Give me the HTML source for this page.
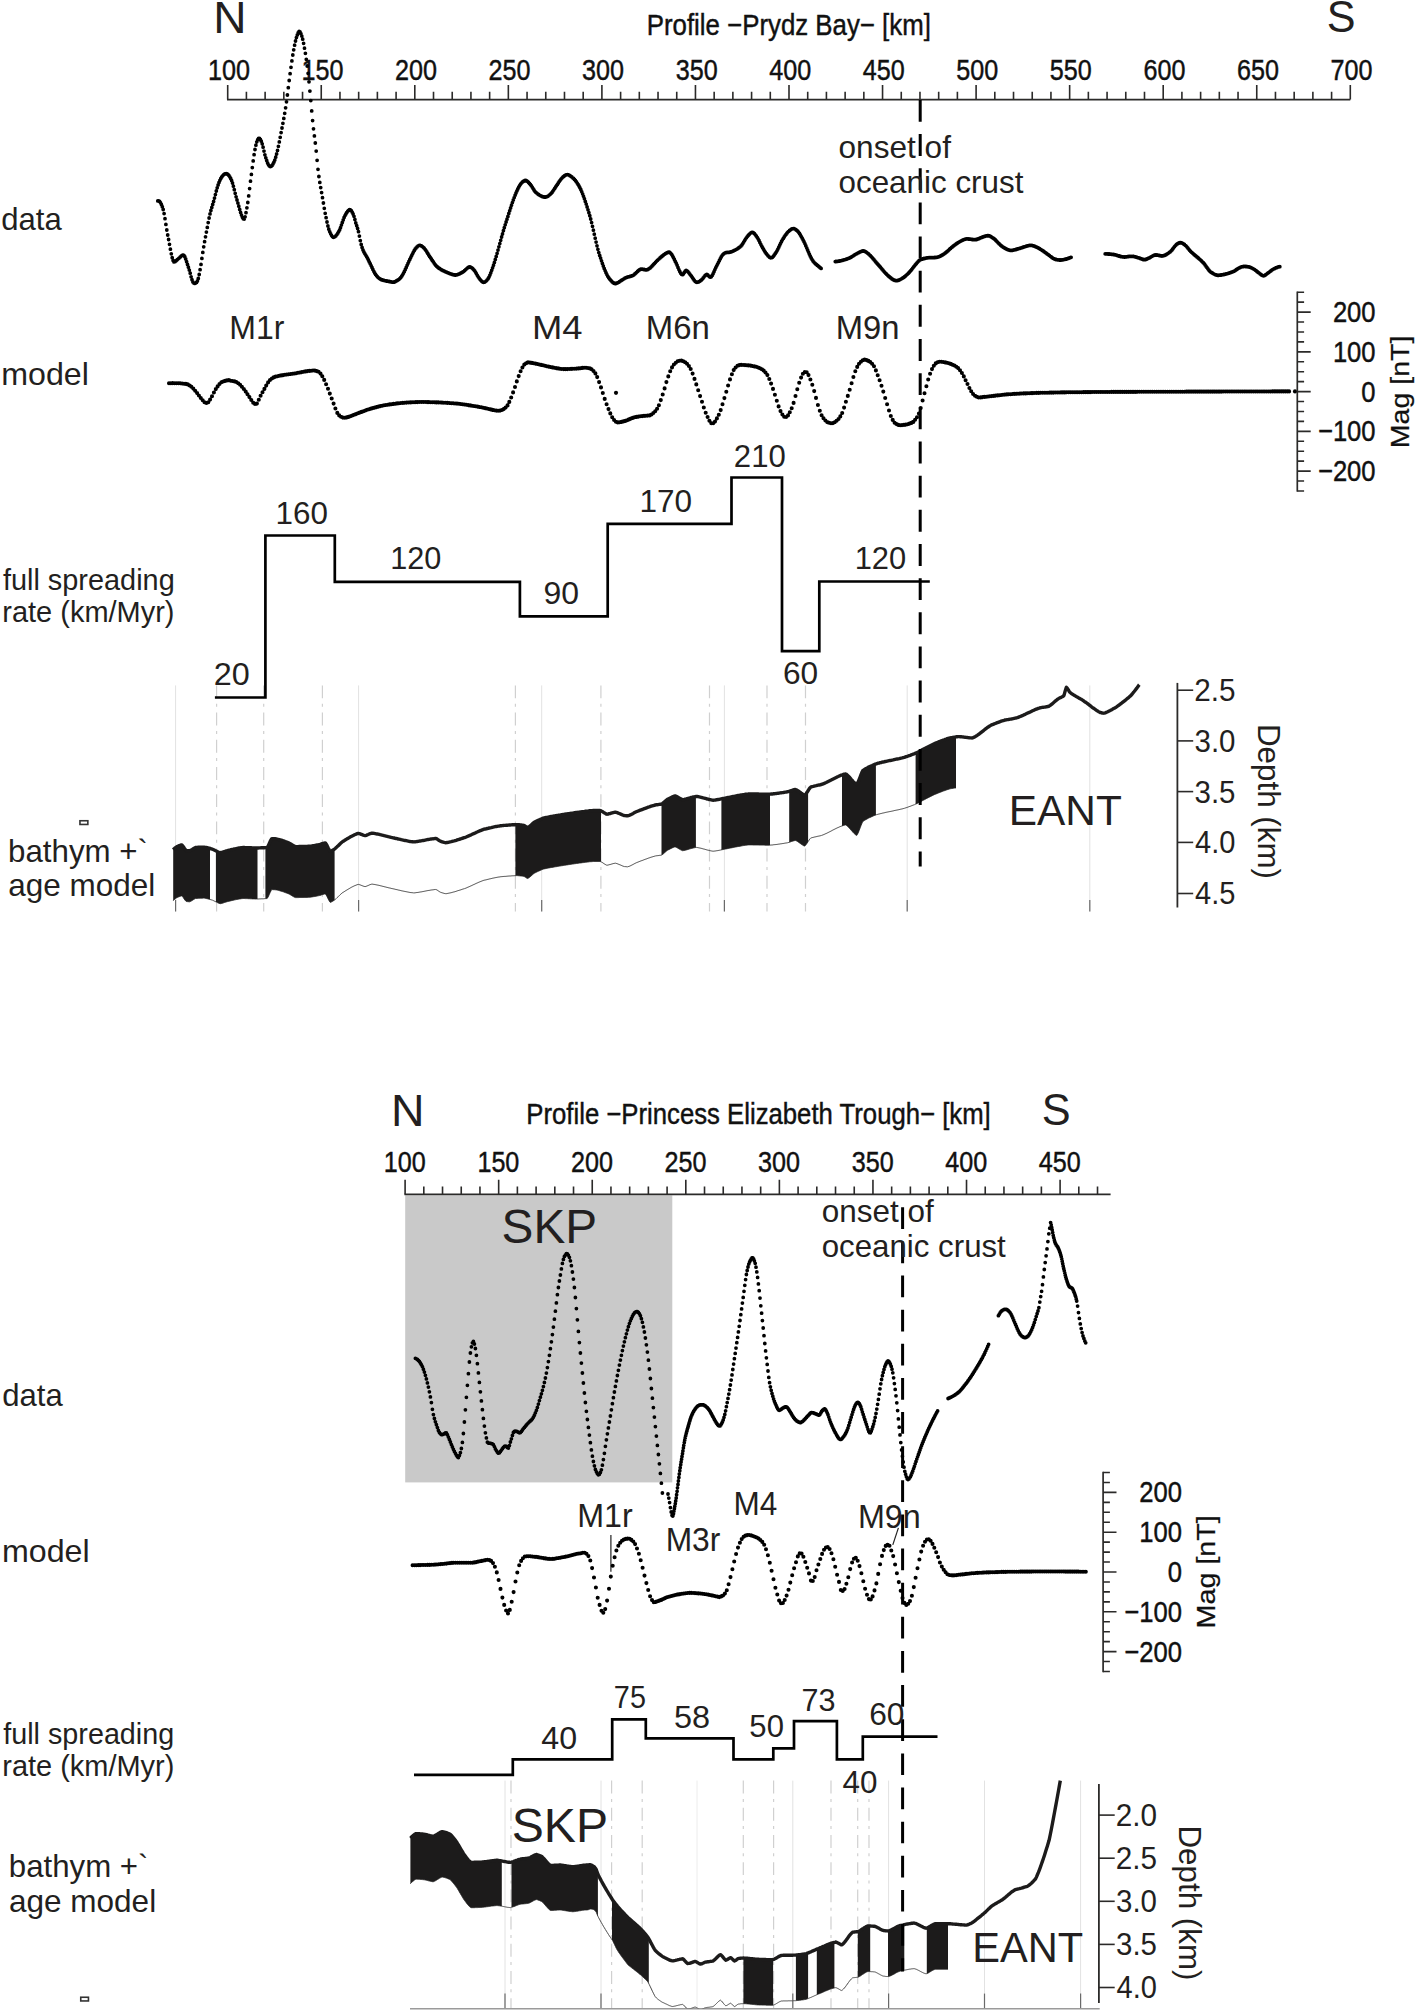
<!DOCTYPE html>
<html lang="en"><head><meta charset="utf-8"><title>Magnetic profiles: Prydz Bay and Princess Elizabeth Trough</title>
<style>html,body{margin:0;padding:0;background:#fff}svg{display:block}</style></head>
<body>
<svg width="1416" height="2012" viewBox="0 0 1416 2012" font-family="'Liberation Sans', Arial, Helvetica, sans-serif">
<rect width="1416" height="2012" fill="#fff"/>
<line x1="175.6" y1="685.4" x2="175.6" y2="911.5" stroke="#e2e2e2" stroke-width="1"/>
<line x1="175.6" y1="900" x2="175.6" y2="911.5" stroke="#6a6a6a" stroke-width="1.2"/>
<line x1="358.6" y1="685.4" x2="358.6" y2="911.5" stroke="#e2e2e2" stroke-width="1"/>
<line x1="358.6" y1="900" x2="358.6" y2="911.5" stroke="#6a6a6a" stroke-width="1.2"/>
<line x1="541.7" y1="685.4" x2="541.7" y2="911.5" stroke="#e2e2e2" stroke-width="1"/>
<line x1="541.7" y1="900" x2="541.7" y2="911.5" stroke="#6a6a6a" stroke-width="1.2"/>
<line x1="724.4" y1="685.4" x2="724.4" y2="911.5" stroke="#e2e2e2" stroke-width="1"/>
<line x1="724.4" y1="900" x2="724.4" y2="911.5" stroke="#6a6a6a" stroke-width="1.2"/>
<line x1="907.2" y1="685.4" x2="907.2" y2="911.5" stroke="#e2e2e2" stroke-width="1"/>
<line x1="907.2" y1="900" x2="907.2" y2="911.5" stroke="#6a6a6a" stroke-width="1.2"/>
<line x1="1089.8" y1="685.4" x2="1089.8" y2="911.5" stroke="#e2e2e2" stroke-width="1"/>
<line x1="1089.8" y1="900" x2="1089.8" y2="911.5" stroke="#6a6a6a" stroke-width="1.2"/>
<line x1="216.6" y1="685.4" x2="216.6" y2="911.5" stroke="#d0d0d0" stroke-width="1.2" stroke-dasharray="12.9 5.4 3 5.9"/>
<line x1="263.7" y1="685.4" x2="263.7" y2="911.5" stroke="#d0d0d0" stroke-width="1.2" stroke-dasharray="12.9 5.4 3 5.9"/>
<line x1="322.4" y1="685.4" x2="322.4" y2="911.5" stroke="#d0d0d0" stroke-width="1.2" stroke-dasharray="12.9 5.4 3 5.9"/>
<line x1="515.4" y1="685.4" x2="515.4" y2="911.5" stroke="#d0d0d0" stroke-width="1.2" stroke-dasharray="12.9 5.4 3 5.9"/>
<line x1="600.9" y1="685.4" x2="600.9" y2="911.5" stroke="#d0d0d0" stroke-width="1.2" stroke-dasharray="12.9 5.4 3 5.9"/>
<line x1="709.5" y1="685.4" x2="709.5" y2="911.5" stroke="#d0d0d0" stroke-width="1.2" stroke-dasharray="12.9 5.4 3 5.9"/>
<line x1="767" y1="685.4" x2="767" y2="911.5" stroke="#d0d0d0" stroke-width="1.2" stroke-dasharray="12.9 5.4 3 5.9"/>
<line x1="805.5" y1="685.4" x2="805.5" y2="911.5" stroke="#d0d0d0" stroke-width="1.2" stroke-dasharray="12.9 5.4 3 5.9"/>
<line x1="227.0" y1="99.6" x2="1350.3" y2="99.6" stroke="#2b2a29" stroke-width="1.7"/>
<path d="M227.70 99.6V85.0M246.41 99.6V91.8M265.12 99.6V91.8M283.83 99.6V91.8M302.54 99.6V91.8M321.25 99.6V85.0M339.96 99.6V91.8M358.67 99.6V91.8M377.38 99.6V91.8M396.09 99.6V91.8M414.80 99.6V85.0M433.51 99.6V91.8M452.22 99.6V91.8M470.93 99.6V91.8M489.64 99.6V91.8M508.35 99.6V85.0M527.06 99.6V91.8M545.77 99.6V91.8M564.48 99.6V91.8M583.19 99.6V91.8M601.90 99.6V85.0M620.61 99.6V91.8M639.32 99.6V91.8M658.03 99.6V91.8M676.74 99.6V91.8M695.45 99.6V85.0M714.16 99.6V91.8M732.87 99.6V91.8M751.58 99.6V91.8M770.29 99.6V91.8M789.00 99.6V85.0M807.71 99.6V91.8M826.42 99.6V91.8M845.13 99.6V91.8M863.84 99.6V91.8M882.55 99.6V85.0M901.26 99.6V91.8M919.97 99.6V91.8M938.68 99.6V91.8M957.39 99.6V91.8M976.10 99.6V85.0M994.81 99.6V91.8M1013.52 99.6V91.8M1032.23 99.6V91.8M1050.94 99.6V91.8M1069.65 99.6V85.0M1088.36 99.6V91.8M1107.07 99.6V91.8M1125.78 99.6V91.8M1144.49 99.6V91.8M1163.20 99.6V85.0M1181.91 99.6V91.8M1200.62 99.6V91.8M1219.33 99.6V91.8M1238.04 99.6V91.8M1256.75 99.6V85.0M1275.46 99.6V91.8M1294.17 99.6V91.8M1312.88 99.6V91.8M1331.59 99.6V91.8M1350.30 99.6V85.0" stroke="#2b2a29" stroke-width="1.6" fill="none"/>
<text transform="translate(228.90,79.9) scale(0.853,1)" font-size="29.5" text-anchor="middle" fill="#111" stroke="#111" stroke-width="0.45">100</text>
<text transform="translate(322.45,79.9) scale(0.853,1)" font-size="29.5" text-anchor="middle" fill="#111" stroke="#111" stroke-width="0.45">150</text>
<text transform="translate(416.00,79.9) scale(0.853,1)" font-size="29.5" text-anchor="middle" fill="#111" stroke="#111" stroke-width="0.45">200</text>
<text transform="translate(509.55,79.9) scale(0.853,1)" font-size="29.5" text-anchor="middle" fill="#111" stroke="#111" stroke-width="0.45">250</text>
<text transform="translate(603.10,79.9) scale(0.853,1)" font-size="29.5" text-anchor="middle" fill="#111" stroke="#111" stroke-width="0.45">300</text>
<text transform="translate(696.65,79.9) scale(0.853,1)" font-size="29.5" text-anchor="middle" fill="#111" stroke="#111" stroke-width="0.45">350</text>
<text transform="translate(790.20,79.9) scale(0.853,1)" font-size="29.5" text-anchor="middle" fill="#111" stroke="#111" stroke-width="0.45">400</text>
<text transform="translate(883.75,79.9) scale(0.853,1)" font-size="29.5" text-anchor="middle" fill="#111" stroke="#111" stroke-width="0.45">450</text>
<text transform="translate(977.30,79.9) scale(0.853,1)" font-size="29.5" text-anchor="middle" fill="#111" stroke="#111" stroke-width="0.45">500</text>
<text transform="translate(1070.85,79.9) scale(0.853,1)" font-size="29.5" text-anchor="middle" fill="#111" stroke="#111" stroke-width="0.45">550</text>
<text transform="translate(1164.40,79.9) scale(0.853,1)" font-size="29.5" text-anchor="middle" fill="#111" stroke="#111" stroke-width="0.45">600</text>
<text transform="translate(1257.95,79.9) scale(0.853,1)" font-size="29.5" text-anchor="middle" fill="#111" stroke="#111" stroke-width="0.45">650</text>
<text transform="translate(1351.50,79.9) scale(0.853,1)" font-size="29.5" text-anchor="middle" fill="#111" stroke="#111" stroke-width="0.45">700</text>
<path d="M157.8 200.9h0M158.7 200.9h0M159.6 201.5h0M160.5 202.7h0M161.4 204.4h0M162.3 206.7h0M163.2 209.5h0M164.1 213.6h0M165.0 218.7h0M165.9 224.4h0M166.8 230.0h0M167.7 235.0h0M168.6 239.5h0M169.5 244.3h0M170.4 249.2h0M171.3 253.8h0M172.2 257.7h0M173.1 260.5h0M174.0 261.9h0M174.9 261.7h0M175.8 261.0h0M176.7 260.2h0M177.6 259.3h0M178.5 258.6h0M179.4 257.8h0M180.3 256.9h0M181.2 256.1h0M182.1 255.5h0M183.0 255.1h0M183.9 255.3h0M184.8 256.7h0M185.7 259.0h0M186.6 261.7h0M187.5 264.5h0M188.4 267.2h0M189.3 270.1h0M190.2 273.2h0M191.1 276.8h0M192.0 279.7h0M192.9 281.9h0M193.8 282.9h0M194.7 283.4h0M195.6 283.1h0M196.5 282.4h0M197.4 281.0h0M198.3 278.5h0M199.2 274.5h0M200.1 269.7h0M201.0 264.4h0M201.9 258.4h0M202.8 252.4h0M203.7 246.8h0M204.6 241.7h0M205.5 236.8h0M206.4 232.1h0M207.3 227.4h0M208.2 222.6h0M209.1 218.0h0M210.0 213.9h0M210.9 210.5h0M211.8 207.4h0M212.7 204.5h0M213.6 201.5h0M214.5 198.1h0M215.4 194.6h0M216.3 191.0h0M217.2 187.8h0M218.1 185.0h0M219.0 182.5h0M219.9 180.3h0M220.8 178.5h0M221.7 177.0h0M222.6 175.8h0M223.5 174.8h0M224.4 174.2h0M225.3 173.8h0M226.2 173.7h0M227.1 173.9h0M228.0 174.5h0M228.9 175.5h0M229.8 176.8h0M230.7 178.4h0M231.6 180.4h0M232.5 183.0h0M233.4 186.2h0M234.3 189.7h0M235.2 193.3h0M236.1 196.8h0M237.0 200.0h0M237.9 203.1h0M238.8 206.2h0M239.7 209.4h0M240.6 212.4h0M241.5 215.1h0M242.4 217.3h0M243.3 218.8h0M244.2 219.1h0M245.1 216.8h0M246.0 212.7h0M246.9 207.8h0M247.8 202.5h0M248.7 195.9h0M249.6 188.6h0M250.5 181.2h0M251.4 174.4h0M252.3 167.6h0M253.2 160.9h0M254.1 154.7h0M255.0 149.5h0M255.9 145.2h0M256.8 141.8h0M257.7 139.7h0M258.6 138.3h0M259.5 138.3h0M260.4 139.4h0M261.3 141.2h0M262.2 143.8h0M263.1 147.2h0M264.0 151.1h0M264.9 154.8h0M265.8 157.8h0M266.7 160.5h0M267.6 163.0h0M268.5 164.8h0M269.4 165.9h0M270.3 166.5h0M271.2 166.3h0M272.1 165.4h0M273.0 163.9h0M273.9 162.2h0M274.8 160.1h0M275.7 157.2h0M276.6 153.9h0M277.5 150.4h0M278.4 146.3h0M279.3 141.9h0M280.2 137.3h0M281.1 132.6h0M282.0 128.0h0M282.9 123.3h0M283.8 118.4h0M284.7 113.3h0M285.6 107.8h0M286.5 101.8h0M287.4 95.0h0M288.3 87.7h0M289.2 80.5h0M290.1 73.7h0M291.0 67.3h0M291.9 60.9h0M292.8 55.0h0M293.7 49.8h0M294.6 45.2h0M295.5 41.0h0M296.4 37.6h0M297.3 35.0h0M298.2 32.7h0M299.1 31.4h0M300.0 31.8h0M300.9 33.6h0M301.8 36.1h0M302.7 39.2h0M303.6 43.3h0M304.5 48.2h0M305.4 53.3h0M306.3 59.3h0M307.2 66.0h0M308.1 73.3h0M309.0 81.8h0M309.9 91.1h0M310.8 100.6h0M311.7 110.9h0M312.6 120.6h0M313.5 128.8h0M314.4 135.9h0M315.3 143.0h0M316.2 151.1h0M317.1 160.3h0M318.0 169.3h0M318.9 176.5h0M319.8 182.4h0M320.7 187.6h0M321.6 192.6h0M322.5 197.7h0M323.4 203.0h0M324.3 208.3h0M325.2 213.3h0M326.1 217.7h0M327.0 222.0h0M327.9 225.9h0M328.8 229.2h0M329.7 231.6h0M330.6 233.6h0M331.5 235.3h0M332.4 236.6h0M333.3 237.3h0M334.2 237.1h0M335.1 236.6h0M336.0 235.7h0M336.9 234.6h0M337.8 233.2h0M338.7 231.6h0M339.6 229.9h0M340.5 227.7h0M341.4 225.1h0M342.3 222.5h0M343.2 219.9h0M344.1 217.5h0M345.0 215.6h0M345.9 214.0h0M346.8 212.5h0M347.7 211.2h0M348.6 210.3h0M349.5 209.7h0M350.4 209.9h0M351.3 210.7h0M352.2 212.2h0M353.1 214.0h0M354.0 216.3h0M354.9 219.5h0M355.8 222.9h0M356.7 225.7h0M357.6 228.5h0M358.5 231.7h0M359.4 236.1h0M360.3 240.6h0M361.2 244.5h0M362.1 247.5h0M363.0 249.9h0M363.9 251.9h0M364.8 253.6h0M365.7 255.1h0M366.6 256.6h0M367.5 258.2h0M368.4 260.0h0M369.3 261.9h0M370.2 263.7h0M371.1 265.6h0M372.0 267.5h0M372.9 269.4h0M373.8 271.3h0M374.7 273.0h0M375.6 274.4h0M376.5 275.6h0M377.4 276.7h0M378.3 277.6h0M379.2 278.3h0M380.1 278.9h0M381.0 279.5h0M381.9 279.9h0M382.8 280.2h0M383.7 280.4h0M384.6 280.6h0M385.5 280.8h0M386.4 281.0h0M387.3 281.2h0M388.2 281.3h0M389.1 281.5h0M390.0 281.7h0M390.9 281.9h0M391.8 282.1h0M392.7 282.2h0M393.6 282.2h0M394.5 282.0h0M395.4 281.6h0M396.3 281.0h0M397.2 280.5h0M398.1 279.9h0M399.0 279.3h0M399.9 278.4h0M400.8 277.4h0M401.7 276.2h0M402.6 274.8h0M403.5 273.2h0M404.4 271.4h0M405.3 269.4h0M406.2 267.4h0M407.1 265.3h0M408.0 263.3h0M408.9 261.3h0M409.8 259.4h0M410.7 257.6h0M411.6 255.7h0M412.5 253.9h0M413.4 252.1h0M414.3 250.5h0M415.2 249.0h0M416.1 247.9h0M417.0 246.9h0M417.9 246.1h0M418.8 245.6h0M419.7 245.4h0M420.6 245.6h0M421.5 246.0h0M422.4 246.6h0M423.3 247.3h0M424.2 248.2h0M425.1 249.3h0M426.0 250.6h0M426.9 252.0h0M427.8 253.5h0M428.7 255.0h0M429.6 256.4h0M430.5 257.7h0M431.4 259.0h0M432.3 260.4h0M433.2 261.7h0M434.1 263.1h0M435.0 264.3h0M435.9 265.4h0M436.8 266.4h0M437.7 267.2h0M438.6 267.9h0M439.5 268.5h0M440.4 269.1h0M441.3 269.7h0M442.2 270.2h0M443.1 270.7h0M444.0 271.1h0M444.9 271.5h0M445.8 271.9h0M446.7 272.3h0M447.6 272.7h0M448.5 273.1h0M449.4 273.4h0M450.3 273.8h0M451.2 274.1h0M452.1 274.4h0M453.0 274.7h0M453.9 274.9h0M454.8 275.0h0M455.7 275.0h0M456.6 274.9h0M457.5 274.6h0M458.4 274.3h0M459.3 273.9h0M460.2 273.4h0M461.1 273.0h0M462.0 272.5h0M462.9 272.0h0M463.8 271.3h0M464.7 270.5h0M465.6 269.6h0M466.5 268.8h0M467.4 268.1h0M468.3 267.5h0M469.2 267.0h0M470.1 266.9h0M471.0 267.3h0M471.9 267.9h0M472.8 268.7h0M473.7 269.7h0M474.6 270.7h0M475.5 272.1h0M476.4 273.7h0M477.3 275.3h0M478.2 276.8h0M479.1 278.1h0M480.0 279.3h0M480.9 280.3h0M481.8 281.3h0M482.7 282.0h0M483.6 282.3h0M484.5 282.2h0M485.4 281.6h0M486.3 280.8h0M487.2 279.8h0M488.1 278.7h0M489.0 277.1h0M489.9 275.1h0M490.8 272.8h0M491.7 270.3h0M492.6 267.8h0M493.5 265.2h0M494.4 262.4h0M495.3 259.5h0M496.2 256.4h0M497.1 253.3h0M498.0 250.1h0M498.9 246.8h0M499.8 243.6h0M500.7 240.3h0M501.6 237.0h0M502.5 233.9h0M503.4 230.7h0M504.3 227.7h0M505.2 224.8h0M506.1 222.0h0M507.0 219.2h0M507.9 216.4h0M508.8 213.5h0M509.7 210.7h0M510.6 208.0h0M511.5 205.2h0M512.4 202.6h0M513.3 200.0h0M514.2 197.6h0M515.1 195.2h0M516.0 193.0h0M516.9 190.9h0M517.8 189.0h0M518.7 187.2h0M519.6 185.6h0M520.5 184.2h0M521.4 183.1h0M522.3 182.2h0M523.2 181.5h0M524.1 180.9h0M525.0 180.5h0M525.9 180.5h0M526.8 180.9h0M527.7 181.6h0M528.6 182.5h0M529.5 183.5h0M530.4 184.5h0M531.3 185.7h0M532.2 187.1h0M533.1 188.6h0M534.0 190.0h0M534.9 191.3h0M535.8 192.3h0M536.7 193.1h0M537.6 193.8h0M538.5 194.5h0M539.4 195.1h0M540.3 195.6h0M541.2 196.1h0M542.1 196.5h0M543.0 196.8h0M543.9 197.0h0M544.8 197.0h0M545.7 197.0h0M546.6 196.8h0M547.5 196.4h0M548.4 195.8h0M549.3 195.1h0M550.2 194.3h0M551.1 193.4h0M552.0 192.4h0M552.9 191.1h0M553.8 189.8h0M554.7 188.4h0M555.6 187.0h0M556.5 185.7h0M557.4 184.4h0M558.3 183.0h0M559.2 181.6h0M560.1 180.3h0M561.0 179.1h0M561.9 178.1h0M562.8 177.2h0M563.7 176.4h0M564.6 175.7h0M565.5 175.2h0M566.4 174.8h0M567.3 174.7h0M568.2 174.8h0M569.1 175.2h0M570.0 175.7h0M570.9 176.3h0M571.8 177.0h0M572.7 177.8h0M573.6 178.5h0M574.5 179.4h0M575.4 180.5h0M576.3 181.7h0M577.2 183.1h0M578.1 184.5h0M579.0 186.0h0M579.9 187.7h0M580.8 189.5h0M581.7 191.6h0M582.6 193.8h0M583.5 196.2h0M584.4 198.7h0M585.3 201.4h0M586.2 204.1h0M587.1 206.9h0M588.0 209.8h0M588.9 212.7h0M589.8 215.7h0M590.7 219.0h0M591.6 222.6h0M592.5 226.3h0M593.4 230.2h0M594.3 234.2h0M595.2 238.2h0M596.1 242.1h0M597.0 245.8h0M597.9 249.3h0M598.8 252.6h0M599.7 255.4h0M600.6 258.1h0M601.5 260.8h0M602.4 263.4h0M603.3 266.0h0M604.2 268.4h0M605.1 270.6h0M606.0 272.7h0M606.9 274.6h0M607.8 276.3h0M608.7 277.7h0M609.6 278.9h0M610.5 279.9h0M611.4 280.9h0M612.3 281.9h0M613.2 282.7h0M614.1 283.3h0M615.0 283.6h0M615.9 283.5h0M616.8 283.2h0M617.7 282.8h0M618.6 282.3h0M619.5 281.7h0M620.4 281.1h0M621.3 280.5h0M622.2 279.9h0M623.1 279.3h0M624.0 278.8h0M624.9 278.2h0M625.8 277.8h0M626.7 277.4h0M627.6 277.1h0M628.5 276.9h0M629.4 276.7h0M630.3 276.4h0M631.2 276.2h0M632.1 275.8h0M633.0 275.4h0M633.9 274.8h0M634.8 274.0h0M635.7 273.2h0M636.6 272.3h0M637.5 271.5h0M638.4 270.7h0M639.3 270.0h0M640.2 269.5h0M641.1 269.2h0M642.0 269.2h0M642.9 269.3h0M643.8 269.5h0M644.7 269.7h0M645.6 269.9h0M646.5 269.9h0M647.4 269.7h0M648.3 269.2h0M649.2 268.6h0M650.1 267.9h0M651.0 267.1h0M651.9 266.2h0M652.8 265.2h0M653.7 264.2h0M654.6 263.3h0M655.5 262.3h0M656.4 261.3h0M657.3 260.4h0M658.2 259.6h0M659.1 258.8h0M660.0 258.0h0M660.9 257.2h0M661.8 256.5h0M662.7 255.7h0M663.6 255.0h0M664.5 254.3h0M665.4 253.7h0M666.3 253.2h0M667.2 252.7h0M668.1 252.4h0M669.0 252.2h0M669.9 252.4h0M670.8 253.3h0M671.7 254.5h0M672.6 256.0h0M673.5 257.7h0M674.4 259.5h0M675.3 261.4h0M676.2 263.2h0M677.1 265.2h0M678.0 267.4h0M678.9 269.6h0M679.8 271.5h0M680.7 273.2h0M681.6 274.3h0M682.5 274.7h0M683.4 273.9h0M684.3 272.5h0M685.2 271.1h0M686.1 270.4h0M687.0 270.8h0M687.9 271.7h0M688.8 272.7h0M689.7 273.9h0M690.6 275.1h0M691.5 276.2h0M692.4 277.6h0M693.3 278.9h0M694.2 280.2h0M695.1 281.3h0M696.0 282.0h0M696.9 282.3h0M697.8 282.2h0M698.7 281.9h0M699.6 281.3h0M700.5 280.7h0M701.4 280.0h0M702.3 279.1h0M703.2 278.0h0M704.1 276.8h0M705.0 275.7h0M705.9 274.9h0M706.8 274.5h0M707.7 274.9h0M708.6 275.8h0M709.5 276.7h0M710.4 277.2h0M711.3 276.7h0M712.2 275.4h0M713.1 273.7h0M714.0 271.7h0M714.9 269.6h0M715.8 267.6h0M716.7 265.8h0M717.6 264.1h0M718.5 262.3h0M719.4 260.5h0M720.3 258.7h0M721.2 257.0h0M722.1 255.6h0M723.0 254.4h0M723.9 253.6h0M724.8 253.1h0M725.7 252.7h0M726.6 252.6h0M727.5 252.4h0M728.4 252.4h0M729.3 252.3h0M730.2 252.2h0M731.1 251.9h0M732.0 251.6h0M732.9 251.2h0M733.8 250.7h0M734.7 250.3h0M735.6 249.8h0M736.5 249.3h0M737.4 248.8h0M738.3 248.2h0M739.2 247.5h0M740.1 246.8h0M741.0 246.0h0M741.9 244.9h0M742.8 243.6h0M743.7 242.1h0M744.6 240.6h0M745.5 239.1h0M746.4 237.8h0M747.3 236.6h0M748.2 235.5h0M749.1 234.5h0M750.0 233.6h0M750.9 232.8h0M751.8 232.4h0M752.7 232.5h0M753.6 232.9h0M754.5 233.7h0M755.4 234.8h0M756.3 236.0h0M757.2 237.3h0M758.1 238.8h0M759.0 240.5h0M759.9 242.4h0M760.8 244.3h0M761.7 246.1h0M762.6 247.7h0M763.5 249.2h0M764.4 250.8h0M765.3 252.2h0M766.2 253.5h0M767.1 254.6h0M768.0 255.7h0M768.9 256.6h0M769.8 257.4h0M770.7 257.8h0M771.6 257.7h0M772.5 257.2h0M773.4 256.2h0M774.3 255.0h0M775.2 253.7h0M776.1 252.3h0M777.0 250.8h0M777.9 249.1h0M778.8 247.2h0M779.7 245.2h0M780.6 243.3h0M781.5 241.5h0M782.4 239.8h0M783.3 238.4h0M784.2 237.0h0M785.1 235.6h0M786.0 234.4h0M786.9 233.2h0M787.8 232.1h0M788.7 231.3h0M789.6 230.5h0M790.5 229.8h0M791.4 229.2h0M792.3 228.8h0M793.2 228.6h0M794.1 228.7h0M795.0 229.1h0M795.9 229.7h0M796.8 230.4h0M797.7 231.2h0M798.6 232.2h0M799.5 233.5h0M800.4 235.0h0M801.3 236.6h0M802.2 238.2h0M803.1 239.9h0M804.0 241.7h0M804.9 243.6h0M805.8 245.7h0M806.7 247.8h0M807.6 250.0h0M808.5 252.1h0M809.4 254.2h0M810.3 256.2h0M811.2 258.0h0M812.1 259.6h0M813.0 261.0h0M813.9 262.1h0M814.8 263.1h0M815.7 263.9h0M816.6 264.7h0M817.5 265.4h0M818.4 266.2h0M819.3 267.0h0M820.2 267.7h0M821.1 268.4h0M835.3 261.6h0M836.2 261.5h0M837.1 261.4h0M838.0 261.3h0M838.9 261.2h0M839.8 261.0h0M840.7 260.8h0M841.6 260.6h0M842.5 260.4h0M843.4 260.1h0M844.3 259.8h0M845.2 259.6h0M846.1 259.3h0M847.0 259.0h0M847.9 258.6h0M848.8 258.3h0M849.7 257.9h0M850.6 257.4h0M851.5 256.9h0M852.4 256.3h0M853.3 255.8h0M854.2 255.2h0M855.1 254.6h0M856.0 254.1h0M856.9 253.6h0M857.8 253.1h0M858.7 252.7h0M859.6 252.2h0M860.5 251.8h0M861.4 251.4h0M862.3 251.2h0M863.2 251.0h0M864.1 251.1h0M865.0 251.4h0M865.9 251.9h0M866.8 252.6h0M867.7 253.3h0M868.6 254.0h0M869.5 254.8h0M870.4 255.7h0M871.3 256.6h0M872.2 257.6h0M873.1 258.7h0M874.0 259.7h0M874.9 260.8h0M875.8 261.9h0M876.7 263.0h0M877.6 264.0h0M878.5 265.0h0M879.4 266.0h0M880.3 267.0h0M881.2 268.1h0M882.1 269.2h0M883.0 270.2h0M883.9 271.3h0M884.8 272.3h0M885.7 273.3h0M886.6 274.2h0M887.5 275.1h0M888.4 276.0h0M889.3 276.7h0M890.2 277.5h0M891.1 278.2h0M892.0 278.9h0M892.9 279.5h0M893.8 280.0h0M894.7 280.4h0M895.6 280.6h0M896.5 280.7h0M897.4 280.6h0M898.3 280.4h0M899.2 280.0h0M900.1 279.6h0M901.0 279.1h0M901.9 278.6h0M902.8 278.0h0M903.7 277.4h0M904.6 276.7h0M905.5 275.9h0M906.4 275.1h0M907.3 274.3h0M908.2 273.4h0M909.1 272.5h0M910.0 271.5h0M910.9 270.4h0M911.8 269.3h0M912.7 268.1h0M913.6 266.9h0M914.5 265.8h0M915.4 264.7h0M916.3 263.7h0M917.2 262.6h0M918.1 261.6h0M919.0 260.7h0M919.9 260.1h0M920.8 259.6h0M921.7 259.3h0M922.6 259.0h0M923.5 258.7h0M924.4 258.5h0M925.3 258.3h0M926.2 258.1h0M927.1 257.9h0M928.0 257.8h0M928.9 257.7h0M929.8 257.6h0M930.7 257.6h0M931.6 257.6h0M932.5 257.6h0M933.4 257.6h0M934.3 257.6h0M935.2 257.5h0M936.1 257.4h0M937.0 257.3h0M937.9 257.1h0M938.8 256.8h0M939.7 256.4h0M940.6 256.0h0M941.5 255.5h0M942.4 255.0h0M943.3 254.4h0M944.2 253.9h0M945.1 253.2h0M946.0 252.5h0M946.9 251.7h0M947.8 250.9h0M948.7 250.1h0M949.6 249.2h0M950.5 248.4h0M951.4 247.6h0M952.3 246.9h0M953.2 246.2h0M954.1 245.5h0M955.0 244.8h0M955.9 244.2h0M956.8 243.5h0M957.7 242.9h0M958.6 242.3h0M959.5 241.8h0M960.4 241.3h0M961.3 240.8h0M962.2 240.4h0M963.1 239.9h0M964.0 239.6h0M964.9 239.3h0M965.8 239.1h0M966.7 238.9h0M967.6 238.9h0M968.5 239.0h0M969.4 239.1h0M970.3 239.2h0M971.2 239.3h0M972.1 239.5h0M973.0 239.6h0M973.9 239.7h0M974.8 239.7h0M975.7 239.6h0M976.6 239.5h0M977.5 239.2h0M978.4 238.9h0M979.3 238.5h0M980.2 238.1h0M981.1 237.7h0M982.0 237.4h0M982.9 237.0h0M983.8 236.7h0M984.7 236.4h0M985.6 236.1h0M986.5 235.9h0M987.4 235.7h0M988.3 235.7h0M989.2 235.9h0M990.1 236.2h0M991.0 236.7h0M991.9 237.3h0M992.8 237.9h0M993.7 238.5h0M994.6 239.2h0M995.5 240.0h0M996.4 240.9h0M997.3 241.8h0M998.2 242.8h0M999.1 243.7h0M1000.0 244.6h0M1000.9 245.4h0M1001.8 246.2h0M1002.7 246.8h0M1003.6 247.4h0M1004.5 247.9h0M1005.4 248.4h0M1006.3 248.9h0M1007.2 249.4h0M1008.1 249.8h0M1009.0 250.1h0M1009.9 250.3h0M1010.8 250.4h0M1011.7 250.4h0M1012.6 250.3h0M1013.5 250.1h0M1014.4 249.9h0M1015.3 249.7h0M1016.2 249.5h0M1017.1 249.2h0M1018.0 248.9h0M1018.9 248.6h0M1019.8 248.4h0M1020.7 248.1h0M1021.6 247.8h0M1022.5 247.5h0M1023.4 247.2h0M1024.3 246.9h0M1025.2 246.6h0M1026.1 246.3h0M1027.0 246.0h0M1027.9 245.8h0M1028.8 245.6h0M1029.7 245.4h0M1030.6 245.4h0M1031.5 245.4h0M1032.4 245.6h0M1033.3 245.9h0M1034.2 246.2h0M1035.1 246.5h0M1036.0 246.9h0M1036.9 247.3h0M1037.8 247.7h0M1038.7 248.2h0M1039.6 248.7h0M1040.5 249.3h0M1041.4 249.8h0M1042.3 250.4h0M1043.2 251.0h0M1044.1 251.7h0M1045.0 252.3h0M1045.9 253.0h0M1046.8 253.7h0M1047.7 254.3h0M1048.6 254.9h0M1049.5 255.6h0M1050.4 256.3h0M1051.3 257.0h0M1052.2 257.7h0M1053.1 258.3h0M1054.0 258.8h0M1054.9 259.2h0M1055.8 259.5h0M1056.7 259.7h0M1057.6 259.8h0M1058.5 259.9h0M1059.4 260.0h0M1060.3 260.0h0M1061.2 260.0h0M1062.1 259.9h0M1063.0 259.8h0M1063.9 259.6h0M1064.8 259.4h0M1065.7 259.2h0M1066.6 259.0h0M1067.5 258.7h0M1068.4 258.4h0M1069.3 258.0h0M1070.2 257.7h0M1071.1 257.3h0M1105.2 253.9h0M1106.1 253.9h0M1107.0 253.9h0M1107.9 254.0h0M1108.8 254.0h0M1109.7 254.1h0M1110.6 254.2h0M1111.5 254.3h0M1112.4 254.4h0M1113.3 254.5h0M1114.2 254.7h0M1115.1 254.9h0M1116.0 255.1h0M1116.9 255.4h0M1117.8 255.7h0M1118.7 256.0h0M1119.6 256.2h0M1120.5 256.5h0M1121.4 256.7h0M1122.3 256.8h0M1123.2 256.9h0M1124.1 257.0h0M1125.0 257.0h0M1125.9 256.9h0M1126.8 256.8h0M1127.7 256.7h0M1128.6 256.6h0M1129.5 256.4h0M1130.4 256.4h0M1131.3 256.3h0M1132.2 256.3h0M1133.1 256.4h0M1134.0 256.6h0M1134.9 256.8h0M1135.8 257.0h0M1136.7 257.3h0M1137.6 257.6h0M1138.5 257.9h0M1139.4 258.1h0M1140.3 258.5h0M1141.2 258.8h0M1142.1 259.2h0M1143.0 259.5h0M1143.9 259.7h0M1144.8 259.7h0M1145.7 259.5h0M1146.6 259.2h0M1147.5 258.7h0M1148.4 258.3h0M1149.3 257.9h0M1150.2 257.4h0M1151.1 256.8h0M1152.0 256.3h0M1152.9 255.8h0M1153.8 255.4h0M1154.7 255.1h0M1155.6 255.0h0M1156.5 255.0h0M1157.4 255.2h0M1158.3 255.3h0M1159.2 255.5h0M1160.1 255.7h0M1161.0 255.9h0M1161.9 256.0h0M1162.8 255.9h0M1163.7 255.7h0M1164.6 255.4h0M1165.5 255.0h0M1166.4 254.5h0M1167.3 253.9h0M1168.2 253.3h0M1169.1 252.6h0M1170.0 251.9h0M1170.9 251.1h0M1171.8 250.2h0M1172.7 249.0h0M1173.6 247.8h0M1174.5 246.6h0M1175.4 245.6h0M1176.3 244.7h0M1177.2 244.0h0M1178.1 243.4h0M1179.0 242.9h0M1179.9 242.6h0M1180.8 242.6h0M1181.7 242.9h0M1182.6 243.3h0M1183.5 243.9h0M1184.4 244.5h0M1185.3 245.3h0M1186.2 246.1h0M1187.1 247.1h0M1188.0 248.2h0M1188.9 249.3h0M1189.8 250.4h0M1190.7 251.4h0M1191.6 252.3h0M1192.5 253.1h0M1193.4 253.9h0M1194.3 254.7h0M1195.2 255.5h0M1196.1 256.2h0M1197.0 257.0h0M1197.9 257.7h0M1198.8 258.5h0M1199.7 259.3h0M1200.6 260.1h0M1201.5 260.9h0M1202.4 261.8h0M1203.3 262.7h0M1204.2 263.7h0M1205.1 264.9h0M1206.0 266.2h0M1206.9 267.4h0M1207.8 268.7h0M1208.7 269.9h0M1209.6 270.9h0M1210.5 271.8h0M1211.4 272.4h0M1212.3 273.0h0M1213.2 273.6h0M1214.1 274.1h0M1215.0 274.6h0M1215.9 274.9h0M1216.8 275.2h0M1217.7 275.3h0M1218.6 275.3h0M1219.5 275.2h0M1220.4 275.1h0M1221.3 275.0h0M1222.2 274.8h0M1223.1 274.7h0M1224.0 274.5h0M1224.9 274.3h0M1225.8 274.0h0M1226.7 273.8h0M1227.6 273.6h0M1228.5 273.3h0M1229.4 273.0h0M1230.3 272.7h0M1231.2 272.4h0M1232.1 272.1h0M1233.0 271.7h0M1233.9 271.3h0M1234.8 270.8h0M1235.7 270.2h0M1236.6 269.5h0M1237.5 268.9h0M1238.4 268.3h0M1239.3 267.9h0M1240.2 267.5h0M1241.1 267.1h0M1242.0 266.8h0M1242.9 266.6h0M1243.8 266.5h0M1244.7 266.4h0M1245.6 266.5h0M1246.5 266.6h0M1247.4 266.7h0M1248.3 266.9h0M1249.2 267.0h0M1250.1 267.3h0M1251.0 267.7h0M1251.9 268.1h0M1252.8 268.6h0M1253.7 269.1h0M1254.6 269.6h0M1255.5 270.3h0M1256.4 271.0h0M1257.3 271.7h0M1258.2 272.4h0M1259.1 273.1h0M1260.0 273.8h0M1260.9 274.5h0M1261.8 275.2h0M1262.7 275.6h0M1263.6 275.8h0M1264.5 275.6h0M1265.4 275.0h0M1266.3 274.3h0M1267.2 273.6h0M1268.1 272.9h0M1269.0 272.3h0M1269.9 271.6h0M1270.8 270.9h0M1271.7 270.2h0M1272.6 269.6h0M1273.5 269.1h0M1274.4 268.7h0M1275.3 268.2h0M1276.2 267.8h0M1277.1 267.5h0M1278.0 267.1h0M1278.9 266.9h0M1279.8 266.7h0M1280.7 nanh0" stroke="#000" stroke-width="3.8" stroke-linecap="round" fill="none"/>
<path d="M169.0 383.2h0M170.9 383.2h0M172.7 383.1h0M174.6 383.2h0M176.5 383.2h0M178.4 383.2h0M180.2 383.3h0M182.1 383.5h0M184.0 383.7h0M185.8 383.9h0M187.7 384.4h0M189.6 385.5h0M191.4 386.8h0M193.3 388.6h0M195.2 390.8h0M197.1 393.1h0M198.9 395.5h0M200.8 398.0h0M202.7 400.3h0M204.5 402.3h0M206.4 403.0h0M208.3 402.3h0M210.1 399.6h0M212.0 396.3h0M213.9 392.5h0M215.8 389.1h0M217.6 386.4h0M219.5 384.0h0M221.4 382.3h0M223.2 381.5h0M225.1 380.9h0M227.0 380.4h0M228.8 380.1h0M230.7 380.7h0M232.6 381.0h0M234.5 381.4h0M236.3 382.0h0M238.2 383.3h0M240.1 384.8h0M241.9 386.7h0M243.8 389.0h0M245.7 391.6h0M247.5 394.3h0M249.4 397.1h0M251.3 400.0h0M253.2 402.7h0M255.0 403.9h0M256.9 403.6h0M258.8 399.8h0M260.6 395.8h0M262.5 392.2h0M264.4 388.9h0M266.2 385.6h0M268.1 382.4h0M270.0 380.0h0M271.9 378.5h0M273.7 377.4h0M275.6 376.6h0M277.5 376.2h0M279.3 375.8h0M281.2 375.4h0M283.1 375.1h0M284.9 374.8h0M286.8 374.5h0M288.7 374.3h0M290.6 374.0h0M292.4 373.8h0M294.3 373.5h0M296.2 373.2h0M298.0 372.8h0M299.9 372.5h0M301.8 372.1h0M303.6 371.7h0M305.5 371.4h0M307.4 371.1h0M309.3 370.9h0M311.1 370.7h0M313.0 370.5h0M314.9 370.6h0M316.7 371.1h0M318.6 371.8h0M320.5 373.6h0M322.3 376.2h0M324.2 379.9h0M326.1 384.2h0M328.0 388.8h0M329.8 393.6h0M331.7 398.5h0M333.6 403.6h0M335.4 408.5h0M337.3 412.9h0M339.2 415.4h0M341.0 416.8h0M342.9 417.6h0M344.8 417.8h0M346.7 417.4h0M348.5 416.9h0M350.4 416.2h0M352.3 415.5h0M354.1 414.8h0M356.0 414.1h0M357.9 413.3h0M359.7 412.6h0M361.6 411.9h0M363.5 411.2h0M365.4 410.5h0M367.2 409.8h0M369.1 409.2h0M371.0 408.6h0M372.8 408.1h0M374.7 407.6h0M376.6 407.1h0M378.4 406.6h0M380.3 406.1h0M382.2 405.7h0M384.1 405.3h0M385.9 405.0h0M387.8 404.7h0M389.7 404.4h0M391.5 404.2h0M393.4 403.9h0M395.3 403.7h0M397.1 403.4h0M399.0 403.2h0M400.9 403.0h0M402.8 402.9h0M404.6 402.8h0M406.5 402.6h0M408.4 402.5h0M410.2 402.4h0M412.1 402.3h0M414.0 402.2h0M415.8 402.1h0M417.7 402.1h0M419.6 402.0h0M421.5 402.0h0M423.3 402.0h0M425.2 402.0h0M427.1 402.1h0M428.9 402.1h0M430.8 402.2h0M432.7 402.2h0M434.5 402.3h0M436.4 402.4h0M438.3 402.4h0M440.2 402.5h0M442.0 402.6h0M443.9 402.7h0M445.8 402.8h0M447.6 402.9h0M449.5 403.0h0M451.4 403.2h0M453.2 403.3h0M455.1 403.5h0M457.0 403.6h0M458.9 403.8h0M460.7 404.0h0M462.6 404.2h0M464.5 404.5h0M466.3 404.8h0M468.2 405.1h0M470.1 405.4h0M471.9 405.7h0M473.8 406.0h0M475.7 406.3h0M477.6 406.6h0M479.4 407.0h0M481.3 407.3h0M483.2 407.7h0M485.0 408.1h0M486.9 408.5h0M488.8 409.0h0M490.6 409.4h0M492.5 409.9h0M494.4 410.3h0M496.3 410.6h0M498.1 410.8h0M500.0 410.6h0M501.9 410.0h0M503.7 409.1h0M505.6 407.6h0M507.5 405.4h0M509.3 401.9h0M511.2 397.5h0M513.1 392.4h0M515.0 387.0h0M516.8 381.4h0M518.7 376.1h0M520.6 371.2h0M522.4 367.5h0M524.3 364.6h0M526.2 363.2h0M528.0 362.4h0M529.9 362.6h0M531.8 362.9h0M533.7 363.2h0M535.5 363.6h0M537.4 364.0h0M539.3 364.5h0M541.1 364.9h0M543.0 365.3h0M544.9 365.7h0M546.7 366.2h0M548.6 366.6h0M550.5 367.0h0M552.4 367.4h0M554.2 367.7h0M556.1 368.1h0M558.0 368.4h0M559.8 368.7h0M561.7 369.0h0M563.6 369.1h0M565.4 369.1h0M567.3 369.1h0M569.2 369.0h0M571.1 368.9h0M572.9 368.8h0M574.8 368.7h0M576.7 368.6h0M578.5 368.4h0M580.4 368.2h0M582.3 367.9h0M584.1 367.8h0M586.0 367.7h0M587.9 368.0h0M589.8 368.4h0M591.6 369.3h0M593.5 371.0h0M595.4 373.4h0M597.2 377.1h0M599.1 382.1h0M601.0 387.4h0M602.8 393.0h0M604.7 398.9h0M606.6 404.3h0M608.5 409.1h0M610.3 413.4h0M612.2 417.3h0M614.1 420.0h0M615.9 421.8h0M617.8 422.4h0M619.7 422.2h0M621.5 421.9h0M623.4 421.4h0M625.3 420.9h0M627.2 420.2h0M629.0 419.4h0M630.9 418.6h0M632.8 417.9h0M634.6 417.3h0M636.5 416.9h0M638.4 416.6h0M640.2 416.3h0M642.1 416.1h0M644.0 415.9h0M645.9 415.7h0M647.7 415.6h0M649.6 415.4h0M651.5 414.5h0M653.3 413.0h0M655.2 411.3h0M657.1 408.7h0M658.9 405.2h0M660.8 400.1h0M662.7 394.5h0M664.6 388.4h0M666.4 382.1h0M668.3 376.4h0M670.2 371.3h0M672.0 367.4h0M673.9 364.5h0M675.8 362.7h0M677.6 361.3h0M679.5 360.8h0M681.4 360.6h0M683.3 361.2h0M685.1 362.3h0M687.0 363.7h0M688.9 366.0h0M690.7 369.0h0M692.6 373.6h0M694.5 378.9h0M696.3 384.4h0M698.2 390.3h0M700.1 396.1h0M702.0 401.8h0M703.8 407.5h0M705.7 412.8h0M707.6 417.0h0M709.4 420.7h0M711.3 423.3h0M713.2 423.3h0M715.0 421.6h0M716.9 418.4h0M718.8 414.7h0M720.7 410.1h0M722.5 404.2h0M724.4 398.1h0M726.3 391.7h0M728.1 385.5h0M730.0 379.4h0M731.9 374.3h0M733.7 370.1h0M735.6 367.5h0M737.5 365.7h0M739.4 365.1h0M741.2 364.9h0M743.1 365.0h0M745.0 365.1h0M746.8 365.2h0M748.7 365.4h0M750.6 365.6h0M752.4 366.0h0M754.3 366.4h0M756.2 366.8h0M758.1 367.5h0M759.9 368.3h0M761.8 369.2h0M763.7 370.6h0M765.5 372.5h0M767.4 375.1h0M769.3 379.0h0M771.1 383.6h0M773.0 388.9h0M774.9 394.8h0M776.8 400.8h0M778.6 406.4h0M780.5 411.1h0M782.4 414.5h0M784.2 416.8h0M786.1 417.0h0M788.0 415.4h0M789.8 412.2h0M791.7 408.2h0M793.6 402.9h0M795.5 396.0h0M797.3 389.2h0M799.2 382.7h0M801.1 377.6h0M802.9 373.7h0M804.8 372.0h0M806.7 372.2h0M808.5 375.1h0M810.4 379.5h0M812.3 384.8h0M814.2 391.1h0M816.0 397.9h0M817.9 405.0h0M819.8 410.7h0M821.6 415.2h0M823.5 418.2h0M825.4 420.5h0M827.2 422.1h0M829.1 422.8h0M831.0 423.2h0M832.9 423.1h0M834.7 422.3h0M836.6 420.8h0M838.5 419.0h0M840.3 416.4h0M842.2 413.0h0M844.1 407.6h0M845.9 401.7h0M847.8 395.9h0M849.7 389.8h0M851.6 383.2h0M853.4 377.0h0M855.3 371.2h0M857.2 366.9h0M859.0 363.7h0M860.9 361.7h0M862.8 360.3h0M864.6 359.6h0M866.5 360.1h0M868.4 360.9h0M870.3 362.0h0M872.1 363.8h0M874.0 366.3h0M875.9 370.4h0M877.7 375.3h0M879.6 380.3h0M881.5 385.8h0M883.3 391.6h0M885.2 398.0h0M887.1 404.3h0M889.0 410.5h0M890.8 416.0h0M892.7 419.9h0M894.6 422.7h0M896.4 424.0h0M898.3 424.9h0M900.2 425.2h0M902.0 425.1h0M903.9 424.9h0M905.8 424.6h0M907.7 424.2h0M909.5 423.6h0M911.4 422.9h0M913.3 421.9h0M915.1 419.8h0M917.0 417.3h0M918.9 413.6h0M920.7 408.1h0M922.6 400.5h0M924.5 393.3h0M926.4 386.2h0M928.2 379.5h0M930.1 373.8h0M932.0 369.1h0M933.8 365.7h0M935.7 363.4h0M937.6 362.3h0M939.4 361.8h0M941.3 361.8h0M943.2 362.0h0M945.1 362.4h0M946.9 362.8h0M948.8 363.3h0M950.7 363.9h0M952.5 364.7h0M954.4 365.5h0M956.3 366.7h0M958.1 368.1h0M960.0 370.2h0M961.9 373.0h0M963.8 376.4h0M965.6 380.2h0M967.5 384.0h0M969.4 388.0h0M971.2 391.3h0M973.1 394.0h0M975.0 395.8h0M976.8 396.8h0M978.7 397.5h0M980.6 397.4h0M982.5 397.1h0M984.3 396.9h0M986.2 396.7h0M988.1 396.5h0M989.9 396.3h0M991.8 396.1h0M993.7 395.9h0M995.5 395.6h0M997.4 395.4h0M999.3 395.2h0M1001.2 395.0h0M1003.0 394.8h0M1004.9 394.6h0M1006.8 394.4h0M1008.6 394.3h0M1010.5 394.2h0M1012.4 394.0h0M1014.2 393.9h0M1016.1 393.8h0M1018.0 393.7h0M1019.9 393.6h0M1021.7 393.5h0M1023.6 393.4h0M1025.5 393.4h0M1027.3 393.3h0M1029.2 393.2h0M1031.1 393.1h0M1032.9 393.1h0M1034.8 393.0h0M1036.7 392.9h0M1038.6 392.9h0M1040.4 392.8h0M1042.3 392.8h0M1044.2 392.7h0M1046.0 392.7h0M1047.9 392.7h0M1049.8 392.6h0M1051.6 392.6h0M1053.5 392.6h0M1055.4 392.5h0M1057.3 392.5h0M1059.1 392.5h0M1061.0 392.4h0M1062.9 392.4h0M1064.7 392.4h0M1066.6 392.3h0M1068.5 392.3h0M1070.3 392.3h0M1072.2 392.3h0M1074.1 392.3h0M1076.0 392.2h0M1077.8 392.2h0M1079.7 392.2h0M1081.6 392.2h0M1083.4 392.1h0M1085.3 392.1h0M1087.2 392.1h0M1089.0 392.1h0M1090.9 392.1h0M1092.8 392.0h0M1094.7 392.0h0M1096.5 392.0h0M1098.4 392.0h0M1100.3 392.0h0M1102.1 392.0h0M1104.0 392.0h0M1105.9 392.0h0M1107.7 392.0h0M1109.6 392.0h0M1111.5 391.9h0M1113.4 391.9h0M1115.2 391.9h0M1117.1 391.9h0M1119.0 391.9h0M1120.8 391.9h0M1122.7 391.9h0M1124.6 391.9h0M1126.4 391.9h0M1128.3 391.9h0M1130.2 391.9h0M1132.1 391.9h0M1133.9 391.9h0M1135.8 391.9h0M1137.7 391.8h0M1139.5 391.8h0M1141.4 391.8h0M1143.3 391.8h0M1145.1 391.8h0M1147.0 391.8h0M1148.9 391.8h0M1150.8 391.8h0M1152.6 391.8h0M1154.5 391.8h0M1156.4 391.8h0M1158.2 391.8h0M1160.1 391.8h0M1162.0 391.7h0M1163.8 391.7h0M1165.7 391.7h0M1167.6 391.7h0M1169.5 391.7h0M1171.3 391.7h0M1173.2 391.7h0M1175.1 391.7h0M1176.9 391.7h0M1178.8 391.7h0M1180.7 391.7h0M1182.5 391.7h0M1184.4 391.7h0M1186.3 391.6h0M1188.2 391.6h0M1190.0 391.6h0M1191.9 391.6h0M1193.8 391.6h0M1195.6 391.6h0M1197.5 391.6h0M1199.4 391.6h0M1201.2 391.6h0M1203.1 391.6h0M1205.0 391.6h0M1206.9 391.6h0M1208.7 391.6h0M1210.6 391.6h0M1212.5 391.6h0M1214.3 391.6h0M1216.2 391.6h0M1218.1 391.6h0M1219.9 391.6h0M1221.8 391.6h0M1223.7 391.5h0M1225.6 391.5h0M1227.4 391.5h0M1229.3 391.5h0M1231.2 391.5h0M1233.0 391.5h0M1234.9 391.5h0M1236.8 391.5h0M1238.6 391.5h0M1240.5 391.5h0M1242.4 391.5h0M1244.3 391.5h0M1246.1 391.5h0M1248.0 391.5h0M1249.9 391.5h0M1251.7 391.5h0M1253.6 391.5h0M1255.5 391.5h0M1257.3 391.5h0M1259.2 391.5h0M1261.1 391.5h0M1263.0 391.5h0M1264.8 391.5h0M1266.7 391.5h0M1268.6 391.5h0M1270.4 391.5h0M1272.3 391.4h0M1274.2 391.4h0M1276.0 391.4h0M1277.9 391.4h0M1279.8 391.4h0M1281.7 391.4h0M1283.5 391.4h0M1285.4 391.4h0M1287.3 391.4h0M1289.1 391.4h0" stroke="#000" stroke-width="4.1" stroke-linecap="round" fill="none"/>
<circle cx="616" cy="392.8" r="2.1" fill="#000"/>
<circle cx="1295" cy="391.4" r="2.1" fill="#000"/>
<line x1="1297.3" y1="291.53" x2="1297.3" y2="491.68" stroke="#2b2a29" stroke-width="1.7"/>
<path d="M1297.3 292.23h6.8M1297.3 302.16h6.8M1297.3 312.10h13.4M1297.3 322.04h6.8M1297.3 331.98h6.8M1297.3 341.91h6.8M1297.3 351.85h13.4M1297.3 361.79h6.8M1297.3 371.73h6.8M1297.3 381.66h6.8M1297.3 391.60h13.4M1297.3 401.54h6.8M1297.3 411.48h6.8M1297.3 421.41h6.8M1297.3 431.35h13.4M1297.3 441.29h6.8M1297.3 451.23h6.8M1297.3 461.16h6.8M1297.3 471.10h13.4M1297.3 481.04h6.8M1297.3 490.98h6.8" stroke="#2b2a29" stroke-width="1.6" fill="none"/>
<text transform="translate(1375.60,322.00) scale(0.868,1)" font-size="29.5" text-anchor="end" fill="#111" stroke="#111" stroke-width="0.45">200</text>
<text transform="translate(1375.60,361.75) scale(0.868,1)" font-size="29.5" text-anchor="end" fill="#111" stroke="#111" stroke-width="0.45">100</text>
<text transform="translate(1375.60,401.50) scale(0.868,1)" font-size="29.5" text-anchor="end" fill="#111" stroke="#111" stroke-width="0.45">0</text>
<text transform="translate(1375.60,441.25) scale(0.868,1)" font-size="29.5" text-anchor="end" fill="#111" stroke="#111" stroke-width="0.45">−100</text>
<text transform="translate(1375.60,481.00) scale(0.868,1)" font-size="29.5" text-anchor="end" fill="#111" stroke="#111" stroke-width="0.45">−200</text>
<path d="M214.9 697.5L265.4 697.5L265.4 535.5L334.8 535.5L334.8 581.8L519.9 581.8L519.9 616.4L607.7 616.4L607.7 523.8L731.5 523.8L731.5 477.5L782 477.5L782 651.1L819.3 651.1L819.3 581.5L929.8 581.5" stroke="#000" stroke-width="2.7" fill="none" stroke-linejoin="miter"/>
<rect x="79.95" y="820.75" width="7.9" height="3.7" fill="none" stroke="#333" stroke-width="1.6"/>
<g>
<polyline points="173.2,900.7 174.2,899.7 175.2,898.8 176.2,898.1 177.2,897.5 178.2,897.1 179.2,896.7 180.2,896.3 181.2,896.0 181.7,895.9 182.2,896.3 183.2,897.5 184.2,899.0 185.2,900.4 186.2,901.4 186.3,901.5 187.2,901.6 188.2,901.7 189.2,901.8 189.7,901.8 190.2,901.6 191.2,901.1 192.2,900.5 193.2,899.8 194.2,899.2 195.2,898.6 195.6,898.5 196.2,898.5 197.2,898.4 198.2,898.3 199.2,898.3 200.2,898.2 201.2,898.2 202.2,898.2 203.2,898.1 204.1,898.1 204.2,898.1 205.2,898.3 206.2,898.5 207.2,898.7 208.2,899.0 209.2,899.2 210.2,899.5 211.2,899.8 212.2,900.1 212.5,900.2 213.2,900.5 214.2,901.0 215.2,901.5 216.2,902.0 217.2,902.5 218.2,903.0 219.2,903.4 220.2,903.7 221.2,903.5 222.2,903.3 223.2,903.0 224.2,902.6 225.2,902.3 226.2,902.0 227.2,901.7 227.8,901.5 228.2,901.4 229.2,901.2 230.2,901.0 231.2,900.7 232.2,900.5 233.2,900.3 234.2,900.0 235.2,899.8 236.2,899.6 237.2,899.4 238.2,899.2 239.2,899.0 240.2,898.9 241.2,898.7 242.2,898.6 243.1,898.5 243.2,898.5 244.2,898.5 245.2,898.6 246.2,898.6 247.2,898.6 248.2,898.7 249.2,898.7 250.2,898.8 251.2,898.8 252.2,898.9 253.2,898.9 254.2,898.9 255.2,899.0 256.2,899.0 256.6,899.0 257.2,899.0 258.2,899.0 259.2,898.9 260.2,898.9 261.2,898.8 262.2,898.8 263.2,898.8 264.2,898.7 265.2,898.6 266.2,898.6 267.1,898.5 267.2,898.4 268.2,896.9 269.2,894.7 270.2,892.4 271.2,890.5 271.9,889.6 272.2,889.6 273.2,889.7 274.2,889.7 275.2,889.8 276.2,889.9 276.9,890.0 277.2,890.1 278.2,890.3 279.2,890.6 280.2,890.9 281.2,891.2 282.2,891.5 283.2,891.8 284.2,892.2 285.2,892.6 286.2,892.9 287.2,893.3 288.2,893.7 288.8,893.9 289.2,894.1 290.2,894.7 291.2,895.3 292.2,895.9 293.2,896.5 294.2,897.1 295.2,897.5 295.6,897.6 296.2,897.6 297.2,897.6 298.2,897.6 299.2,897.5 300.2,897.5 301.2,897.5 302.2,897.5 303.2,897.5 304.2,897.4 305.2,897.4 306.2,897.4 307.2,897.4 308.2,897.3 309.2,897.3 310.2,897.2 311.2,897.1 312.2,896.9 313.2,896.7 314.2,896.6 315.2,896.4 316.2,896.2 317.2,896.0 318.2,895.8 319.2,895.6 319.3,895.6 320.2,895.4 321.2,895.0 322.2,894.7 323.2,894.4 324.2,894.1 325.2,893.9 325.3,893.9 326.2,895.0 327.2,896.9 328.2,899.0 329.2,900.9 330.2,902.3 330.3,902.4 331.2,902.1 332.2,901.5 333.2,900.9 334.2,900.3 334.6,900.0 335.2,899.5 336.2,898.6 337.2,897.6 338.2,896.7 339.2,895.7 340.2,894.7 341.2,893.8 342.2,892.9 343.2,892.3 344.2,891.7 345.2,891.0 346.2,890.4 347.2,889.8 348.2,889.2 349.2,888.6 350.2,888.0 351.2,887.4 352.2,886.9 353.2,886.4 354.2,885.9 355.2,885.5 356.2,885.1 357.2,884.7 358.2,884.4 358.3,884.4 359.2,884.6 360.2,884.9 361.2,885.3 362.2,885.7 363.2,886.1 364.2,886.4 365.1,886.6 365.2,886.6 366.2,886.3 367.2,885.9 368.2,885.5 369.2,885.0 370.2,884.6 371.2,884.3 371.9,884.1 372.2,884.1 373.2,884.3 374.2,884.4 375.2,884.6 376.2,884.8 377.2,885.0 378.2,885.2 379.2,885.4 380.2,885.7 381.2,885.9 382.2,886.2 383.2,886.4 384.2,886.7 385.2,886.9 386.2,887.2 387.2,887.4 388.2,887.7 389.2,887.9 390.0,888.1 390.2,888.1 391.2,888.4 392.2,888.6 393.2,888.8 394.2,889.0 395.2,889.3 396.2,889.5 397.2,889.7 398.2,890.0 399.2,890.2 400.2,890.4 401.2,890.7 402.2,890.9 403.2,891.1 404.2,891.3 405.2,891.5 406.2,891.7 407.2,891.9 408.2,892.1 409.2,892.3 410.2,892.5 411.2,892.6 412.2,892.7 413.2,892.8 413.7,892.9 414.2,892.9 415.2,892.8 416.2,892.6 417.2,892.5 418.2,892.4 419.2,892.2 420.2,892.0 421.2,891.9 422.2,891.7 423.2,891.5 424.2,891.3 425.2,891.1 426.2,890.9 427.2,890.7 428.2,890.5 429.2,890.4 430.2,890.2 431.2,890.0 432.2,889.9 433.2,889.8 434.2,889.6 435.2,889.5 435.8,889.5 436.2,889.6 437.2,890.1 438.2,890.8 439.2,891.5 440.2,892.1 440.8,892.4 441.2,892.5 442.2,892.8 443.2,893.1 444.2,893.4 445.2,893.6 445.9,893.7 446.2,893.7 447.2,893.5 448.2,893.3 449.2,893.1 450.2,892.9 451.2,892.7 452.2,892.4 453.2,892.1 454.2,891.9 455.2,891.6 456.2,891.3 457.2,890.9 458.2,890.6 459.2,890.3 460.2,890.0 461.2,889.7 462.2,889.3 463.2,889.0 464.2,888.7 464.6,888.6 465.2,888.4 466.2,888.0 467.2,887.5 468.2,887.1 469.2,886.7 470.2,886.2 471.2,885.8 472.2,885.3 473.2,884.8 474.2,884.4 475.2,883.9 476.2,883.4 477.2,883.0 478.2,882.5 479.2,882.1 480.2,881.7 481.2,881.3 482.2,880.9 483.2,880.5 484.2,880.2 485.2,880.0 486.2,879.8 487.2,879.5 488.2,879.3 489.2,879.0 490.2,878.8 491.2,878.6 492.2,878.3 493.2,878.1 494.2,877.9 495.2,877.7 496.2,877.5 497.2,877.3 498.2,877.1 499.2,877.0 500.2,876.8 501.2,876.7 502.2,876.6 503.2,876.5 504.2,876.4 505.2,876.4 506.2,876.3 507.2,876.2 508.2,876.1 509.2,876.0 510.2,876.0 511.2,875.9 512.2,875.8 513.2,875.8 514.2,875.7 515.2,875.7 516.2,875.6 517.1,875.6 517.2,875.6 518.2,875.7 519.2,875.8 520.2,875.9 521.2,876.0 522.2,876.1 523.2,876.3 523.9,876.4 524.2,876.5 525.2,877.1 526.2,877.8 527.2,878.4 527.6,878.5 528.2,878.2 529.2,877.6 530.2,876.8 531.2,875.9 532.2,875.0 533.2,874.1 534.1,873.4 534.2,873.3 535.2,872.8 536.2,872.3 537.2,871.8 538.2,871.3 539.2,870.9 540.2,870.4 541.2,870.0 542.2,869.6 543.2,869.2 543.4,869.1 544.2,868.9 545.2,868.7 546.2,868.5 547.2,868.3 548.2,868.1 549.2,867.9 550.2,867.7 551.2,867.5 552.2,867.4 553.2,867.2 554.2,867.0 555.2,866.8 556.2,866.7 557.2,866.5 558.2,866.3 559.2,866.2 559.5,866.1 560.2,866.0 561.2,865.8 562.2,865.7 563.2,865.5 564.2,865.3 565.2,865.2 566.2,865.0 567.2,864.9 568.2,864.7 569.2,864.6 570.2,864.4 571.2,864.3 572.2,864.1 573.2,864.0 574.2,863.8 575.2,863.7 576.2,863.5 576.4,863.5 577.2,863.4 578.2,863.3 579.2,863.1 580.2,863.0 581.2,862.9 582.2,862.7 583.2,862.6 584.2,862.5 585.2,862.3 586.2,862.2 587.2,862.1 588.2,862.0 589.2,861.8 590.2,861.7 591.2,861.7 592.2,861.6 593.2,861.5 593.4,861.5 594.2,861.5 595.2,861.5 596.2,861.5 597.2,861.5 598.2,861.5 599.2,861.5 600.2,861.5 601.2,861.9 602.2,862.4 603.2,863.1 604.2,863.8 605.2,864.4 606.2,865.0 606.9,865.2 607.2,865.2 608.2,865.0 609.2,864.7 610.2,864.5 611.2,864.2 612.2,863.9 613.2,863.6 614.2,863.4 615.2,863.2 615.4,863.2 616.2,863.4 617.2,863.7 618.2,864.1 619.2,864.5 620.2,864.9 621.2,865.3 622.2,865.8 623.2,866.2 624.2,866.5 624.7,866.6 625.2,866.6 626.2,866.7 627.2,866.8 627.6,866.8 628.2,866.6 629.2,866.3 630.2,865.9 631.2,865.4 632.2,864.9 633.2,864.4 634.2,863.8 635.2,863.3 636.2,862.8 636.9,862.5 637.2,862.4 638.2,862.0 639.2,861.6 640.2,861.2 641.2,860.8 642.2,860.5 643.2,860.1 644.2,859.7 645.2,859.3 646.2,859.0 647.2,858.6 648.2,858.2 649.2,857.9 650.2,857.5 651.2,857.2 652.2,856.9 653.2,856.6 654.2,856.3 655.2,856.0 655.6,855.9 656.2,855.8 657.2,855.7 658.2,855.6 659.2,855.4 660.2,855.3 661.2,855.2 661.5,855.1 662.2,854.7 663.2,854.0 664.2,853.1 665.2,852.2 666.2,851.3 667.2,850.5 667.5,850.3 668.2,849.9 669.2,849.4 670.2,848.9 671.2,848.4 672.2,847.9 673.2,847.5 674.2,847.1 675.1,846.9 675.2,846.9 676.2,847.3 677.2,847.8 678.2,848.4 679.2,849.0 680.2,849.6 681.2,850.1 682.2,850.6 682.7,850.7 683.2,850.6 684.2,850.5 685.2,850.2 686.2,850.0 687.2,849.7 688.2,849.4 689.2,849.1 690.2,848.8 691.2,848.5 692.2,848.3 693.2,848.0 694.2,847.8 695.2,847.6 696.2,847.4 696.3,847.4 697.2,847.5 698.2,847.7 699.2,847.9 700.2,848.1 701.2,848.3 702.2,848.6 703.2,848.9 704.2,849.1 705.2,849.4 706.2,849.7 707.2,850.0 708.2,850.2 709.2,850.5 710.2,850.7 711.2,850.9 712.2,851.1 713.2,851.2 714.2,851.1 715.2,851.0 716.2,850.8 717.2,850.7 718.2,850.5 719.2,850.3 720.2,850.1 721.2,849.9 722.2,849.7 723.2,849.5 724.2,849.3 725.2,849.1 726.2,848.9 727.2,848.7 728.2,848.5 729.2,848.3 730.2,848.1 731.2,847.9 732.2,847.7 733.2,847.5 734.2,847.3 735.2,847.1 736.2,846.9 737.2,846.7 738.2,846.5 739.2,846.4 740.2,846.2 741.2,846.0 742.2,845.8 743.2,845.6 744.2,845.5 745.2,845.3 746.2,845.2 747.2,845.1 748.2,845.0 748.8,844.9 749.2,844.9 750.2,844.9 751.2,844.9 752.2,844.9 753.2,845.0 754.2,845.0 755.2,845.0 756.2,845.0 757.2,845.0 758.2,845.0 759.2,845.1 760.2,845.1 761.2,845.1 762.2,845.1 763.2,845.1 764.2,845.1 765.2,845.2 766.2,845.2 767.2,845.2 768.2,845.2 769.2,845.2 770.2,845.1 771.2,845.0 772.2,845.0 773.2,844.8 774.2,844.7 775.2,844.6 776.2,844.5 777.2,844.4 778.2,844.2 779.2,844.1 780.2,843.9 781.2,843.8 782.2,843.6 783.2,843.5 784.2,843.3 785.2,843.1 786.2,843.0 787.2,842.8 787.8,842.7 788.2,842.6 789.2,842.3 790.2,842.0 791.2,841.6 792.2,841.3 793.2,841.0 794.2,840.7 795.2,840.5 795.4,840.5 796.2,840.8 797.2,841.3 798.2,842.0 799.2,842.7 800.2,843.4 801.2,844.2 802.2,844.8 803.2,845.5 804.2,845.9 804.7,846.1 805.2,845.7 806.2,844.5 807.2,843.1 808.2,841.5 809.2,839.9 810.2,838.6 810.7,838.1 811.2,837.9 812.2,837.6 813.2,837.4 814.2,837.1 815.2,836.9 816.2,836.7 817.2,836.4 818.2,836.2 819.2,836.0 820.2,835.8 821.2,835.5 821.7,835.4 822.2,835.2 823.2,834.8 824.2,834.4 825.2,833.9 826.2,833.5 827.2,833.0 828.2,832.5 829.2,832.0 830.2,831.5 831.2,831.0 832.2,830.4 833.2,829.9 834.2,829.4 835.2,828.9 836.2,828.4 837.2,827.9 838.2,827.5 839.2,827.0 840.2,826.6 841.2,826.2 842.2,825.9 843.2,825.5 844.2,825.2 845.2,825.0 845.6,824.9 846.2,825.2 847.2,826.0 848.2,826.9 849.2,827.9 850.2,829.1 851.2,830.3 852.2,831.4 853.2,832.6 854.2,833.6 855.2,834.5 856.2,835.2 856.7,835.5 857.2,834.8 858.2,832.9 859.2,830.4 860.2,827.8 861.2,825.1 862.2,822.8 862.9,821.5 863.2,821.3 864.2,820.6 865.2,820.0 866.2,819.4 867.2,818.9 868.2,818.3 869.2,817.8 870.2,817.4 871.2,816.9 872.2,816.5 873.2,816.0 874.2,815.6 875.2,815.2 876.2,814.8 876.4,814.7 877.2,814.5 878.2,814.2 879.2,814.0 880.2,813.7 881.2,813.5 882.2,813.2 883.2,813.0 884.2,812.8 885.2,812.5 886.2,812.3 887.2,812.1 888.2,811.9 889.2,811.7 890.2,811.5 891.2,811.3 892.2,811.1 893.2,810.9 894.2,810.6 895.2,810.4 896.2,810.2 897.2,810.0 898.2,809.8 899.2,809.6 900.2,809.3 901.2,809.1 902.2,808.9 903.2,808.6 904.2,808.4 904.4,808.3 905.2,808.0 906.2,807.7 907.2,807.4 908.2,807.0 909.2,806.6 910.2,806.3 911.2,805.9 912.2,805.5 913.2,805.1 914.2,804.8 914.6,804.6 915.2,804.3 916.2,803.9 917.2,803.4 918.2,802.9 919.2,802.4 920.2,801.9 921.2,801.4 922.2,800.8 923.2,800.3 924.2,799.8 925.2,799.3 926.2,798.7 927.2,798.2 928.2,797.7 929.2,797.2 930.2,796.7 931.2,796.2 932.2,795.7 933.2,795.2 934.2,794.7 934.9,794.4 935.2,794.3 936.2,793.9 937.2,793.5 938.2,793.1 939.2,792.7 940.2,792.3 941.2,791.9 942.2,791.5 943.2,791.1 944.2,790.8 945.2,790.4 946.2,790.1 947.2,789.7 948.2,789.4 949.2,789.1 950.2,788.8 951.2,788.6 952.2,788.5 953.2,788.3 954.2,788.1 955.2,788.0 956.0,787.9" stroke="#4a4a4a" stroke-width="1" fill="none"/>
<polygon points="173.2,849.7 174.2,848.7 175.2,847.8 176.2,847.1 177.2,846.5 178.2,846.1 179.2,845.7 180.2,845.3 181.2,845.0 181.7,844.9 182.2,845.3 183.2,846.5 184.2,848.0 185.2,849.4 186.2,850.4 186.3,850.5 187.2,850.6 188.2,850.7 189.2,850.8 189.7,850.8 190.2,850.6 191.2,850.1 192.2,849.5 193.2,848.8 194.2,848.2 195.2,847.6 195.6,847.5 196.2,847.5 197.2,847.4 198.2,847.3 199.2,847.3 200.2,847.2 201.2,847.2 202.2,847.2 203.2,847.1 204.1,847.1 204.2,847.1 205.2,847.3 206.2,847.5 207.2,847.7 208.2,848.0 209.2,848.2 210.0,848.5 210.0,899.5 209.2,899.2 208.2,899.0 207.2,898.7 206.2,898.5 205.2,898.3 204.2,898.1 204.1,898.1 203.2,898.1 202.2,898.2 201.2,898.2 200.2,898.2 199.2,898.3 198.2,898.3 197.2,898.4 196.2,898.5 195.6,898.5 195.2,898.6 194.2,899.2 193.2,899.8 192.2,900.5 191.2,901.1 190.2,901.6 189.7,901.8 189.2,901.8 188.2,901.7 187.2,901.6 186.3,901.5 186.2,901.4 185.2,900.4 184.2,899.0 183.2,897.5 182.2,896.3 181.7,895.9 181.2,896.0 180.2,896.3 179.2,896.7 178.2,897.1 177.2,897.5 176.2,898.1 175.2,898.8 174.2,899.7 173.2,900.7" fill="#1c1b1b"/>
<polygon points="215.9,850.9 216.2,851.0 217.2,851.5 218.2,852.0 219.2,852.4 220.2,852.7 221.2,852.5 222.2,852.3 223.2,852.0 224.2,851.6 225.2,851.3 226.2,851.0 227.2,850.7 227.8,850.5 228.2,850.4 229.2,850.2 230.2,850.0 231.2,849.7 232.2,849.5 233.2,849.3 234.2,849.0 235.2,848.8 236.2,848.6 237.2,848.4 238.2,848.2 239.2,848.0 240.2,847.9 241.2,847.7 242.2,847.6 243.1,847.5 243.2,847.5 244.2,847.5 245.2,847.6 246.2,847.6 247.2,847.6 248.2,847.7 249.2,847.7 250.2,847.8 251.2,847.8 252.2,847.9 253.2,847.9 254.2,847.9 255.2,848.0 256.2,848.0 256.6,848.0 257.2,848.0 257.5,848.0 257.5,899.0 257.2,899.0 256.6,899.0 256.2,899.0 255.2,899.0 254.2,898.9 253.2,898.9 252.2,898.9 251.2,898.8 250.2,898.8 249.2,898.7 248.2,898.7 247.2,898.6 246.2,898.6 245.2,898.6 244.2,898.5 243.2,898.5 243.1,898.5 242.2,898.6 241.2,898.7 240.2,898.9 239.2,899.0 238.2,899.2 237.2,899.4 236.2,899.6 235.2,899.8 234.2,900.0 233.2,900.3 232.2,900.5 231.2,900.7 230.2,901.0 229.2,901.2 228.2,901.4 227.8,901.5 227.2,901.7 226.2,902.0 225.2,902.3 224.2,902.6 223.2,903.0 222.2,903.3 221.2,903.5 220.2,903.7 219.2,903.4 218.2,903.0 217.2,902.5 216.2,902.0 215.9,901.9" fill="#1c1b1b"/>
<polygon points="265.4,847.6 266.2,847.6 267.1,847.5 267.2,847.4 268.2,845.9 269.2,843.7 270.2,841.4 271.2,839.5 271.9,838.6 272.2,838.6 273.2,838.7 274.2,838.7 275.2,838.8 276.2,838.9 276.9,839.0 277.2,839.1 278.2,839.3 279.2,839.6 280.2,839.9 281.2,840.2 282.2,840.5 283.2,840.8 284.2,841.2 285.2,841.6 286.2,841.9 287.2,842.3 288.2,842.7 288.8,842.9 289.2,843.1 290.2,843.7 291.2,844.3 292.2,844.9 293.2,845.5 294.2,846.1 295.2,846.5 295.6,846.6 296.2,846.6 297.2,846.6 298.2,846.6 299.2,846.5 300.2,846.5 301.2,846.5 302.2,846.5 303.2,846.5 304.2,846.4 305.2,846.4 306.2,846.4 307.2,846.4 308.2,846.3 309.2,846.3 310.2,846.2 311.2,846.1 312.2,845.9 313.2,845.7 314.2,845.6 315.2,845.4 316.2,845.2 317.2,845.0 318.2,844.8 319.2,844.6 319.3,844.6 320.2,844.4 321.2,844.0 322.2,843.7 323.2,843.4 324.2,843.1 325.2,842.9 325.3,842.9 326.2,844.0 327.2,845.9 328.2,848.0 329.2,849.9 330.2,851.3 330.3,851.4 331.2,851.1 332.2,850.5 333.2,849.9 334.2,849.3 334.6,849.0 334.6,900.0 334.2,900.3 333.2,900.9 332.2,901.5 331.2,902.1 330.3,902.4 330.2,902.3 329.2,900.9 328.2,899.0 327.2,896.9 326.2,895.0 325.3,893.9 325.2,893.9 324.2,894.1 323.2,894.4 322.2,894.7 321.2,895.0 320.2,895.4 319.3,895.6 319.2,895.6 318.2,895.8 317.2,896.0 316.2,896.2 315.2,896.4 314.2,896.6 313.2,896.7 312.2,896.9 311.2,897.1 310.2,897.2 309.2,897.3 308.2,897.3 307.2,897.4 306.2,897.4 305.2,897.4 304.2,897.4 303.2,897.5 302.2,897.5 301.2,897.5 300.2,897.5 299.2,897.5 298.2,897.6 297.2,897.6 296.2,897.6 295.6,897.6 295.2,897.5 294.2,897.1 293.2,896.5 292.2,895.9 291.2,895.3 290.2,894.7 289.2,894.1 288.8,893.9 288.2,893.7 287.2,893.3 286.2,892.9 285.2,892.6 284.2,892.2 283.2,891.8 282.2,891.5 281.2,891.2 280.2,890.9 279.2,890.6 278.2,890.3 277.2,890.1 276.9,890.0 276.2,889.9 275.2,889.8 274.2,889.7 273.2,889.7 272.2,889.6 271.9,889.6 271.2,890.5 270.2,892.4 269.2,894.7 268.2,896.9 267.2,898.4 267.1,898.5 266.2,898.6 265.4,898.6" fill="#1c1b1b"/>
<polygon points="515.4,824.7 516.2,824.6 517.1,824.6 517.2,824.6 518.2,824.7 519.2,824.8 520.2,824.9 521.2,825.0 522.2,825.1 523.2,825.3 523.9,825.4 524.2,825.5 525.2,826.1 526.2,826.8 527.2,827.4 527.6,827.5 528.2,827.2 529.2,826.6 530.2,825.8 531.2,824.9 532.2,824.0 533.2,823.1 534.1,822.4 534.2,822.3 535.2,821.8 536.2,821.3 537.2,820.8 538.2,820.3 539.2,819.9 540.2,819.4 541.2,819.0 542.2,818.6 543.2,818.2 543.4,818.1 544.2,817.9 545.2,817.7 546.2,817.5 547.2,817.3 548.2,817.1 549.2,816.9 550.2,816.7 551.2,816.5 552.2,816.4 553.2,816.2 554.2,816.0 555.2,815.8 556.2,815.7 557.2,815.5 558.2,815.3 559.2,815.2 559.5,815.1 560.2,815.0 561.2,814.8 562.2,814.7 563.2,814.5 564.2,814.3 565.2,814.2 566.2,814.0 567.2,813.9 568.2,813.7 569.2,813.6 570.2,813.4 571.2,813.3 572.2,813.1 573.2,813.0 574.2,812.8 575.2,812.7 576.2,812.5 576.4,812.5 577.2,812.4 578.2,812.3 579.2,812.1 580.2,812.0 581.2,811.9 582.2,811.7 583.2,811.6 584.2,811.5 585.2,811.3 586.2,811.2 587.2,811.1 588.2,811.0 589.2,810.8 590.2,810.7 591.2,810.7 592.2,810.6 593.2,810.5 593.4,810.5 594.2,810.5 595.2,810.5 596.2,810.5 597.2,810.5 598.2,810.5 599.2,810.5 600.2,810.5 601.0,810.8 601.0,861.8 600.2,861.5 599.2,861.5 598.2,861.5 597.2,861.5 596.2,861.5 595.2,861.5 594.2,861.5 593.4,861.5 593.2,861.5 592.2,861.6 591.2,861.7 590.2,861.7 589.2,861.8 588.2,862.0 587.2,862.1 586.2,862.2 585.2,862.3 584.2,862.5 583.2,862.6 582.2,862.7 581.2,862.9 580.2,863.0 579.2,863.1 578.2,863.3 577.2,863.4 576.4,863.5 576.2,863.5 575.2,863.7 574.2,863.8 573.2,864.0 572.2,864.1 571.2,864.3 570.2,864.4 569.2,864.6 568.2,864.7 567.2,864.9 566.2,865.0 565.2,865.2 564.2,865.3 563.2,865.5 562.2,865.7 561.2,865.8 560.2,866.0 559.5,866.1 559.2,866.2 558.2,866.3 557.2,866.5 556.2,866.7 555.2,866.8 554.2,867.0 553.2,867.2 552.2,867.4 551.2,867.5 550.2,867.7 549.2,867.9 548.2,868.1 547.2,868.3 546.2,868.5 545.2,868.7 544.2,868.9 543.4,869.1 543.2,869.2 542.2,869.6 541.2,870.0 540.2,870.4 539.2,870.9 538.2,871.3 537.2,871.8 536.2,872.3 535.2,872.8 534.2,873.3 534.1,873.4 533.2,874.1 532.2,875.0 531.2,875.9 530.2,876.8 529.2,877.6 528.2,878.2 527.6,878.5 527.2,878.4 526.2,877.8 525.2,877.1 524.2,876.5 523.9,876.4 523.2,876.3 522.2,876.1 521.2,876.0 520.2,875.9 519.2,875.8 518.2,875.7 517.2,875.6 517.1,875.6 516.2,875.6 515.4,875.7" fill="#1c1b1b"/>
<polygon points="661.5,804.1 662.2,803.7 663.2,803.0 664.2,802.1 665.2,801.2 666.2,800.3 667.2,799.5 667.5,799.3 668.2,798.9 669.2,798.4 670.2,797.9 671.2,797.4 672.2,796.9 673.2,796.5 674.2,796.1 675.1,795.9 675.2,795.9 676.2,796.3 677.2,796.8 678.2,797.4 679.2,798.0 680.2,798.6 681.2,799.1 682.2,799.6 682.7,799.7 683.2,799.6 684.2,799.5 685.2,799.2 686.2,799.0 687.2,798.7 688.2,798.4 689.2,798.1 690.2,797.8 691.2,797.5 692.2,797.3 693.2,797.0 694.2,796.8 695.2,796.6 695.9,796.5 695.9,847.5 695.2,847.6 694.2,847.8 693.2,848.0 692.2,848.3 691.2,848.5 690.2,848.8 689.2,849.1 688.2,849.4 687.2,849.7 686.2,850.0 685.2,850.2 684.2,850.5 683.2,850.6 682.7,850.7 682.2,850.6 681.2,850.1 680.2,849.6 679.2,849.0 678.2,848.4 677.2,847.8 676.2,847.3 675.2,846.9 675.1,846.9 674.2,847.1 673.2,847.5 672.2,847.9 671.2,848.4 670.2,848.9 669.2,849.4 668.2,849.9 667.5,850.3 667.2,850.5 666.2,851.3 665.2,852.2 664.2,853.1 663.2,854.0 662.2,854.7 661.5,855.1" fill="#1c1b1b"/>
<polygon points="721.4,798.9 722.2,798.7 723.2,798.5 724.2,798.3 725.2,798.1 726.2,797.9 727.2,797.7 728.2,797.5 729.2,797.3 730.2,797.1 731.2,796.9 732.2,796.7 733.2,796.5 734.2,796.3 735.2,796.1 736.2,795.9 737.2,795.7 738.2,795.5 739.2,795.4 740.2,795.2 741.2,795.0 742.2,794.8 743.2,794.6 744.2,794.5 745.2,794.3 746.2,794.2 747.2,794.1 748.2,794.0 748.8,793.9 749.2,793.9 750.2,793.9 751.2,793.9 752.2,793.9 753.2,794.0 754.2,794.0 755.2,794.0 756.2,794.0 757.2,794.0 758.2,794.0 759.2,794.1 760.2,794.1 761.2,794.1 762.2,794.1 763.2,794.1 764.2,794.1 765.2,794.2 766.2,794.2 767.2,794.2 768.2,794.2 769.2,794.2 770.0,794.1 770.0,845.1 769.2,845.2 768.2,845.2 767.2,845.2 766.2,845.2 765.2,845.2 764.2,845.1 763.2,845.1 762.2,845.1 761.2,845.1 760.2,845.1 759.2,845.1 758.2,845.0 757.2,845.0 756.2,845.0 755.2,845.0 754.2,845.0 753.2,845.0 752.2,844.9 751.2,844.9 750.2,844.9 749.2,844.9 748.8,844.9 748.2,845.0 747.2,845.1 746.2,845.2 745.2,845.3 744.2,845.5 743.2,845.6 742.2,845.8 741.2,846.0 740.2,846.2 739.2,846.4 738.2,846.5 737.2,846.7 736.2,846.9 735.2,847.1 734.2,847.3 733.2,847.5 732.2,847.7 731.2,847.9 730.2,848.1 729.2,848.3 728.2,848.5 727.2,848.7 726.2,848.9 725.2,849.1 724.2,849.3 723.2,849.5 722.2,849.7 721.4,849.9" fill="#1c1b1b"/>
<polygon points="789.2,791.3 790.2,791.0 791.2,790.6 792.2,790.3 793.2,790.0 794.2,789.7 795.2,789.5 795.4,789.5 796.2,789.8 797.2,790.3 798.2,791.0 799.2,791.7 800.2,792.4 801.2,793.2 802.2,793.8 803.2,794.5 804.2,794.9 804.7,795.1 805.2,794.7 806.2,793.5 807.2,792.1 808.1,790.6 808.1,841.6 807.2,843.1 806.2,844.5 805.2,845.7 804.7,846.1 804.2,845.9 803.2,845.5 802.2,844.8 801.2,844.2 800.2,843.4 799.2,842.7 798.2,842.0 797.2,841.3 796.2,840.8 795.4,840.5 795.2,840.5 794.2,840.7 793.2,841.0 792.2,841.3 791.2,841.6 790.2,842.0 789.2,842.3" fill="#1c1b1b"/>
<polygon points="842.0,774.9 842.2,774.9 843.2,774.5 844.2,774.2 845.2,774.0 845.6,773.9 846.2,774.2 847.2,775.0 848.2,775.9 849.2,776.9 850.2,778.1 851.2,779.3 852.2,780.4 853.2,781.6 854.2,782.6 855.2,783.5 856.2,784.2 856.7,784.5 857.2,783.8 858.2,781.9 859.2,779.4 860.2,776.8 861.2,774.1 862.2,771.8 862.9,770.5 863.2,770.3 864.2,769.6 865.2,769.0 866.2,768.4 867.2,767.9 868.2,767.3 869.2,766.8 870.2,766.4 871.2,765.9 872.2,765.5 873.2,765.0 874.2,764.6 875.2,764.2 875.9,763.9 875.9,814.9 875.2,815.2 874.2,815.6 873.2,816.0 872.2,816.5 871.2,816.9 870.2,817.4 869.2,817.8 868.2,818.3 867.2,818.9 866.2,819.4 865.2,820.0 864.2,820.6 863.2,821.3 862.9,821.5 862.2,822.8 861.2,825.1 860.2,827.8 859.2,830.4 858.2,832.9 857.2,834.8 856.7,835.5 856.2,835.2 855.2,834.5 854.2,833.6 853.2,832.6 852.2,831.4 851.2,830.3 850.2,829.1 849.2,827.9 848.2,826.9 847.2,826.0 846.2,825.2 845.6,824.9 845.2,825.0 844.2,825.2 843.2,825.5 842.2,825.9 842.0,825.9" fill="#1c1b1b"/>
<polygon points="915.6,753.1 916.2,752.9 917.2,752.4 918.2,751.9 919.2,751.4 920.2,750.9 921.2,750.4 922.2,749.8 923.2,749.3 924.2,748.8 925.2,748.3 926.2,747.7 927.2,747.2 928.2,746.7 929.2,746.2 930.2,745.7 931.2,745.2 932.2,744.7 933.2,744.2 934.2,743.7 934.9,743.4 935.2,743.3 936.2,742.9 937.2,742.5 938.2,742.1 939.2,741.7 940.2,741.3 941.2,740.9 942.2,740.5 943.2,740.1 944.2,739.8 945.2,739.4 946.2,739.1 947.2,738.7 948.2,738.4 949.2,738.1 950.2,737.8 951.2,737.6 952.2,737.5 953.2,737.3 954.2,737.1 955.2,737.0 956.0,736.9 956.0,787.9 955.2,788.0 954.2,788.1 953.2,788.3 952.2,788.5 951.2,788.6 950.2,788.8 949.2,789.1 948.2,789.4 947.2,789.7 946.2,790.1 945.2,790.4 944.2,790.8 943.2,791.1 942.2,791.5 941.2,791.9 940.2,792.3 939.2,792.7 938.2,793.1 937.2,793.5 936.2,793.9 935.2,794.3 934.9,794.4 934.2,794.7 933.2,795.2 932.2,795.7 931.2,796.2 930.2,796.7 929.2,797.2 928.2,797.7 927.2,798.2 926.2,798.7 925.2,799.3 924.2,799.8 923.2,800.3 922.2,800.8 921.2,801.4 920.2,801.9 919.2,802.4 918.2,802.9 917.2,803.4 916.2,803.9 915.6,804.1" fill="#1c1b1b"/>
</g>
<polyline points="173.2,849.7 174.2,848.7 175.2,847.8 176.2,847.1 177.2,846.5 178.2,846.1 179.2,845.7 180.2,845.3 181.2,845.0 181.7,844.9 182.2,845.3 183.2,846.5 184.2,848.0 185.2,849.4 186.2,850.4 186.3,850.5 187.2,850.6 188.2,850.7 189.2,850.8 189.7,850.8 190.2,850.6 191.2,850.1 192.2,849.5 193.2,848.8 194.2,848.2 195.2,847.6 195.6,847.5 196.2,847.5 197.2,847.4 198.2,847.3 199.2,847.3 200.2,847.2 201.2,847.2 202.2,847.2 203.2,847.1 204.1,847.1 204.2,847.1 205.2,847.3 206.2,847.5 207.2,847.7 208.2,848.0 209.2,848.2 210.2,848.5 211.2,848.8 212.2,849.1 212.5,849.2 213.2,849.5 214.2,850.0 215.2,850.5 216.2,851.0 217.2,851.5 218.2,852.0 219.2,852.4 220.2,852.7 221.2,852.5 222.2,852.3 223.2,852.0 224.2,851.6 225.2,851.3 226.2,851.0 227.2,850.7 227.8,850.5 228.2,850.4 229.2,850.2 230.2,850.0 231.2,849.7 232.2,849.5 233.2,849.3 234.2,849.0 235.2,848.8 236.2,848.6 237.2,848.4 238.2,848.2 239.2,848.0 240.2,847.9 241.2,847.7 242.2,847.6 243.1,847.5 243.2,847.5 244.2,847.5 245.2,847.6 246.2,847.6 247.2,847.6 248.2,847.7 249.2,847.7 250.2,847.8 251.2,847.8 252.2,847.9 253.2,847.9 254.2,847.9 255.2,848.0 256.2,848.0 256.6,848.0 257.2,848.0 258.2,848.0 259.2,847.9 260.2,847.9 261.2,847.8 262.2,847.8 263.2,847.8 264.2,847.7 265.2,847.6 266.2,847.6 267.1,847.5 267.2,847.4 268.2,845.9 269.2,843.7 270.2,841.4 271.2,839.5 271.9,838.6 272.2,838.6 273.2,838.7 274.2,838.7 275.2,838.8 276.2,838.9 276.9,839.0 277.2,839.1 278.2,839.3 279.2,839.6 280.2,839.9 281.2,840.2 282.2,840.5 283.2,840.8 284.2,841.2 285.2,841.6 286.2,841.9 287.2,842.3 288.2,842.7 288.8,842.9 289.2,843.1 290.2,843.7 291.2,844.3 292.2,844.9 293.2,845.5 294.2,846.1 295.2,846.5 295.6,846.6 296.2,846.6 297.2,846.6 298.2,846.6 299.2,846.5 300.2,846.5 301.2,846.5 302.2,846.5 303.2,846.5 304.2,846.4 305.2,846.4 306.2,846.4 307.2,846.4 308.2,846.3 309.2,846.3 310.2,846.2 311.2,846.1 312.2,845.9 313.2,845.7 314.2,845.6 315.2,845.4 316.2,845.2 317.2,845.0 318.2,844.8 319.2,844.6 319.3,844.6 320.2,844.4 321.2,844.0 322.2,843.7 323.2,843.4 324.2,843.1 325.2,842.9 325.3,842.9 326.2,844.0 327.2,845.9 328.2,848.0 329.2,849.9 330.2,851.3 330.3,851.4 331.2,851.1 332.2,850.5 333.2,849.9 334.2,849.3 334.6,849.0 335.2,848.5 336.2,847.6 337.2,846.6 338.2,845.7 339.2,844.7 340.2,843.7 341.2,842.8 342.2,841.9 343.2,841.3 344.2,840.7 345.2,840.0 346.2,839.4 347.2,838.8 348.2,838.2 349.2,837.6 350.2,837.0 351.2,836.4 352.2,835.9 353.2,835.4 354.2,834.9 355.2,834.5 356.2,834.1 357.2,833.7 358.2,833.4 358.3,833.4 359.2,833.6 360.2,833.9 361.2,834.3 362.2,834.7 363.2,835.1 364.2,835.4 365.1,835.6 365.2,835.6 366.2,835.3 367.2,834.9 368.2,834.5 369.2,834.0 370.2,833.6 371.2,833.3 371.9,833.1 372.2,833.1 373.2,833.3 374.2,833.4 375.2,833.6 376.2,833.8 377.2,834.0 378.2,834.2 379.2,834.4 380.2,834.7 381.2,834.9 382.2,835.2 383.2,835.4 384.2,835.7 385.2,835.9 386.2,836.2 387.2,836.4 388.2,836.7 389.2,836.9 390.0,837.1 390.2,837.1 391.2,837.4 392.2,837.6 393.2,837.8 394.2,838.0 395.2,838.3 396.2,838.5 397.2,838.7 398.2,839.0 399.2,839.2 400.2,839.4 401.2,839.7 402.2,839.9 403.2,840.1 404.2,840.3 405.2,840.5 406.2,840.7 407.2,840.9 408.2,841.1 409.2,841.3 410.2,841.5 411.2,841.6 412.2,841.7 413.2,841.8 413.7,841.9 414.2,841.9 415.2,841.8 416.2,841.6 417.2,841.5 418.2,841.4 419.2,841.2 420.2,841.0 421.2,840.9 422.2,840.7 423.2,840.5 424.2,840.3 425.2,840.1 426.2,839.9 427.2,839.7 428.2,839.5 429.2,839.4 430.2,839.2 431.2,839.0 432.2,838.9 433.2,838.8 434.2,838.6 435.2,838.5 435.8,838.5 436.2,838.6 437.2,839.1 438.2,839.8 439.2,840.5 440.2,841.1 440.8,841.4 441.2,841.5 442.2,841.8 443.2,842.1 444.2,842.4 445.2,842.6 445.9,842.7 446.2,842.7 447.2,842.5 448.2,842.3 449.2,842.1 450.2,841.9 451.2,841.7 452.2,841.4 453.2,841.1 454.2,840.9 455.2,840.6 456.2,840.3 457.2,839.9 458.2,839.6 459.2,839.3 460.2,839.0 461.2,838.7 462.2,838.3 463.2,838.0 464.2,837.7 464.6,837.6 465.2,837.4 466.2,837.0 467.2,836.5 468.2,836.1 469.2,835.7 470.2,835.2 471.2,834.8 472.2,834.3 473.2,833.8 474.2,833.4 475.2,832.9 476.2,832.4 477.2,832.0 478.2,831.5 479.2,831.1 480.2,830.7 481.2,830.3 482.2,829.9 483.2,829.5 484.2,829.2 485.2,829.0 486.2,828.8 487.2,828.5 488.2,828.3 489.2,828.0 490.2,827.8 491.2,827.6 492.2,827.3 493.2,827.1 494.2,826.9 495.2,826.7 496.2,826.5 497.2,826.3 498.2,826.1 499.2,826.0 500.2,825.8 501.2,825.7 502.2,825.6 503.2,825.5 504.2,825.4 505.2,825.4 506.2,825.3 507.2,825.2 508.2,825.1 509.2,825.0 510.2,825.0 511.2,824.9 512.2,824.8 513.2,824.8 514.2,824.7 515.2,824.7 516.2,824.6 517.1,824.6 517.2,824.6 518.2,824.7 519.2,824.8 520.2,824.9 521.2,825.0 522.2,825.1 523.2,825.3 523.9,825.4 524.2,825.5 525.2,826.1 526.2,826.8 527.2,827.4 527.6,827.5 528.2,827.2 529.2,826.6 530.2,825.8 531.2,824.9 532.2,824.0 533.2,823.1 534.1,822.4 534.2,822.3 535.2,821.8 536.2,821.3 537.2,820.8 538.2,820.3 539.2,819.9 540.2,819.4 541.2,819.0 542.2,818.6 543.2,818.2 543.4,818.1 544.2,817.9 545.2,817.7 546.2,817.5 547.2,817.3 548.2,817.1 549.2,816.9 550.2,816.7 551.2,816.5 552.2,816.4 553.2,816.2 554.2,816.0 555.2,815.8 556.2,815.7 557.2,815.5 558.2,815.3 559.2,815.2 559.5,815.1 560.2,815.0 561.2,814.8 562.2,814.7 563.2,814.5 564.2,814.3 565.2,814.2 566.2,814.0 567.2,813.9 568.2,813.7 569.2,813.6 570.2,813.4 571.2,813.3 572.2,813.1 573.2,813.0 574.2,812.8 575.2,812.7 576.2,812.5 576.4,812.5 577.2,812.4 578.2,812.3 579.2,812.1 580.2,812.0 581.2,811.9 582.2,811.7 583.2,811.6 584.2,811.5 585.2,811.3 586.2,811.2 587.2,811.1 588.2,811.0 589.2,810.8 590.2,810.7 591.2,810.7 592.2,810.6 593.2,810.5 593.4,810.5 594.2,810.5 595.2,810.5 596.2,810.5 597.2,810.5 598.2,810.5 599.2,810.5 600.2,810.5 601.2,810.9 602.2,811.4 603.2,812.1 604.2,812.8 605.2,813.4 606.2,814.0 606.9,814.2 607.2,814.2 608.2,814.0 609.2,813.7 610.2,813.5 611.2,813.2 612.2,812.9 613.2,812.6 614.2,812.4 615.2,812.2 615.4,812.2 616.2,812.4 617.2,812.7 618.2,813.1 619.2,813.5 620.2,813.9 621.2,814.3 622.2,814.8 623.2,815.2 624.2,815.5 624.7,815.6 625.2,815.6 626.2,815.7 627.2,815.8 627.6,815.8 628.2,815.6 629.2,815.3 630.2,814.9 631.2,814.4 632.2,813.9 633.2,813.4 634.2,812.8 635.2,812.3 636.2,811.8 636.9,811.5 637.2,811.4 638.2,811.0 639.2,810.6 640.2,810.2 641.2,809.8 642.2,809.5 643.2,809.1 644.2,808.7 645.2,808.3 646.2,808.0 647.2,807.6 648.2,807.2 649.2,806.9 650.2,806.5 651.2,806.2 652.2,805.9 653.2,805.6 654.2,805.3 655.2,805.0 655.6,804.9 656.2,804.8 657.2,804.7 658.2,804.6 659.2,804.4 660.2,804.3 661.2,804.2 661.5,804.1 662.2,803.7 663.2,803.0 664.2,802.1 665.2,801.2 666.2,800.3 667.2,799.5 667.5,799.3 668.2,798.9 669.2,798.4 670.2,797.9 671.2,797.4 672.2,796.9 673.2,796.5 674.2,796.1 675.1,795.9 675.2,795.9 676.2,796.3 677.2,796.8 678.2,797.4 679.2,798.0 680.2,798.6 681.2,799.1 682.2,799.6 682.7,799.7 683.2,799.6 684.2,799.5 685.2,799.2 686.2,799.0 687.2,798.7 688.2,798.4 689.2,798.1 690.2,797.8 691.2,797.5 692.2,797.3 693.2,797.0 694.2,796.8 695.2,796.6 696.2,796.4 696.3,796.4 697.2,796.5 698.2,796.7 699.2,796.9 700.2,797.1 701.2,797.3 702.2,797.6 703.2,797.9 704.2,798.1 705.2,798.4 706.2,798.7 707.2,799.0 708.2,799.2 709.2,799.5 710.2,799.7 711.2,799.9 712.2,800.1 713.2,800.2 714.2,800.1 715.2,800.0 716.2,799.8 717.2,799.7 718.2,799.5 719.2,799.3 720.2,799.1 721.2,798.9 722.2,798.7 723.2,798.5 724.2,798.3 725.2,798.1 726.2,797.9 727.2,797.7 728.2,797.5 729.2,797.3 730.2,797.1 731.2,796.9 732.2,796.7 733.2,796.5 734.2,796.3 735.2,796.1 736.2,795.9 737.2,795.7 738.2,795.5 739.2,795.4 740.2,795.2 741.2,795.0 742.2,794.8 743.2,794.6 744.2,794.5 745.2,794.3 746.2,794.2 747.2,794.1 748.2,794.0 748.8,793.9 749.2,793.9 750.2,793.9 751.2,793.9 752.2,793.9 753.2,794.0 754.2,794.0 755.2,794.0 756.2,794.0 757.2,794.0 758.2,794.0 759.2,794.1 760.2,794.1 761.2,794.1 762.2,794.1 763.2,794.1 764.2,794.1 765.2,794.2 766.2,794.2 767.2,794.2 768.2,794.2 769.2,794.2 770.2,794.1 771.2,794.0 772.2,794.0 773.2,793.8 774.2,793.7 775.2,793.6 776.2,793.5 777.2,793.4 778.2,793.2 779.2,793.1 780.2,792.9 781.2,792.8 782.2,792.6 783.2,792.5 784.2,792.3 785.2,792.1 786.2,792.0 787.2,791.8 787.8,791.7 788.2,791.6 789.2,791.3 790.2,791.0 791.2,790.6 792.2,790.3 793.2,790.0 794.2,789.7 795.2,789.5 795.4,789.5 796.2,789.8 797.2,790.3 798.2,791.0 799.2,791.7 800.2,792.4 801.2,793.2 802.2,793.8 803.2,794.5 804.2,794.9 804.7,795.1 805.2,794.7 806.2,793.5 807.2,792.1 808.2,790.5 809.2,788.9 810.2,787.6 810.7,787.1 811.2,786.9 812.2,786.6 813.2,786.4 814.2,786.1 815.2,785.9 816.2,785.7 817.2,785.4 818.2,785.2 819.2,785.0 820.2,784.8 821.2,784.5 821.7,784.4 822.2,784.2 823.2,783.8 824.2,783.4 825.2,782.9 826.2,782.5 827.2,782.0 828.2,781.5 829.2,781.0 830.2,780.5 831.2,780.0 832.2,779.4 833.2,778.9 834.2,778.4 835.2,777.9 836.2,777.4 837.2,776.9 838.2,776.5 839.2,776.0 840.2,775.6 841.2,775.2 842.2,774.9 843.2,774.5 844.2,774.2 845.2,774.0 845.6,773.9 846.2,774.2 847.2,775.0 848.2,775.9 849.2,776.9 850.2,778.1 851.2,779.3 852.2,780.4 853.2,781.6 854.2,782.6 855.2,783.5 856.2,784.2 856.7,784.5 857.2,783.8 858.2,781.9 859.2,779.4 860.2,776.8 861.2,774.1 862.2,771.8 862.9,770.5 863.2,770.3 864.2,769.6 865.2,769.0 866.2,768.4 867.2,767.9 868.2,767.3 869.2,766.8 870.2,766.4 871.2,765.9 872.2,765.5 873.2,765.0 874.2,764.6 875.2,764.2 876.2,763.8 876.4,763.7 877.2,763.5 878.2,763.2 879.2,763.0 880.2,762.7 881.2,762.5 882.2,762.2 883.2,762.0 884.2,761.8 885.2,761.5 886.2,761.3 887.2,761.1 888.2,760.9 889.2,760.7 890.2,760.5 891.2,760.3 892.2,760.1 893.2,759.9 894.2,759.6 895.2,759.4 896.2,759.2 897.2,759.0 898.2,758.8 899.2,758.6 900.2,758.3 901.2,758.1 902.2,757.9 903.2,757.6 904.2,757.4 904.4,757.3 905.2,757.0 906.2,756.7 907.2,756.4 908.2,756.0 909.2,755.6 910.2,755.3 911.2,754.9 912.2,754.5 913.2,754.1 914.2,753.8 914.6,753.6 915.2,753.3 916.2,752.9 917.2,752.4 918.2,751.9 919.2,751.4 920.2,750.9 921.2,750.4 922.2,749.8 923.2,749.3 924.2,748.8 925.2,748.3 926.2,747.7 927.2,747.2 928.2,746.7 929.2,746.2 930.2,745.7 931.2,745.2 932.2,744.7 933.2,744.2 934.2,743.7 934.9,743.4 935.2,743.3 936.2,742.9 937.2,742.5 938.2,742.1 939.2,741.7 940.2,741.3 941.2,740.9 942.2,740.5 943.2,740.1 944.2,739.8 945.2,739.4 946.2,739.1 947.2,738.7 948.2,738.4 949.2,738.1 950.2,737.8 951.2,737.6 952.2,737.5 953.2,737.3 954.2,737.1 955.2,737.0 956.2,736.8 957.2,736.7 958.2,736.6 958.6,736.6 959.2,736.6 960.2,736.7 961.2,736.8 962.2,736.9 963.2,737.0 964.2,737.1 965.2,737.3 966.2,737.4 967.2,737.5 968.2,737.6 969.2,737.8 970.2,737.9 971.2,737.9 972.2,738.0 973.2,737.6 974.2,737.2 975.2,736.6 976.2,736.0 977.2,735.4 978.2,734.7 979.2,734.0 980.2,733.2 981.2,732.4 982.2,731.6 983.2,730.8 984.2,730.0 985.2,729.2 986.2,728.5 987.2,727.7 988.2,727.0 989.2,726.3 990.2,725.7 990.8,725.3 991.2,725.1 992.2,724.7 993.2,724.3 994.2,723.9 995.2,723.5 996.2,723.1 997.2,722.7 998.2,722.3 999.2,722.0 1000.2,721.6 1001.2,721.2 1002.2,720.9 1003.2,720.6 1004.2,720.3 1004.4,720.2 1005.2,720.0 1006.2,719.8 1007.2,719.6 1008.2,719.5 1009.2,719.3 1010.2,719.1 1011.2,719.0 1012.2,718.8 1013.2,718.6 1014.2,718.4 1015.2,718.2 1016.2,718.0 1016.3,718.0 1017.2,717.7 1018.2,717.3 1019.2,716.9 1020.2,716.5 1021.2,716.1 1022.2,715.7 1023.2,715.2 1024.2,714.7 1025.2,714.3 1026.2,713.8 1027.2,713.3 1028.2,712.8 1029.2,712.4 1030.2,711.9 1031.2,711.4 1032.2,710.9 1033.2,710.5 1034.2,710.1 1035.2,709.6 1036.2,709.2 1037.2,708.8 1038.2,708.4 1039.2,708.1 1040.0,707.8 1040.2,707.8 1041.2,707.6 1042.2,707.4 1043.2,707.3 1044.2,707.1 1045.2,707.0 1046.2,706.8 1047.2,706.7 1048.2,706.5 1048.5,706.4 1049.2,706.0 1050.2,705.4 1051.2,704.6 1052.2,703.8 1053.2,703.0 1054.2,702.1 1055.2,701.2 1056.2,700.4 1057.2,699.5 1058.2,698.8 1058.6,698.5 1059.2,698.2 1060.2,697.7 1061.2,697.3 1062.2,696.8 1063.2,696.2 1063.7,695.9 1064.2,694.6 1065.2,690.9 1066.2,687.7 1066.4,687.3 1067.2,688.2 1068.2,689.7 1069.2,691.4 1069.8,692.2 1070.2,692.5 1071.2,693.3 1072.2,694.0 1073.2,694.6 1074.2,695.3 1075.2,695.9 1076.2,696.5 1077.2,697.0 1078.2,697.6 1079.2,698.2 1080.2,698.8 1081.2,699.3 1082.2,699.9 1083.2,700.6 1083.4,700.7 1084.2,701.3 1085.2,702.0 1086.2,702.7 1087.2,703.4 1088.2,704.2 1089.2,705.0 1090.2,705.7 1091.2,706.5 1092.2,707.3 1093.2,708.0 1094.2,708.7 1095.2,709.4 1096.2,710.1 1097.2,710.8 1098.2,711.4 1099.2,711.9 1100.2,712.5 1100.3,712.5 1101.2,712.7 1102.2,713.0 1103.2,713.1 1103.7,713.2 1104.2,713.1 1105.2,712.8 1106.2,712.4 1107.2,712.0 1108.2,711.5 1109.2,711.0 1110.2,710.5 1111.2,709.9 1112.2,709.4 1113.2,708.8 1114.2,708.3 1115.2,707.7 1115.6,707.5 1116.2,707.1 1117.2,706.4 1118.2,705.7 1119.2,705.0 1120.2,704.2 1121.2,703.5 1122.2,702.7 1123.2,701.9 1124.2,701.1 1125.2,700.3 1126.2,699.5 1127.2,698.7 1128.2,697.9 1129.2,697.0 1130.2,696.1 1130.8,695.6 1131.2,695.1 1132.2,694.0 1133.2,692.7 1134.2,691.5 1135.2,690.2 1136.2,688.9 1137.2,687.6 1138.2,686.2 1139.2,684.8 1139.3,684.7" stroke="#1c1b1b" stroke-width="3.4" fill="none" stroke-linejoin="round" stroke-linecap="butt"/>
<line x1="920.2" y1="99.9" x2="920.2" y2="866.4" stroke="#000" stroke-width="3" stroke-dasharray="21.9 12.26"/>
<line x1="1177.4" y1="682.9" x2="1177.4" y2="907.5" stroke="#2b2a29" stroke-width="1.8"/>
<line x1="1177.4" y1="690.2" x2="1193.2" y2="690.2" stroke="#2b2a29" stroke-width="1.6"/>
<line x1="1177.4" y1="740.9" x2="1193.2" y2="740.9" stroke="#2b2a29" stroke-width="1.6"/>
<line x1="1177.4" y1="791.6" x2="1193.2" y2="791.6" stroke="#2b2a29" stroke-width="1.6"/>
<line x1="1177.4" y1="842.4" x2="1193.2" y2="842.4" stroke="#2b2a29" stroke-width="1.6"/>
<line x1="1177.4" y1="893.5" x2="1193.2" y2="893.5" stroke="#2b2a29" stroke-width="1.6"/>
<rect x="405.2" y="1195.4" width="267.1" height="287" fill="#c9c9c9"/>
<line x1="505" y1="1780.6" x2="505" y2="2008.4" stroke="#e2e2e2" stroke-width="1"/>
<line x1="505" y1="1993.6" x2="505" y2="2008.4" stroke="#6a6a6a" stroke-width="1.2"/>
<line x1="601" y1="1780.6" x2="601" y2="2008.4" stroke="#e2e2e2" stroke-width="1"/>
<line x1="601" y1="1993.6" x2="601" y2="2008.4" stroke="#6a6a6a" stroke-width="1.2"/>
<line x1="697" y1="1780.6" x2="697" y2="2008.4" stroke="#ececec" stroke-width="1"/>
<line x1="792.8" y1="1780.6" x2="792.8" y2="2008.4" stroke="#e2e2e2" stroke-width="1"/>
<line x1="792.8" y1="1993.6" x2="792.8" y2="2008.4" stroke="#6a6a6a" stroke-width="1.2"/>
<line x1="888.6" y1="1780.6" x2="888.6" y2="2008.4" stroke="#e2e2e2" stroke-width="1"/>
<line x1="888.6" y1="1993.6" x2="888.6" y2="2008.4" stroke="#6a6a6a" stroke-width="1.2"/>
<line x1="984.5" y1="1780.6" x2="984.5" y2="2008.4" stroke="#e2e2e2" stroke-width="1"/>
<line x1="984.5" y1="1993.6" x2="984.5" y2="2008.4" stroke="#6a6a6a" stroke-width="1.2"/>
<line x1="1080.6" y1="1780.6" x2="1080.6" y2="2008.4" stroke="#e2e2e2" stroke-width="1"/>
<line x1="1080.6" y1="1993.6" x2="1080.6" y2="2008.4" stroke="#6a6a6a" stroke-width="1.2"/>
<line x1="511" y1="1780.6" x2="511" y2="2008.4" stroke="#d0d0d0" stroke-width="1.2" stroke-dasharray="12.9 5.4 3 5.9"/>
<line x1="611.6" y1="1780.6" x2="611.6" y2="2008.4" stroke="#d0d0d0" stroke-width="1.2" stroke-dasharray="12.9 5.4 3 5.9"/>
<line x1="642.2" y1="1780.6" x2="642.2" y2="2008.4" stroke="#d0d0d0" stroke-width="1.2" stroke-dasharray="12.9 5.4 3 5.9"/>
<line x1="743.3" y1="1780.6" x2="743.3" y2="2008.4" stroke="#d0d0d0" stroke-width="1.2" stroke-dasharray="12.9 5.4 3 5.9"/>
<line x1="773.6" y1="1780.6" x2="773.6" y2="2008.4" stroke="#d0d0d0" stroke-width="1.2" stroke-dasharray="12.9 5.4 3 5.9"/>
<line x1="831" y1="1780.6" x2="831" y2="2008.4" stroke="#d0d0d0" stroke-width="1.2" stroke-dasharray="12.9 5.4 3 5.9"/>
<line x1="857.7" y1="1780.6" x2="857.7" y2="2008.4" stroke="#d0d0d0" stroke-width="1.2" stroke-dasharray="12.9 5.4 3 5.9"/>
<line x1="869" y1="1780.6" x2="869" y2="2008.4" stroke="#d0d0d0" stroke-width="1.2" stroke-dasharray="12.9 5.4 3 5.9"/>
<line x1="410" y1="2008.8" x2="1099.7" y2="2008.8" stroke="#9a9a9a" stroke-width="1.5"/>
<line x1="404.40000000000003" y1="1194.3" x2="1110.6" y2="1194.3" stroke="#2b2a29" stroke-width="1.7"/>
<path d="M405.10 1194.3V1179.7M423.81 1194.3V1186.5M442.53 1194.3V1186.5M461.24 1194.3V1186.5M479.96 1194.3V1186.5M498.67 1194.3V1179.7M517.38 1194.3V1186.5M536.10 1194.3V1186.5M554.81 1194.3V1186.5M573.53 1194.3V1186.5M592.24 1194.3V1179.7M610.95 1194.3V1186.5M629.67 1194.3V1186.5M648.38 1194.3V1186.5M667.10 1194.3V1186.5M685.81 1194.3V1179.7M704.52 1194.3V1186.5M723.24 1194.3V1186.5M741.95 1194.3V1186.5M760.67 1194.3V1186.5M779.38 1194.3V1179.7M798.09 1194.3V1186.5M816.81 1194.3V1186.5M835.52 1194.3V1186.5M854.24 1194.3V1186.5M872.95 1194.3V1179.7M891.66 1194.3V1186.5M910.38 1194.3V1186.5M929.09 1194.3V1186.5M947.81 1194.3V1186.5M966.52 1194.3V1179.7M985.23 1194.3V1186.5M1003.95 1194.3V1186.5M1022.66 1194.3V1186.5M1041.38 1194.3V1186.5M1060.09 1194.3V1179.7M1078.80 1194.3V1186.5M1097.52 1194.3V1186.5" stroke="#2b2a29" stroke-width="1.6" fill="none"/>
<text transform="translate(404.80,1172.0) scale(0.853,1)" font-size="29.5" text-anchor="middle" fill="#111" stroke="#111" stroke-width="0.45">100</text>
<text transform="translate(498.37,1172.0) scale(0.853,1)" font-size="29.5" text-anchor="middle" fill="#111" stroke="#111" stroke-width="0.45">150</text>
<text transform="translate(591.94,1172.0) scale(0.853,1)" font-size="29.5" text-anchor="middle" fill="#111" stroke="#111" stroke-width="0.45">200</text>
<text transform="translate(685.51,1172.0) scale(0.853,1)" font-size="29.5" text-anchor="middle" fill="#111" stroke="#111" stroke-width="0.45">250</text>
<text transform="translate(779.08,1172.0) scale(0.853,1)" font-size="29.5" text-anchor="middle" fill="#111" stroke="#111" stroke-width="0.45">300</text>
<text transform="translate(872.65,1172.0) scale(0.853,1)" font-size="29.5" text-anchor="middle" fill="#111" stroke="#111" stroke-width="0.45">350</text>
<text transform="translate(966.22,1172.0) scale(0.853,1)" font-size="29.5" text-anchor="middle" fill="#111" stroke="#111" stroke-width="0.45">400</text>
<text transform="translate(1059.79,1172.0) scale(0.853,1)" font-size="29.5" text-anchor="middle" fill="#111" stroke="#111" stroke-width="0.45">450</text>
<line x1="610.9" y1="1535" x2="610.9" y2="1571.7" stroke="#222" stroke-width="1.2"/>
<line x1="898.4" y1="1527.9" x2="892.8" y2="1544.9" stroke="#222" stroke-width="1.2"/>
<path d="M415.4 1358.3h0M416.4 1358.8h0M417.4 1359.5h0M418.4 1360.4h0M419.4 1361.5h0M420.4 1363.0h0M421.4 1364.7h0M422.4 1366.6h0M423.4 1369.2h0M424.4 1372.1h0M425.4 1375.3h0M426.4 1378.9h0M427.4 1382.9h0M428.4 1387.1h0M429.4 1391.8h0M430.4 1396.9h0M431.4 1402.6h0M432.4 1409.3h0M433.4 1414.6h0M434.4 1418.5h0M435.4 1421.8h0M436.4 1424.7h0M437.4 1427.6h0M438.4 1430.5h0M439.4 1432.5h0M440.4 1433.7h0M441.4 1434.5h0M442.4 1434.6h0M443.4 1434.2h0M444.4 1433.8h0M445.4 1433.0h0M446.4 1433.0h0M447.4 1434.7h0M448.4 1437.1h0M449.4 1439.4h0M450.4 1442.0h0M451.4 1444.6h0M452.4 1447.0h0M453.4 1449.3h0M454.4 1451.4h0M455.4 1453.3h0M456.4 1455.2h0M457.4 1456.8h0M458.4 1457.5h0M459.4 1455.6h0M460.4 1452.7h0M461.4 1448.5h0M462.4 1442.4h0M463.4 1433.5h0M464.4 1422.0h0M465.4 1409.8h0M466.4 1397.3h0M467.4 1385.3h0M468.4 1373.7h0M469.4 1362.0h0M470.4 1353.0h0M471.4 1346.8h0M472.4 1342.8h0M473.4 1341.4h0M474.4 1344.0h0M475.4 1348.5h0M476.4 1355.3h0M477.4 1363.7h0M478.4 1372.9h0M479.4 1382.4h0M480.4 1391.8h0M481.4 1400.9h0M482.4 1409.7h0M483.4 1418.4h0M484.4 1426.1h0M485.4 1432.8h0M486.4 1437.9h0M487.4 1442.2h0M488.4 1443.1h0M489.4 1443.2h0M490.4 1443.3h0M491.4 1443.6h0M492.4 1443.9h0M493.4 1444.7h0M494.4 1446.6h0M495.4 1448.9h0M496.4 1450.6h0M497.4 1452.2h0M498.4 1453.2h0M499.4 1452.8h0M500.4 1451.5h0M501.4 1450.1h0M502.4 1448.7h0M503.4 1447.3h0M504.4 1446.3h0M505.4 1446.2h0M506.4 1446.5h0M507.4 1447.6h0M508.4 1448.0h0M509.4 1445.6h0M510.4 1442.0h0M511.4 1438.8h0M512.4 1435.4h0M513.4 1432.5h0M514.4 1431.4h0M515.4 1431.2h0M516.4 1431.3h0M517.4 1431.7h0M518.4 1432.3h0M519.4 1432.8h0M520.4 1432.5h0M521.4 1431.4h0M522.4 1430.0h0M523.4 1428.6h0M524.4 1427.4h0M525.4 1426.2h0M526.4 1425.0h0M527.4 1423.8h0M528.4 1422.8h0M529.4 1421.8h0M530.4 1420.9h0M531.4 1420.0h0M532.4 1418.8h0M533.4 1417.2h0M534.4 1415.2h0M535.4 1412.8h0M536.4 1410.3h0M537.4 1407.4h0M538.4 1404.1h0M539.4 1400.6h0M540.4 1397.2h0M541.4 1393.8h0M542.4 1390.3h0M543.4 1386.6h0M544.4 1382.5h0M545.4 1378.0h0M546.4 1373.1h0M547.4 1367.6h0M548.4 1361.6h0M549.4 1355.3h0M550.4 1348.7h0M551.4 1341.8h0M552.4 1334.6h0M553.4 1327.1h0M554.4 1319.2h0M555.4 1311.2h0M556.4 1302.9h0M557.4 1294.7h0M558.4 1287.5h0M559.4 1281.0h0M560.4 1275.0h0M561.4 1268.9h0M562.4 1263.4h0M563.4 1259.4h0M564.4 1256.4h0M565.4 1254.8h0M566.4 1253.7h0M567.4 1253.9h0M568.4 1255.2h0M569.4 1257.3h0M570.4 1260.8h0M571.4 1265.7h0M572.4 1272.0h0M573.4 1279.1h0M574.4 1287.5h0M575.4 1297.5h0M576.4 1308.6h0M577.4 1319.8h0M578.4 1331.4h0M579.4 1342.6h0M580.4 1353.0h0M581.4 1363.1h0M582.4 1373.0h0M583.4 1383.0h0M584.4 1393.0h0M585.4 1402.5h0M586.4 1411.3h0M587.4 1419.5h0M588.4 1427.4h0M589.4 1435.1h0M590.4 1442.7h0M591.4 1449.9h0M592.4 1456.2h0M593.4 1461.5h0M594.4 1465.8h0M595.4 1469.4h0M596.4 1471.8h0M597.4 1473.7h0M598.4 1474.8h0M599.4 1474.3h0M600.4 1472.4h0M601.4 1469.8h0M602.4 1465.2h0M603.4 1459.6h0M604.4 1453.3h0M605.4 1446.3h0M606.4 1439.8h0M607.4 1433.8h0M608.4 1427.9h0M609.4 1422.0h0M610.4 1416.0h0M611.4 1409.8h0M612.4 1403.7h0M613.4 1397.7h0M614.4 1392.0h0M615.4 1386.4h0M616.4 1380.9h0M617.4 1375.5h0M618.4 1370.3h0M619.4 1365.1h0M620.4 1360.1h0M621.4 1355.3h0M622.4 1350.6h0M623.4 1346.1h0M624.4 1341.8h0M625.4 1337.7h0M626.4 1333.8h0M627.4 1330.1h0M628.4 1326.7h0M629.4 1323.6h0M630.4 1320.8h0M631.4 1318.4h0M632.4 1316.2h0M633.4 1314.3h0M634.4 1313.0h0M635.4 1312.1h0M636.4 1311.6h0M637.4 1311.6h0M638.4 1312.4h0M639.4 1313.7h0M640.4 1315.7h0M641.4 1318.7h0M642.4 1322.3h0M643.4 1326.9h0M644.4 1332.0h0M645.4 1338.0h0M646.4 1344.8h0M647.4 1352.1h0M648.4 1360.2h0M649.4 1369.0h0M650.4 1378.5h0M651.4 1388.5h0M652.4 1398.2h0M653.4 1407.6h0M654.4 1417.1h0M655.4 1426.6h0M656.4 1436.1h0M657.4 1445.4h0M658.4 1454.5h0M659.4 1463.8h0M660.4 1473.4h0M661.4 1483.2h0M662.4 1493.0h0" stroke="#000" stroke-width="3.8" stroke-linecap="round" fill="none"/>
<path d="M668.0 1494.0h0M668.8 1498.1h0M669.6 1502.6h0M670.4 1507.6h0M671.2 1512.0h0M672.0 1515.3h0M672.8 1516.1h0M673.0 1515.6h0M673.5 1513.7h0M673.9 1511.2h0M674.4 1508.7h0M674.8 1506.3h0M675.3 1503.7h0M675.7 1500.9h0M676.2 1497.9h0M676.6 1494.7h0M677.1 1491.3h0M677.5 1487.8h0M678.0 1484.4h0M678.4 1481.0h0M678.9 1477.5h0M679.3 1474.0h0M679.8 1470.7h0M680.2 1467.7h0M680.7 1464.7h0M681.1 1461.9h0M681.6 1459.2h0M682.0 1456.4h0M682.5 1453.7h0M682.9 1450.9h0M683.4 1448.0h0M683.8 1445.3h0M684.3 1442.6h0M684.7 1440.2h0M685.2 1438.0h0M685.6 1436.1h0M686.1 1434.2h0M686.5 1432.4h0M687.0 1430.7h0M687.4 1429.1h0M687.9 1427.5h0M688.3 1425.9h0M688.8 1424.3h0M689.2 1422.8h0M689.7 1421.2h0M690.1 1419.7h0M690.6 1418.3h0M691.0 1417.1h0M691.5 1415.9h0M691.9 1414.9h0M692.4 1413.9h0M692.8 1413.0h0M693.6 1411.4h0M694.4 1410.1h0M695.2 1409.0h0M696.0 1407.8h0M696.8 1406.9h0M697.6 1406.2h0M698.4 1405.7h0M699.2 1405.3h0M700.0 1405.0h0M700.8 1404.9h0M701.6 1404.8h0M702.4 1404.8h0M703.2 1404.9h0M704.0 1405.2h0M704.8 1405.7h0M705.6 1406.2h0M706.4 1406.8h0M707.2 1407.5h0M708.0 1408.5h0M708.8 1409.5h0M709.6 1410.6h0M710.4 1412.0h0M711.2 1413.5h0M712.0 1415.0h0M712.8 1416.4h0M713.6 1417.9h0M714.4 1419.4h0M715.2 1420.9h0M716.0 1422.2h0M716.8 1423.5h0M717.6 1424.6h0M718.4 1425.4h0M719.2 1425.9h0M720.0 1425.9h0M720.8 1425.0h0M721.6 1423.6h0M722.4 1422.0h0M723.2 1419.9h0M724.0 1417.3h0M724.8 1414.4h0M725.6 1410.8h0M726.4 1406.7h0M727.2 1402.6h0M728.0 1398.4h0M728.8 1394.1h0M729.6 1389.7h0M730.4 1385.0h0M731.2 1380.1h0M732.0 1374.9h0M732.8 1369.5h0M733.6 1364.1h0M734.4 1358.7h0M735.2 1353.4h0M736.0 1348.1h0M736.8 1342.7h0M737.6 1337.4h0M738.4 1331.9h0M739.2 1326.3h0M740.0 1320.5h0M740.8 1314.7h0M741.6 1308.9h0M742.4 1303.1h0M743.2 1297.4h0M744.0 1291.3h0M744.8 1285.3h0M745.6 1279.6h0M746.4 1274.5h0M747.2 1270.5h0M748.0 1267.0h0M748.8 1264.1h0M749.6 1261.9h0M750.4 1260.3h0M751.2 1258.9h0M752.0 1258.0h0M752.8 1257.9h0M753.6 1259.0h0M754.4 1260.9h0M755.2 1263.3h0M756.0 1267.2h0M756.8 1271.9h0M757.6 1277.4h0M758.4 1283.9h0M759.2 1290.7h0M760.0 1298.1h0M760.8 1305.8h0M761.6 1313.2h0M762.4 1320.6h0M763.2 1328.0h0M764.0 1335.7h0M764.8 1343.5h0M765.6 1350.9h0M766.4 1357.8h0M767.2 1364.4h0M768.0 1371.0h0M768.8 1377.4h0M769.6 1382.7h0M770.4 1386.8h0M771.2 1390.3h0M772.0 1393.4h0M772.8 1396.2h0M773.6 1398.9h0M774.4 1401.3h0M775.2 1403.3h0M776.0 1405.1h0M776.8 1407.0h0M777.6 1408.6h0M778.4 1409.8h0M779.2 1410.3h0M780.0 1410.1h0M780.8 1409.6h0M781.6 1408.9h0M782.4 1408.3h0M783.2 1407.9h0M784.0 1407.5h0M784.8 1407.2h0M785.6 1407.0h0M786.4 1407.0h0M787.2 1407.4h0M788.0 1408.3h0M788.8 1409.6h0M789.6 1410.9h0M790.4 1412.1h0M791.2 1413.5h0M792.0 1414.9h0M792.8 1416.2h0M793.6 1417.4h0M794.4 1418.4h0M795.2 1419.4h0M796.0 1420.2h0M796.8 1420.9h0M797.6 1421.4h0M798.4 1421.9h0M799.2 1422.3h0M800.0 1422.5h0M800.8 1422.5h0M801.6 1422.1h0M802.4 1421.5h0M803.2 1420.8h0M804.0 1420.0h0M804.8 1419.2h0M805.6 1418.3h0M806.4 1417.4h0M807.2 1416.5h0M808.0 1415.7h0M808.8 1414.8h0M809.6 1414.0h0M810.4 1413.2h0M811.2 1412.7h0M812.0 1412.6h0M812.8 1412.8h0M813.6 1413.0h0M814.4 1413.4h0M815.2 1413.7h0M816.0 1414.0h0M816.8 1414.4h0M817.6 1414.7h0M818.4 1415.0h0M819.2 1415.1h0M820.0 1414.3h0M820.8 1412.9h0M821.6 1411.5h0M822.4 1410.5h0M823.2 1409.7h0M824.0 1409.1h0M824.8 1408.9h0M825.6 1409.6h0M826.4 1411.1h0M827.2 1412.8h0M828.0 1414.7h0M828.8 1417.1h0M829.6 1419.6h0M830.4 1421.8h0M831.2 1423.8h0M832.0 1425.7h0M832.8 1427.6h0M833.6 1429.3h0M834.4 1430.9h0M835.2 1432.4h0M836.0 1433.8h0M836.8 1435.3h0M837.6 1436.7h0M838.4 1437.9h0M839.2 1438.8h0M840.0 1439.3h0M840.8 1439.4h0M841.6 1438.9h0M842.4 1438.1h0M843.2 1437.1h0M844.0 1436.1h0M844.8 1434.9h0M845.6 1433.5h0M846.4 1431.9h0M847.2 1430.1h0M848.0 1427.9h0M848.8 1425.3h0M849.6 1422.6h0M850.4 1419.8h0M851.2 1417.2h0M852.0 1414.6h0M852.8 1411.9h0M853.6 1409.4h0M854.4 1407.2h0M855.2 1405.3h0M856.0 1403.8h0M856.8 1402.9h0M857.6 1402.4h0M858.4 1402.6h0M859.2 1403.5h0M860.0 1404.9h0M860.8 1406.7h0M861.6 1409.2h0M862.4 1411.9h0M863.2 1414.4h0M864.0 1417.0h0M864.8 1419.5h0M865.6 1421.9h0M866.4 1424.3h0M867.2 1426.8h0M868.0 1429.3h0M868.8 1431.4h0M869.6 1432.7h0M870.4 1432.8h0M871.2 1431.3h0M872.0 1429.1h0M872.8 1426.7h0M873.6 1424.1h0M874.4 1420.9h0M875.2 1417.4h0M876.0 1413.5h0M876.8 1409.1h0M877.6 1404.3h0M878.4 1399.4h0M879.2 1394.2h0M880.0 1388.8h0M880.8 1383.8h0M881.6 1379.5h0M882.4 1375.7h0M883.2 1372.4h0M884.0 1369.4h0M884.8 1366.7h0M885.6 1364.7h0M886.4 1363.0h0M887.2 1361.6h0M888.0 1360.9h0M888.8 1361.3h0M889.6 1362.6h0M890.4 1364.2h0M891.2 1366.3h0M892.0 1369.2h0M892.8 1372.8h0M893.6 1377.8h0M894.4 1383.6h0M895.2 1389.4h0M896.0 1395.8h0M896.8 1402.8h0M897.6 1410.6h0M898.4 1418.9h0M899.2 1427.2h0M900.0 1434.9h0M900.8 1442.6h0M901.6 1449.9h0M902.4 1456.2h0M903.2 1462.0h0M904.0 1467.2h0M904.8 1471.3h0M905.6 1474.2h0M906.4 1476.8h0M907.2 1478.8h0M908.0 1479.5h0M908.8 1479.1h0M909.6 1478.1h0M910.4 1476.8h0M911.2 1475.0h0M912.0 1473.0h0M912.8 1470.9h0M913.6 1468.6h0M914.4 1466.3h0M915.2 1463.8h0M916.0 1461.4h0M916.8 1459.1h0M917.6 1456.8h0M918.4 1454.5h0M919.2 1452.2h0M920.0 1449.9h0M920.8 1447.7h0M921.6 1445.5h0M922.4 1443.4h0M923.2 1441.4h0M924.0 1439.4h0M924.8 1437.5h0M925.6 1435.6h0M926.4 1433.8h0M927.2 1431.9h0M928.0 1430.1h0M928.8 1428.3h0M929.6 1426.6h0M930.4 1424.9h0M931.2 1423.3h0M932.0 1421.6h0M932.8 1420.0h0M933.6 1418.4h0M934.4 1416.9h0M935.2 1415.3h0M936.0 1413.8h0M936.8 1412.3h0M937.6 1410.9h0" stroke="#000" stroke-width="3.8" stroke-linecap="round" fill="none"/>
<path d="M948.1 1398.5h0M949.0 1398.2h0M949.9 1397.7h0M950.8 1397.3h0M951.7 1396.8h0M952.6 1396.3h0M953.5 1395.8h0M954.4 1395.3h0M955.3 1394.7h0M956.2 1394.1h0M957.1 1393.4h0M958.0 1392.7h0M958.9 1391.9h0M959.8 1391.1h0M960.7 1390.1h0M961.6 1389.1h0M962.5 1388.0h0M963.4 1386.9h0M964.3 1385.7h0M965.2 1384.6h0M966.1 1383.5h0M967.0 1382.3h0M967.9 1381.0h0M968.8 1379.8h0M969.7 1378.5h0M970.6 1377.2h0M971.5 1375.8h0M972.4 1374.4h0M973.3 1373.0h0M974.2 1371.6h0M975.1 1370.1h0M976.0 1368.7h0M976.9 1367.2h0M977.8 1365.7h0M978.7 1364.2h0M979.6 1362.7h0M980.5 1361.1h0M981.4 1359.5h0M982.3 1357.9h0M983.2 1356.1h0M984.1 1354.4h0M985.0 1352.5h0M985.9 1350.6h0M986.8 1348.6h0M987.7 1346.5h0M988.6 1344.3h0M998.4 1315.7h0M999.3 1314.2h0M1000.2 1312.7h0M1001.1 1311.5h0M1002.0 1310.7h0M1002.9 1310.1h0M1003.8 1309.7h0M1004.7 1309.4h0M1005.6 1309.3h0M1006.5 1309.5h0M1007.4 1310.0h0M1008.3 1310.7h0M1009.2 1311.6h0M1010.1 1312.7h0M1011.0 1314.1h0M1011.9 1315.9h0M1012.8 1318.0h0M1013.7 1320.2h0M1014.6 1322.3h0M1015.5 1324.4h0M1016.4 1326.5h0M1017.3 1328.7h0M1018.2 1330.7h0M1019.1 1332.5h0M1020.0 1334.0h0M1020.9 1335.1h0M1021.8 1336.1h0M1022.7 1336.7h0M1023.6 1337.3h0M1024.5 1337.6h0M1025.4 1337.7h0M1026.3 1337.3h0M1027.2 1336.7h0M1028.1 1335.9h0M1029.0 1334.8h0M1029.9 1333.3h0M1030.8 1331.6h0M1031.7 1329.7h0M1032.6 1327.4h0M1033.5 1325.0h0M1034.4 1322.4h0M1035.3 1319.6h0M1036.2 1316.6h0M1037.1 1313.7h0M1038.0 1311.0h0M1038.9 1307.7h0M1039.8 1302.1h0M1040.7 1296.6h0M1041.6 1291.3h0M1042.5 1284.7h0M1043.4 1276.9h0M1044.3 1269.5h0M1045.2 1262.6h0M1046.1 1255.8h0M1047.0 1248.9h0M1047.9 1241.6h0M1048.8 1233.8h0M1049.7 1228.2h0M1050.6 1222.6h0M1051.2 1224.8h0M1051.7 1227.4h0M1052.2 1229.9h0M1052.7 1232.6h0M1053.2 1235.3h0M1053.7 1237.6h0M1054.2 1239.6h0M1054.7 1241.5h0M1055.2 1243.0h0M1055.7 1244.0h0M1056.2 1244.9h0M1056.7 1245.6h0M1057.2 1246.3h0M1057.7 1247.0h0M1058.2 1248.0h0M1058.7 1249.1h0M1059.2 1250.3h0M1059.7 1251.7h0M1060.2 1253.1h0M1060.7 1254.8h0M1061.2 1256.6h0M1061.7 1258.8h0M1062.2 1261.2h0M1062.7 1263.7h0M1063.2 1266.2h0M1063.7 1268.4h0M1064.2 1270.6h0M1064.7 1272.8h0M1065.2 1274.9h0M1065.7 1276.9h0M1066.2 1278.7h0M1066.7 1280.3h0M1067.2 1281.8h0M1067.7 1283.3h0M1068.2 1284.6h0M1068.7 1285.6h0M1069.2 1286.4h0M1069.7 1287.0h0M1070.2 1287.3h0M1070.7 1287.5h0M1071.2 1287.7h0M1071.7 1288.0h0M1072.2 1288.5h0M1072.7 1289.2h0M1073.2 1290.2h0M1073.7 1291.4h0M1074.2 1292.7h0M1074.7 1294.0h0M1075.2 1295.4h0M1075.7 1297.0h0M1076.2 1298.9h0M1076.7 1301.0h0M1077.6 1306.1h0M1078.5 1312.6h0M1079.4 1318.4h0M1080.3 1323.9h0M1081.2 1328.6h0M1082.1 1332.6h0M1083.0 1335.9h0M1083.9 1338.5h0M1084.8 1340.9h0M1085.7 1342.8h0" stroke="#000" stroke-width="3.8" stroke-linecap="round" fill="none"/>
<path d="M412.6 1565.2h0M414.5 1565.2h0M416.3 1565.2h0M418.2 1565.1h0M420.1 1565.1h0M422.0 1565.0h0M423.8 1565.0h0M425.7 1565.0h0M427.6 1564.9h0M429.4 1564.9h0M431.3 1564.8h0M433.2 1564.7h0M435.0 1564.6h0M436.9 1564.5h0M438.8 1564.3h0M440.7 1564.1h0M442.5 1564.0h0M444.4 1563.8h0M446.3 1563.6h0M448.1 1563.3h0M450.0 1563.1h0M451.9 1562.9h0M453.7 1562.7h0M455.6 1562.7h0M457.5 1562.7h0M459.4 1562.7h0M461.2 1562.8h0M463.1 1562.8h0M465.0 1562.8h0M466.8 1562.8h0M468.7 1562.8h0M470.6 1562.7h0M472.4 1562.7h0M474.3 1562.4h0M476.2 1562.1h0M478.1 1561.6h0M479.9 1561.2h0M481.8 1560.9h0M483.7 1560.5h0M485.5 1560.1h0M487.4 1559.8h0M489.3 1560.1h0M491.1 1560.9h0M493.0 1563.1h0M494.9 1566.7h0M496.8 1572.4h0M498.6 1580.0h0M500.5 1588.9h0M502.4 1597.6h0M504.2 1604.9h0M506.1 1610.5h0M508.0 1613.5h0M509.8 1609.9h0M511.7 1601.8h0M513.6 1592.1h0M515.5 1581.5h0M517.3 1572.5h0M519.2 1565.2h0M521.1 1560.9h0M522.9 1558.3h0M524.8 1556.5h0M526.7 1556.2h0M528.5 1556.2h0M530.4 1556.3h0M532.3 1556.5h0M534.2 1556.7h0M536.0 1556.9h0M537.9 1557.1h0M539.8 1557.5h0M541.6 1557.8h0M543.5 1558.1h0M545.4 1558.4h0M547.2 1558.7h0M549.1 1558.9h0M551.0 1559.0h0M552.9 1558.9h0M554.7 1558.7h0M556.6 1558.3h0M558.5 1558.0h0M560.3 1557.7h0M562.2 1557.3h0M564.1 1557.0h0M565.9 1556.6h0M567.8 1556.2h0M569.7 1555.8h0M571.6 1555.2h0M573.4 1554.7h0M575.3 1554.2h0M577.2 1553.8h0M579.0 1553.5h0M580.9 1553.2h0M582.8 1552.7h0M584.6 1552.8h0M586.5 1553.7h0M588.4 1556.1h0M590.3 1560.5h0M592.1 1568.1h0M594.0 1577.5h0M595.9 1587.5h0M597.7 1597.7h0M599.6 1604.9h0M601.5 1610.7h0M603.3 1612.7h0M605.2 1609.1h0M607.1 1600.6h0M609.0 1588.7h0M610.8 1576.6h0M612.7 1565.8h0M614.6 1557.3h0M616.4 1550.5h0M618.3 1545.8h0M620.2 1542.7h0M622.0 1540.8h0M623.9 1539.6h0M625.8 1538.9h0M627.7 1538.6h0M629.5 1538.8h0M631.4 1539.9h0M633.3 1541.5h0M635.1 1544.1h0M637.0 1548.5h0M638.9 1553.8h0M640.7 1560.3h0M642.6 1567.7h0M644.5 1575.6h0M646.4 1583.1h0M648.2 1590.0h0M650.1 1596.2h0M652.0 1600.1h0M653.8 1602.2h0M655.7 1601.9h0M657.6 1601.3h0M659.4 1600.6h0M661.3 1599.9h0M663.2 1599.0h0M665.1 1598.1h0M666.9 1597.3h0M668.8 1596.7h0M670.7 1596.2h0M672.5 1595.7h0M674.4 1595.2h0M676.3 1594.8h0M678.1 1594.4h0M680.0 1594.1h0M681.9 1593.8h0M683.8 1593.5h0M685.6 1593.2h0M687.5 1593.0h0M689.4 1592.9h0M691.2 1592.9h0M693.1 1593.0h0M695.0 1593.1h0M696.8 1593.2h0M698.7 1593.4h0M700.6 1593.5h0M702.5 1593.7h0M704.3 1594.0h0M706.2 1594.3h0M708.1 1594.6h0M709.9 1595.0h0M711.8 1595.4h0M713.7 1595.8h0M715.5 1596.2h0M717.4 1596.6h0M719.3 1597.1h0M721.2 1596.4h0M723.0 1595.5h0M724.9 1593.6h0M726.8 1590.3h0M728.6 1584.3h0M730.5 1577.1h0M732.4 1569.3h0M734.2 1561.5h0M736.1 1554.0h0M738.0 1547.6h0M739.9 1542.7h0M741.7 1539.1h0M743.6 1536.8h0M745.5 1535.6h0M747.3 1535.1h0M749.2 1535.0h0M751.1 1535.4h0M752.9 1536.0h0M754.8 1536.7h0M756.7 1537.5h0M758.6 1538.6h0M760.4 1540.0h0M762.3 1541.9h0M764.2 1544.7h0M766.0 1549.2h0M767.9 1555.2h0M769.8 1562.7h0M771.6 1570.8h0M773.5 1579.3h0M775.4 1587.7h0M777.3 1594.5h0M779.1 1600.6h0M781.0 1603.2h0M782.9 1603.0h0M784.7 1600.0h0M786.6 1595.6h0M788.5 1589.8h0M790.3 1582.6h0M792.2 1575.3h0M794.1 1568.3h0M796.0 1562.3h0M797.8 1556.4h0M799.7 1553.4h0M801.6 1553.6h0M803.4 1556.8h0M805.3 1562.0h0M807.2 1567.7h0M809.0 1573.4h0M810.9 1580.6h0M812.8 1581.0h0M814.7 1577.1h0M816.5 1570.2h0M818.4 1564.5h0M820.3 1559.0h0M822.1 1553.9h0M824.0 1549.8h0M825.9 1547.5h0M827.7 1547.0h0M829.6 1549.0h0M831.5 1553.2h0M833.4 1559.3h0M835.2 1566.8h0M837.1 1574.8h0M839.0 1581.9h0M840.8 1590.0h0M842.7 1590.9h0M844.6 1589.0h0M846.4 1583.7h0M848.3 1577.3h0M850.2 1569.1h0M852.1 1562.5h0M853.9 1558.7h0M855.8 1557.7h0M857.7 1560.7h0M859.5 1566.1h0M861.4 1573.3h0M863.3 1581.2h0M865.1 1588.8h0M867.0 1594.7h0M868.9 1599.1h0M870.8 1599.4h0M872.6 1596.4h0M874.5 1590.4h0M876.4 1583.4h0M878.2 1573.9h0M880.1 1564.2h0M882.0 1555.9h0M883.8 1550.1h0M885.7 1545.9h0M887.6 1544.9h0M889.5 1545.7h0M891.3 1550.5h0M893.2 1556.1h0M895.1 1564.5h0M896.9 1573.2h0M898.8 1582.1h0M900.7 1590.8h0M902.5 1598.0h0M904.4 1602.9h0M906.3 1605.0h0M908.2 1603.8h0M910.0 1601.1h0M911.9 1595.8h0M913.8 1587.1h0M915.6 1577.7h0M917.5 1568.3h0M919.4 1559.5h0M921.2 1551.6h0M923.1 1545.8h0M925.0 1541.8h0M926.9 1539.5h0M928.7 1539.3h0M930.6 1540.8h0M932.5 1543.9h0M934.3 1547.7h0M936.2 1552.2h0M938.1 1557.1h0M939.9 1562.5h0M941.8 1566.6h0M943.7 1569.7h0M945.6 1572.2h0M947.4 1574.2h0M949.3 1575.0h0M951.2 1575.3h0M953.0 1575.4h0M954.9 1575.3h0M956.8 1575.1h0M958.6 1574.8h0M960.5 1574.6h0M962.4 1574.4h0M964.3 1574.2h0M966.1 1573.9h0M968.0 1573.7h0M969.9 1573.5h0M971.7 1573.3h0M973.6 1573.2h0M975.5 1573.0h0M977.3 1572.9h0M979.2 1572.8h0M981.1 1572.7h0M983.0 1572.6h0M984.8 1572.5h0M986.7 1572.4h0M988.6 1572.4h0M990.4 1572.3h0M992.3 1572.2h0M994.2 1572.2h0M996.0 1572.1h0M997.9 1572.1h0M999.8 1572.0h0M1001.7 1571.9h0M1003.5 1571.9h0M1005.4 1571.9h0M1007.3 1571.8h0M1009.1 1571.8h0M1011.0 1571.7h0M1012.9 1571.7h0M1014.7 1571.7h0M1016.6 1571.7h0M1018.5 1571.7h0M1020.4 1571.6h0M1022.2 1571.6h0M1024.1 1571.6h0M1026.0 1571.6h0M1027.8 1571.6h0M1029.7 1571.6h0M1031.6 1571.6h0M1033.4 1571.5h0M1035.3 1571.5h0M1037.2 1571.5h0M1039.1 1571.5h0M1040.9 1571.5h0M1042.8 1571.5h0M1044.7 1571.5h0M1046.5 1571.5h0M1048.4 1571.5h0M1050.3 1571.5h0M1052.1 1571.5h0M1054.0 1571.5h0M1055.9 1571.5h0M1057.8 1571.5h0M1059.6 1571.5h0M1061.5 1571.5h0M1063.4 1571.5h0M1065.2 1571.6h0M1067.1 1571.6h0M1069.0 1571.6h0M1070.8 1571.6h0M1072.7 1571.6h0M1074.6 1571.6h0M1076.5 1571.6h0M1078.3 1571.6h0M1080.2 1571.7h0M1082.1 1571.7h0M1083.9 1571.7h0M1085.8 1571.7h0" stroke="#000" stroke-width="4.1" stroke-linecap="round" fill="none"/>
<line x1="1103.1" y1="1471.80" x2="1103.1" y2="1672.20" stroke="#2b2a29" stroke-width="1.7"/>
<path d="M1103.1 1472.50h6.8M1103.1 1482.45h6.8M1103.1 1492.40h13.4M1103.1 1502.35h6.8M1103.1 1512.30h6.8M1103.1 1522.25h6.8M1103.1 1532.20h13.4M1103.1 1542.15h6.8M1103.1 1552.10h6.8M1103.1 1562.05h6.8M1103.1 1572.00h13.4M1103.1 1581.95h6.8M1103.1 1591.90h6.8M1103.1 1601.85h6.8M1103.1 1611.80h13.4M1103.1 1621.75h6.8M1103.1 1631.70h6.8M1103.1 1641.65h6.8M1103.1 1651.60h13.4M1103.1 1661.55h6.8M1103.1 1671.50h6.8" stroke="#2b2a29" stroke-width="1.6" fill="none"/>
<text transform="translate(1181.90,1502.30) scale(0.868,1)" font-size="29.5" text-anchor="end" fill="#111" stroke="#111" stroke-width="0.45">200</text>
<text transform="translate(1181.90,1542.10) scale(0.868,1)" font-size="29.5" text-anchor="end" fill="#111" stroke="#111" stroke-width="0.45">100</text>
<text transform="translate(1181.90,1581.90) scale(0.868,1)" font-size="29.5" text-anchor="end" fill="#111" stroke="#111" stroke-width="0.45">0</text>
<text transform="translate(1181.90,1621.70) scale(0.868,1)" font-size="29.5" text-anchor="end" fill="#111" stroke="#111" stroke-width="0.45">−100</text>
<text transform="translate(1181.90,1661.50) scale(0.868,1)" font-size="29.5" text-anchor="end" fill="#111" stroke="#111" stroke-width="0.45">−200</text>
<path d="M414 1774.9L512.8 1774.9L512.8 1759.4L612.2 1759.4L612.2 1719.4L645.8 1719.4L645.8 1738.3L733.5 1738.3L733.5 1759.3L773.3 1759.3L773.3 1748.3L794 1748.3L794 1721.2L836.9 1721.2L836.9 1759.4L862.8 1759.4L862.8 1736.6L937.5 1736.6" stroke="#000" stroke-width="2.7" fill="none" stroke-linejoin="miter"/>
<rect x="80.75" y="1997.25" width="7.7" height="3.7" fill="none" stroke="#333" stroke-width="1.6"/>
<clipPath id="clipb"><rect x="0" y="0" width="1416" height="2008.4"/></clipPath>
<g clip-path="url(#clipb)">
<polyline points="410.4,1883.7 411.4,1882.7 412.4,1881.7 413.4,1880.9 414.4,1880.1 415.4,1879.5 416.1,1879.1 416.4,1879.2 417.4,1879.2 418.4,1879.3 419.4,1879.3 420.4,1879.4 421.4,1879.5 422.4,1879.6 423.4,1879.7 424.0,1879.7 424.4,1879.8 425.4,1880.0 426.4,1880.2 427.4,1880.5 428.4,1880.8 429.4,1881.0 430.4,1881.3 431.4,1881.5 432.4,1881.7 433.1,1881.8 433.4,1881.7 434.4,1881.3 435.4,1880.8 436.4,1880.2 437.4,1879.6 438.4,1879.0 439.4,1878.3 440.4,1877.8 441.4,1877.3 442.3,1877.0 442.4,1877.1 443.4,1877.3 444.4,1877.5 445.4,1877.8 446.4,1878.1 447.4,1878.5 448.4,1878.9 449.4,1879.3 450.1,1879.6 450.4,1879.9 451.4,1880.9 452.4,1882.0 453.4,1883.2 454.4,1884.5 455.4,1885.8 456.4,1887.1 456.6,1887.4 457.4,1888.6 458.4,1890.3 459.4,1892.0 460.4,1893.7 461.4,1895.4 462.4,1897.1 463.4,1898.8 464.4,1900.3 464.5,1900.5 465.4,1901.6 466.4,1902.9 467.4,1904.2 468.4,1905.4 469.4,1906.5 470.4,1907.3 471.0,1907.7 471.4,1907.7 472.4,1907.7 473.4,1907.7 474.4,1907.7 475.4,1907.6 476.4,1907.6 477.4,1907.6 478.4,1907.5 479.4,1907.5 480.4,1907.4 481.4,1907.4 481.5,1907.4 482.4,1907.3 483.4,1907.2 484.4,1907.1 485.4,1907.0 486.4,1906.8 487.4,1906.7 488.4,1906.6 489.4,1906.4 490.4,1906.3 491.4,1906.1 492.4,1906.0 493.4,1905.9 494.4,1905.8 495.4,1905.7 496.4,1905.6 497.1,1905.5 497.4,1905.6 498.4,1905.7 499.4,1905.8 500.4,1906.0 501.4,1906.1 502.4,1906.3 503.4,1906.5 504.4,1906.7 505.4,1906.9 506.4,1907.1 507.4,1907.3 508.4,1907.4 509.4,1907.5 510.2,1907.6 510.4,1907.6 511.4,1907.3 512.4,1907.1 513.4,1906.7 514.4,1906.4 515.4,1906.0 516.4,1905.6 517.4,1905.2 518.4,1904.8 519.4,1904.5 520.4,1904.2 520.7,1904.2 521.4,1904.1 522.4,1904.0 523.4,1903.9 524.4,1903.8 525.4,1903.7 526.4,1903.6 527.4,1903.5 528.4,1903.3 528.5,1903.3 529.4,1903.0 530.4,1902.5 531.4,1901.9 532.4,1901.4 533.4,1900.8 534.4,1900.3 535.4,1899.9 536.3,1899.6 536.4,1899.6 537.4,1899.8 538.4,1900.2 539.4,1900.5 540.4,1901.0 541.4,1901.4 541.6,1901.5 542.4,1902.1 543.4,1903.1 544.4,1904.2 545.4,1905.4 546.4,1906.6 547.4,1907.7 548.4,1908.8 549.4,1909.7 550.4,1910.4 550.7,1910.5 551.4,1910.5 552.4,1910.5 553.4,1910.4 554.4,1910.3 555.4,1910.3 556.4,1910.2 557.4,1910.1 558.4,1910.1 559.4,1910.0 559.8,1910.0 560.4,1910.0 561.4,1910.1 562.4,1910.3 563.4,1910.4 564.4,1910.6 565.4,1910.7 566.4,1910.9 567.4,1911.1 568.4,1911.2 569.4,1911.4 570.4,1911.5 571.4,1911.6 572.4,1911.7 572.9,1911.8 573.4,1911.7 574.4,1911.6 575.4,1911.5 576.4,1911.3 577.4,1911.2 578.4,1911.0 579.4,1910.8 580.4,1910.7 581.4,1910.5 582.4,1910.3 583.4,1910.2 584.4,1910.1 585.4,1910.0 586.4,1910.0 587.4,1909.9 588.4,1909.7 589.4,1909.3 590.3,1909.0 590.4,1909.0 591.4,1909.1 592.4,1909.2 593.4,1909.5 594.0,1909.7 594.4,1910.0 595.4,1911.0 596.2,1912.0 596.4,1912.5 597.4,1915.0 597.9,1916.2 598.4,1917.2 599.4,1919.1 600.4,1920.9 601.4,1922.7 602.4,1924.4 603.4,1926.2 604.4,1927.8 605.4,1929.5 606.4,1931.1 607.4,1932.7 608.4,1934.3 609.4,1935.9 610.4,1937.3 611.4,1938.8 612.4,1940.2 612.5,1940.3 613.4,1942.2 614.4,1944.3 615.4,1946.4 616.4,1948.5 617.4,1950.3 618.4,1951.8 619.3,1953.2 619.4,1953.3 620.4,1954.7 621.4,1956.1 622.4,1957.5 623.4,1958.8 624.4,1960.1 625.4,1961.5 626.4,1962.8 627.4,1964.1 627.9,1964.8 628.4,1965.2 629.4,1966.0 630.4,1966.8 631.4,1967.6 632.4,1968.4 633.4,1969.1 634.4,1969.9 635.4,1970.7 636.4,1971.5 637.4,1972.3 638.4,1973.1 639.4,1973.9 639.8,1974.2 640.4,1974.8 641.4,1975.6 642.4,1976.5 643.4,1977.4 644.4,1978.4 645.4,1979.3 646.4,1980.3 647.4,1981.4 647.5,1981.5 648.4,1982.8 649.4,1984.8 650.4,1986.9 651.4,1989.0 652.4,1991.2 653.4,1993.2 654.4,1995.2 655.2,1996.6 655.4,1996.9 656.4,1997.9 657.4,1998.8 658.4,1999.6 659.4,2000.3 660.4,2001.0 661.4,2001.7 662.1,2002.2 662.4,2002.3 663.4,2002.7 664.4,2003.2 665.4,2003.7 666.4,2004.1 667.4,2004.6 668.4,2005.1 669.4,2005.6 670.4,2005.9 671.4,2006.3 672.3,2006.5 672.4,2006.5 673.4,2006.4 674.4,2006.2 675.4,2006.0 676.4,2005.7 677.4,2005.5 678.4,2005.2 679.4,2005.0 680.4,2004.7 681.4,2004.6 682.4,2004.4 682.6,2004.4 683.4,2004.9 684.4,2005.9 685.4,2007.0 686.4,2008.1 687.4,2008.9 687.7,2009.1 688.4,2009.0 689.4,2008.9 690.0,2008.8 690.4,2008.7 691.4,2008.3 692.4,2007.9 693.4,2007.5 694.4,2007.2 695.1,2007.0 695.4,2007.1 696.4,2007.5 697.4,2008.1 698.4,2008.7 699.4,2009.3 700.4,2009.7 700.5,2009.7 701.4,2009.5 702.4,2009.0 703.4,2008.6 704.4,2008.1 705.3,2007.8 705.4,2007.8 706.4,2007.6 707.4,2007.4 708.4,2007.3 709.4,2007.2 710.4,2007.0 711.4,2006.9 712.4,2006.7 712.9,2006.6 713.4,2006.3 714.4,2005.5 715.4,2004.6 716.4,2003.6 717.4,2002.6 718.4,2001.6 719.4,2000.8 720.4,2000.2 720.5,2000.2 721.4,2000.9 722.4,2002.0 723.4,2003.3 724.4,2004.5 725.4,2005.5 725.9,2005.8 726.4,2005.6 727.4,2005.1 728.4,2004.4 729.4,2003.8 730.4,2003.3 730.7,2003.2 731.4,2003.7 732.4,2004.7 733.4,2005.8 734.4,2006.6 735.4,2006.1 736.4,2005.4 737.4,2004.6 738.3,2004.1 738.4,2004.1 739.4,2004.0 740.4,2003.8 741.4,2003.7 742.4,2003.7 743.4,2003.6 744.4,2003.7 745.4,2003.7 746.4,2003.8 747.4,2003.9 748.4,2004.0 749.4,2004.1 750.4,2004.2 751.4,2004.3 752.4,2004.4 753.4,2004.5 754.4,2004.6 755.4,2004.7 756.4,2004.8 757.4,2004.9 757.8,2004.9 758.4,2004.9 759.4,2005.0 760.4,2005.0 761.4,2005.0 762.4,2005.1 763.4,2005.1 764.4,2005.1 765.4,2005.1 766.4,2005.2 767.4,2005.2 768.4,2005.2 769.4,2005.2 770.4,2005.3 771.4,2005.3 772.4,2005.3 772.7,2005.3 773.4,2005.1 774.4,2004.7 775.4,2004.2 776.4,2003.6 777.4,2003.0 778.4,2002.4 779.4,2001.8 780.4,2001.4 781.4,2001.0 781.5,2001.0 782.4,2001.0 783.4,2000.9 784.4,2000.9 785.4,2000.9 786.4,2000.9 787.4,2000.9 788.4,2000.8 789.4,2000.8 790.4,2000.8 791.4,2000.8 792.4,2000.8 793.4,2000.7 794.4,2000.7 795.1,2000.7 795.4,2000.7 796.4,2000.6 797.4,2000.5 798.4,2000.4 799.4,2000.3 800.4,2000.2 801.4,2000.0 802.4,1999.9 803.4,1999.8 804.4,1999.6 805.3,1999.5 805.4,1999.5 806.4,1999.2 807.4,1998.8 808.4,1998.4 809.4,1998.0 810.4,1997.6 811.4,1997.2 812.4,1996.7 813.4,1996.3 814.4,1995.8 815.4,1995.4 816.4,1994.9 817.4,1994.5 818.4,1994.1 818.8,1993.9 819.4,1993.7 820.4,1993.3 821.4,1992.9 822.4,1992.4 823.4,1992.0 824.4,1991.6 825.4,1991.1 826.4,1990.7 827.4,1990.3 828.4,1989.9 829.4,1989.5 830.4,1989.1 831.4,1988.8 832.4,1988.5 833.4,1988.2 834.4,1987.9 835.4,1987.7 835.8,1987.6 836.4,1987.8 837.4,1988.3 838.4,1988.8 839.4,1989.4 840.4,1990.0 841.4,1990.4 841.7,1990.5 842.4,1990.0 843.4,1989.1 844.4,1988.0 845.4,1986.8 846.4,1985.4 847.4,1984.0 848.4,1982.6 849.4,1981.2 850.4,1980.0 851.4,1978.9 852.4,1978.0 852.7,1977.8 853.4,1977.7 854.4,1977.6 855.4,1977.5 856.4,1977.4 857.4,1977.3 857.8,1977.3 858.4,1977.1 859.4,1976.6 860.4,1976.0 861.4,1975.3 862.4,1974.6 863.4,1974.0 864.4,1973.3 865.4,1972.7 866.4,1972.1 867.4,1971.7 868.0,1971.5 868.4,1971.5 869.4,1971.6 870.4,1971.6 871.4,1971.7 872.4,1971.7 873.4,1971.8 874.4,1971.9 874.7,1971.9 875.4,1972.1 876.4,1972.6 877.4,1973.1 878.4,1973.7 879.4,1974.2 880.4,1974.8 881.4,1975.3 882.4,1975.8 883.2,1976.1 883.4,1976.1 884.4,1976.2 885.4,1976.4 886.4,1976.5 887.4,1976.5 888.3,1976.6 888.4,1976.6 889.4,1976.3 890.4,1975.9 891.4,1975.5 892.4,1974.9 893.4,1974.4 894.4,1973.9 895.4,1973.3 896.4,1972.7 897.4,1972.2 898.4,1971.8 899.3,1971.4 899.4,1971.4 900.4,1971.1 901.4,1970.9 902.4,1970.7 903.4,1970.5 904.4,1970.2 905.4,1970.0 906.4,1969.8 907.4,1969.6 908.4,1969.4 909.4,1969.2 910.4,1969.1 911.4,1968.9 912.4,1968.8 913.4,1968.7 914.1,1968.6 914.4,1968.7 915.4,1969.0 916.4,1969.3 917.4,1969.8 918.4,1970.3 919.4,1970.8 920.4,1971.4 921.4,1971.9 922.4,1972.4 923.4,1972.9 924.4,1973.3 925.4,1973.6 926.1,1973.8 926.4,1973.7 927.4,1973.4 928.4,1972.9 929.4,1972.3 930.4,1971.7 931.4,1971.1 932.4,1970.5 933.4,1970.0 934.4,1969.6 935.3,1969.3 935.4,1969.3 936.4,1969.3 937.4,1969.3 938.4,1969.3 939.4,1969.3 940.4,1969.3 941.4,1969.3 942.4,1969.3 943.4,1969.3 944.4,1969.3 945.4,1969.3 946.4,1969.3 947.4,1969.3 948.0,1969.3" stroke="#4a4a4a" stroke-width="1" fill="none"/>
<polygon points="410.4,1838.1 411.4,1837.1 412.4,1836.2 413.4,1835.3 414.4,1834.5 415.4,1833.9 416.1,1833.6 416.4,1833.6 417.4,1833.7 418.4,1833.7 419.4,1833.8 420.4,1833.9 421.4,1834.0 422.4,1834.0 423.4,1834.1 424.0,1834.2 424.4,1834.3 425.4,1834.5 426.4,1834.7 427.4,1835.0 428.4,1835.3 429.4,1835.5 430.4,1835.8 431.4,1836.0 432.4,1836.2 433.1,1836.3 433.4,1836.2 434.4,1835.8 435.4,1835.3 436.4,1834.8 437.4,1834.1 438.4,1833.5 439.4,1832.9 440.4,1832.3 441.4,1831.9 442.3,1831.6 442.4,1831.6 443.4,1831.8 444.4,1832.1 445.4,1832.4 446.4,1832.7 447.4,1833.1 448.4,1833.5 449.4,1833.9 450.1,1834.2 450.4,1834.5 451.4,1835.5 452.4,1836.6 453.4,1837.8 454.4,1839.1 455.4,1840.4 456.4,1841.7 456.6,1842.0 457.4,1843.3 458.4,1844.9 459.4,1846.6 460.4,1848.3 461.4,1850.0 462.4,1851.7 463.4,1853.4 464.4,1854.9 464.5,1855.1 465.4,1856.2 466.4,1857.6 467.4,1858.9 468.4,1860.1 469.4,1861.1 470.4,1862.0 471.0,1862.4 471.4,1862.4 472.4,1862.4 473.4,1862.4 474.4,1862.3 475.4,1862.3 476.4,1862.3 477.4,1862.2 478.4,1862.2 479.4,1862.2 480.4,1862.1 481.4,1862.1 481.5,1862.1 482.4,1862.0 483.4,1861.9 484.4,1861.8 485.4,1861.7 486.4,1861.6 487.4,1861.4 488.4,1861.3 489.4,1861.1 490.4,1861.0 491.4,1860.9 492.4,1860.7 493.4,1860.6 494.4,1860.5 495.4,1860.4 496.4,1860.3 497.1,1860.3 497.4,1860.3 498.4,1860.4 499.4,1860.6 500.4,1860.7 501.4,1860.9 501.8,1861.0 501.8,1906.2 501.4,1906.1 500.4,1906.0 499.4,1905.8 498.4,1905.7 497.4,1905.6 497.1,1905.5 496.4,1905.6 495.4,1905.7 494.4,1905.8 493.4,1905.9 492.4,1906.0 491.4,1906.1 490.4,1906.3 489.4,1906.4 488.4,1906.6 487.4,1906.7 486.4,1906.8 485.4,1907.0 484.4,1907.1 483.4,1907.2 482.4,1907.3 481.5,1907.4 481.4,1907.4 480.4,1907.4 479.4,1907.5 478.4,1907.5 477.4,1907.6 476.4,1907.6 475.4,1907.6 474.4,1907.7 473.4,1907.7 472.4,1907.7 471.4,1907.7 471.0,1907.7 470.4,1907.3 469.4,1906.5 468.4,1905.4 467.4,1904.2 466.4,1902.9 465.4,1901.6 464.5,1900.5 464.4,1900.3 463.4,1898.8 462.4,1897.1 461.4,1895.4 460.4,1893.7 459.4,1892.0 458.4,1890.3 457.4,1888.6 456.6,1887.4 456.4,1887.1 455.4,1885.8 454.4,1884.5 453.4,1883.2 452.4,1882.0 451.4,1880.9 450.4,1879.9 450.1,1879.6 449.4,1879.3 448.4,1878.9 447.4,1878.5 446.4,1878.1 445.4,1877.8 444.4,1877.5 443.4,1877.3 442.4,1877.1 442.3,1877.0 441.4,1877.3 440.4,1877.8 439.4,1878.3 438.4,1879.0 437.4,1879.6 436.4,1880.2 435.4,1880.8 434.4,1881.3 433.4,1881.7 433.1,1881.8 432.4,1881.7 431.4,1881.5 430.4,1881.3 429.4,1881.0 428.4,1880.8 427.4,1880.5 426.4,1880.2 425.4,1880.0 424.4,1879.8 424.0,1879.7 423.4,1879.7 422.4,1879.6 421.4,1879.5 420.4,1879.4 419.4,1879.3 418.4,1879.3 417.4,1879.2 416.4,1879.2 416.1,1879.1 415.4,1879.5 414.4,1880.1 413.4,1880.9 412.4,1881.7 411.4,1882.7 410.4,1883.7" fill="#1c1b1b"/>
<polygon points="511.5,1862.1 512.4,1861.9 513.4,1861.6 514.4,1861.2 515.4,1860.8 516.4,1860.4 517.4,1860.1 518.4,1859.7 519.4,1859.4 520.4,1859.1 520.7,1859.0 521.4,1858.9 522.4,1858.8 523.4,1858.7 524.4,1858.6 525.4,1858.5 526.4,1858.4 527.4,1858.3 528.4,1858.2 528.5,1858.2 529.4,1857.9 530.4,1857.4 531.4,1856.8 532.4,1856.3 533.4,1855.7 534.4,1855.2 535.4,1854.8 536.3,1854.5 536.4,1854.5 537.4,1854.8 538.4,1855.1 539.4,1855.5 540.4,1855.9 541.4,1856.3 541.6,1856.4 542.4,1857.1 543.4,1858.1 544.4,1859.2 545.4,1860.3 546.4,1861.5 547.4,1862.7 548.4,1863.7 549.4,1864.6 550.4,1865.3 550.7,1865.5 551.4,1865.5 552.4,1865.4 553.4,1865.4 554.4,1865.3 555.4,1865.2 556.4,1865.2 557.4,1865.1 558.4,1865.1 559.4,1865.0 559.8,1865.0 560.4,1865.0 561.4,1865.1 562.4,1865.3 563.4,1865.4 564.4,1865.6 565.4,1865.7 566.4,1865.9 567.4,1866.1 568.4,1866.2 569.4,1866.4 570.4,1866.5 571.4,1866.7 572.4,1866.8 572.9,1866.8 573.4,1866.8 574.4,1866.7 575.4,1866.5 576.4,1866.4 577.4,1866.2 578.4,1866.1 579.4,1865.9 580.4,1865.7 581.4,1865.6 582.4,1865.4 583.4,1865.3 584.4,1865.2 585.4,1865.1 586.4,1865.0 587.4,1865.0 588.4,1864.9 589.4,1864.8 590.3,1864.8 590.4,1864.8 591.4,1865.2 592.4,1865.6 593.4,1866.2 594.0,1866.5 594.4,1866.9 595.4,1868.3 596.2,1869.5 596.4,1870.0 597.4,1872.8 597.9,1874.2 597.9,1916.2 597.4,1915.0 596.4,1912.5 596.2,1912.0 595.4,1911.0 594.4,1910.0 594.0,1909.7 593.4,1909.5 592.4,1909.2 591.4,1909.1 590.4,1909.0 590.3,1909.0 589.4,1909.3 588.4,1909.7 587.4,1909.9 586.4,1910.0 585.4,1910.0 584.4,1910.1 583.4,1910.2 582.4,1910.3 581.4,1910.5 580.4,1910.7 579.4,1910.8 578.4,1911.0 577.4,1911.2 576.4,1911.3 575.4,1911.5 574.4,1911.6 573.4,1911.7 572.9,1911.8 572.4,1911.7 571.4,1911.6 570.4,1911.5 569.4,1911.4 568.4,1911.2 567.4,1911.1 566.4,1910.9 565.4,1910.7 564.4,1910.6 563.4,1910.4 562.4,1910.3 561.4,1910.1 560.4,1910.0 559.8,1910.0 559.4,1910.0 558.4,1910.1 557.4,1910.1 556.4,1910.2 555.4,1910.3 554.4,1910.3 553.4,1910.4 552.4,1910.5 551.4,1910.5 550.7,1910.5 550.4,1910.4 549.4,1909.7 548.4,1908.8 547.4,1907.7 546.4,1906.6 545.4,1905.4 544.4,1904.2 543.4,1903.1 542.4,1902.1 541.6,1901.5 541.4,1901.4 540.4,1901.0 539.4,1900.5 538.4,1900.2 537.4,1899.8 536.4,1899.6 536.3,1899.6 535.4,1899.9 534.4,1900.3 533.4,1900.8 532.4,1901.4 531.4,1901.9 530.4,1902.5 529.4,1903.0 528.5,1903.3 528.4,1903.3 527.4,1903.5 526.4,1903.6 525.4,1903.7 524.4,1903.8 523.4,1903.9 522.4,1904.0 521.4,1904.1 520.7,1904.2 520.4,1904.2 519.4,1904.5 518.4,1904.8 517.4,1905.2 516.4,1905.6 515.4,1906.0 514.4,1906.4 513.4,1906.7 512.4,1907.1 511.5,1907.3" fill="#1c1b1b"/>
<polygon points="612.0,1899.1 612.4,1899.6 612.5,1899.8 613.4,1901.0 614.4,1902.3 615.4,1903.6 616.4,1904.8 617.4,1906.1 618.4,1907.3 619.3,1908.4 619.4,1908.5 620.4,1909.6 621.4,1910.7 622.4,1911.7 623.4,1912.8 624.4,1913.8 625.4,1914.9 626.4,1915.9 627.4,1916.9 627.9,1917.4 628.4,1917.9 629.4,1918.8 630.4,1919.7 631.4,1920.5 632.4,1921.4 633.4,1922.3 634.4,1923.2 635.4,1924.0 636.4,1924.9 637.4,1925.8 638.4,1926.7 639.4,1927.6 639.8,1928.0 640.4,1928.6 641.4,1929.7 642.4,1930.8 643.4,1931.8 644.4,1933.0 645.4,1934.1 646.4,1935.3 647.4,1936.5 647.5,1936.6 648.4,1938.1 648.8,1938.8 648.8,1983.6 648.4,1982.8 647.5,1981.5 647.4,1981.4 646.4,1980.3 645.4,1979.3 644.4,1978.4 643.4,1977.4 642.4,1976.5 641.4,1975.6 640.4,1974.8 639.8,1974.2 639.4,1973.9 638.4,1973.1 637.4,1972.3 636.4,1971.5 635.4,1970.7 634.4,1969.9 633.4,1969.1 632.4,1968.4 631.4,1967.6 630.4,1966.8 629.4,1966.0 628.4,1965.2 627.9,1964.8 627.4,1964.1 626.4,1962.8 625.4,1961.5 624.4,1960.1 623.4,1958.8 622.4,1957.5 621.4,1956.1 620.4,1954.7 619.4,1953.3 619.3,1953.2 618.4,1951.8 617.4,1950.3 616.4,1948.5 615.4,1946.4 614.4,1944.3 613.4,1942.2 612.5,1940.3 612.4,1940.2 612.0,1939.7" fill="#1c1b1b"/>
<polygon points="743.4,1958.0 744.4,1958.1 745.4,1958.1 746.4,1958.2 747.4,1958.3 748.4,1958.4 749.4,1958.5 750.4,1958.6 751.4,1958.7 752.4,1958.8 753.4,1958.9 754.4,1959.0 755.4,1959.1 756.4,1959.2 757.4,1959.3 757.8,1959.3 758.4,1959.3 759.4,1959.4 760.4,1959.4 761.4,1959.4 762.4,1959.5 763.4,1959.5 764.4,1959.5 765.4,1959.5 766.4,1959.6 767.4,1959.6 768.4,1959.6 769.4,1959.6 770.4,1959.7 771.4,1959.7 772.4,1959.7 772.7,1959.7 773.1,1959.6 773.1,2005.2 772.7,2005.3 772.4,2005.3 771.4,2005.3 770.4,2005.3 769.4,2005.2 768.4,2005.2 767.4,2005.2 766.4,2005.2 765.4,2005.1 764.4,2005.1 763.4,2005.1 762.4,2005.1 761.4,2005.0 760.4,2005.0 759.4,2005.0 758.4,2004.9 757.8,2004.9 757.4,2004.9 756.4,2004.8 755.4,2004.7 754.4,2004.6 753.4,2004.5 752.4,2004.4 751.4,2004.3 750.4,2004.2 749.4,2004.1 748.4,2004.0 747.4,2003.9 746.4,2003.8 745.4,2003.7 744.4,2003.7 743.4,2003.6" fill="#1c1b1b"/>
<polygon points="795.9,1955.0 796.4,1955.0 797.4,1954.9 798.4,1954.8 799.4,1954.7 800.4,1954.6 801.4,1954.4 802.4,1954.3 803.4,1954.2 804.4,1954.0 805.3,1953.9 805.4,1953.9 806.4,1953.6 807.4,1953.2 808.1,1952.9 808.1,1998.5 807.4,1998.8 806.4,1999.2 805.4,1999.5 805.3,1999.5 804.4,1999.6 803.4,1999.8 802.4,1999.9 801.4,2000.0 800.4,2000.2 799.4,2000.3 798.4,2000.4 797.4,2000.5 796.4,2000.6 795.9,2000.6" fill="#1c1b1b"/>
<polygon points="816.8,1949.1 817.4,1948.9 818.4,1948.5 818.8,1948.3 819.4,1948.1 820.4,1947.7 821.4,1947.3 822.4,1946.8 823.4,1946.4 824.4,1946.0 825.4,1945.5 826.4,1945.1 827.4,1944.7 828.4,1944.3 829.4,1943.9 830.4,1943.5 831.4,1943.2 832.4,1942.9 833.4,1942.6 834.4,1942.3 834.4,1987.9 833.4,1988.2 832.4,1988.5 831.4,1988.8 830.4,1989.1 829.4,1989.5 828.4,1989.9 827.4,1990.3 826.4,1990.7 825.4,1991.1 824.4,1991.6 823.4,1992.0 822.4,1992.4 821.4,1992.9 820.4,1993.3 819.4,1993.7 818.8,1993.9 818.4,1994.1 817.4,1994.5 816.8,1994.7" fill="#1c1b1b"/>
<polygon points="857.8,1931.7 858.4,1931.5 859.4,1931.0 860.4,1930.4 861.4,1929.7 862.4,1929.0 863.4,1928.4 864.4,1927.7 865.4,1927.1 866.4,1926.5 867.4,1926.1 868.0,1925.9 868.4,1925.9 869.4,1926.0 870.2,1926.0 870.2,1971.6 869.4,1971.6 868.4,1971.5 868.0,1971.5 867.4,1971.7 866.4,1972.1 865.4,1972.7 864.4,1973.3 863.4,1974.0 862.4,1974.6 861.4,1975.3 860.4,1976.0 859.4,1976.6 858.4,1977.1 857.8,1977.3" fill="#1c1b1b"/>
<polygon points="888.0,1931.0 888.3,1931.0 888.4,1931.0 889.4,1930.7 890.4,1930.3 891.4,1929.9 892.4,1929.3 893.4,1928.8 894.4,1928.3 895.4,1927.7 896.4,1927.1 897.4,1926.6 898.4,1926.2 899.3,1925.8 899.4,1925.8 900.4,1925.5 901.4,1925.3 902.4,1925.1 903.4,1924.9 904.3,1924.7 904.3,1970.3 903.4,1970.5 902.4,1970.7 901.4,1970.9 900.4,1971.1 899.4,1971.4 899.3,1971.4 898.4,1971.8 897.4,1972.2 896.4,1972.7 895.4,1973.3 894.4,1973.9 893.4,1974.4 892.4,1974.9 891.4,1975.5 890.4,1975.9 889.4,1976.3 888.4,1976.6 888.3,1976.6 888.0,1976.6" fill="#1c1b1b"/>
<polygon points="926.8,1928.0 927.4,1927.8 928.4,1927.3 929.4,1926.7 930.4,1926.1 931.4,1925.5 932.4,1924.9 933.4,1924.4 934.4,1924.0 935.3,1923.7 935.4,1923.7 936.4,1923.7 937.4,1923.7 938.4,1923.7 939.4,1923.7 940.4,1923.7 941.4,1923.7 942.4,1923.7 943.4,1923.7 944.4,1923.7 945.4,1923.7 946.4,1923.7 947.4,1923.7 948.0,1923.7 948.0,1969.3 947.4,1969.3 946.4,1969.3 945.4,1969.3 944.4,1969.3 943.4,1969.3 942.4,1969.3 941.4,1969.3 940.4,1969.3 939.4,1969.3 938.4,1969.3 937.4,1969.3 936.4,1969.3 935.4,1969.3 935.3,1969.3 934.4,1969.6 933.4,1970.0 932.4,1970.5 931.4,1971.1 930.4,1971.7 929.4,1972.3 928.4,1972.9 927.4,1973.4 926.8,1973.6" fill="#1c1b1b"/>
</g>
<polyline points="410.4,1838.1 411.4,1837.1 412.4,1836.2 413.4,1835.3 414.4,1834.5 415.4,1833.9 416.1,1833.6 416.4,1833.6 417.4,1833.7 418.4,1833.7 419.4,1833.8 420.4,1833.9 421.4,1834.0 422.4,1834.0 423.4,1834.1 424.0,1834.2 424.4,1834.3 425.4,1834.5 426.4,1834.7 427.4,1835.0 428.4,1835.3 429.4,1835.5 430.4,1835.8 431.4,1836.0 432.4,1836.2 433.1,1836.3 433.4,1836.2 434.4,1835.8 435.4,1835.3 436.4,1834.8 437.4,1834.1 438.4,1833.5 439.4,1832.9 440.4,1832.3 441.4,1831.9 442.3,1831.6 442.4,1831.6 443.4,1831.8 444.4,1832.1 445.4,1832.4 446.4,1832.7 447.4,1833.1 448.4,1833.5 449.4,1833.9 450.1,1834.2 450.4,1834.5 451.4,1835.5 452.4,1836.6 453.4,1837.8 454.4,1839.1 455.4,1840.4 456.4,1841.7 456.6,1842.0 457.4,1843.3 458.4,1844.9 459.4,1846.6 460.4,1848.3 461.4,1850.0 462.4,1851.7 463.4,1853.4 464.4,1854.9 464.5,1855.1 465.4,1856.2 466.4,1857.6 467.4,1858.9 468.4,1860.1 469.4,1861.1 470.4,1862.0 471.0,1862.4 471.4,1862.4 472.4,1862.4 473.4,1862.4 474.4,1862.3 475.4,1862.3 476.4,1862.3 477.4,1862.2 478.4,1862.2 479.4,1862.2 480.4,1862.1 481.4,1862.1 481.5,1862.1 482.4,1862.0 483.4,1861.9 484.4,1861.8 485.4,1861.7 486.4,1861.6 487.4,1861.4 488.4,1861.3 489.4,1861.1 490.4,1861.0 491.4,1860.9 492.4,1860.7 493.4,1860.6 494.4,1860.5 495.4,1860.4 496.4,1860.3 497.1,1860.3 497.4,1860.3 498.4,1860.4 499.4,1860.6 500.4,1860.7 501.4,1860.9 502.4,1861.1 503.4,1861.3 504.4,1861.5 505.4,1861.7 506.4,1861.9 507.4,1862.1 508.4,1862.2 509.4,1862.3 510.2,1862.4 510.4,1862.4 511.4,1862.2 512.4,1861.9 513.4,1861.6 514.4,1861.2 515.4,1860.8 516.4,1860.4 517.4,1860.1 518.4,1859.7 519.4,1859.4 520.4,1859.1 520.7,1859.0 521.4,1858.9 522.4,1858.8 523.4,1858.7 524.4,1858.6 525.4,1858.5 526.4,1858.4 527.4,1858.3 528.4,1858.2 528.5,1858.2 529.4,1857.9 530.4,1857.4 531.4,1856.8 532.4,1856.3 533.4,1855.7 534.4,1855.2 535.4,1854.8 536.3,1854.5 536.4,1854.5 537.4,1854.8 538.4,1855.1 539.4,1855.5 540.4,1855.9 541.4,1856.3 541.6,1856.4 542.4,1857.1 543.4,1858.1 544.4,1859.2 545.4,1860.3 546.4,1861.5 547.4,1862.7 548.4,1863.7 549.4,1864.6 550.4,1865.3 550.7,1865.5 551.4,1865.5 552.4,1865.4 553.4,1865.4 554.4,1865.3 555.4,1865.2 556.4,1865.2 557.4,1865.1 558.4,1865.1 559.4,1865.0 559.8,1865.0 560.4,1865.0 561.4,1865.1 562.4,1865.3 563.4,1865.4 564.4,1865.6 565.4,1865.7 566.4,1865.9 567.4,1866.1 568.4,1866.2 569.4,1866.4 570.4,1866.5 571.4,1866.7 572.4,1866.8 572.9,1866.8 573.4,1866.8 574.4,1866.7 575.4,1866.5 576.4,1866.4 577.4,1866.2 578.4,1866.1 579.4,1865.9 580.4,1865.7 581.4,1865.6 582.4,1865.4 583.4,1865.3 584.4,1865.2 585.4,1865.1 586.4,1865.0 587.4,1865.0 588.4,1864.9 589.4,1864.8 590.3,1864.8 590.4,1864.8 591.4,1865.2 592.4,1865.6 593.4,1866.2 594.0,1866.5 594.4,1866.9 595.4,1868.3 596.2,1869.5 596.4,1870.0 597.4,1872.8 597.9,1874.2 598.4,1875.2 599.4,1877.2 600.4,1879.1 601.4,1881.0 602.4,1882.8 603.4,1884.6 604.4,1886.4 605.4,1888.1 606.4,1889.8 607.4,1891.5 608.4,1893.2 609.4,1894.8 610.4,1896.4 611.4,1898.0 612.4,1899.6 612.5,1899.8 613.4,1901.0 614.4,1902.3 615.4,1903.6 616.4,1904.8 617.4,1906.1 618.4,1907.3 619.3,1908.4 619.4,1908.5 620.4,1909.6 621.4,1910.7 622.4,1911.7 623.4,1912.8 624.4,1913.8 625.4,1914.9 626.4,1915.9 627.4,1916.9 627.9,1917.4 628.4,1917.9 629.4,1918.8 630.4,1919.7 631.4,1920.5 632.4,1921.4 633.4,1922.3 634.4,1923.2 635.4,1924.0 636.4,1924.9 637.4,1925.8 638.4,1926.7 639.4,1927.6 639.8,1928.0 640.4,1928.6 641.4,1929.7 642.4,1930.8 643.4,1931.8 644.4,1933.0 645.4,1934.1 646.4,1935.3 647.4,1936.5 647.5,1936.6 648.4,1938.1 649.4,1939.9 650.4,1941.7 651.4,1943.7 652.4,1945.5 653.4,1947.4 654.4,1949.1 655.2,1950.3 655.4,1950.5 656.4,1951.5 657.4,1952.4 658.4,1953.3 659.4,1954.1 660.4,1954.9 661.4,1955.7 662.1,1956.2 662.4,1956.4 663.4,1956.9 664.4,1957.5 665.4,1958.0 666.4,1958.5 667.4,1959.0 668.4,1959.5 669.4,1960.0 670.4,1960.3 671.4,1960.7 672.3,1960.9 672.4,1960.9 673.4,1960.8 674.4,1960.6 675.4,1960.4 676.4,1960.1 677.4,1959.9 678.4,1959.6 679.4,1959.4 680.4,1959.1 681.4,1959.0 682.4,1958.8 682.6,1958.8 683.4,1959.3 684.4,1960.3 685.4,1961.4 686.4,1962.5 687.4,1963.3 687.7,1963.5 688.4,1963.4 689.4,1963.3 690.0,1963.2 690.4,1963.1 691.4,1962.7 692.4,1962.3 693.4,1961.9 694.4,1961.6 695.1,1961.4 695.4,1961.5 696.4,1961.9 697.4,1962.5 698.4,1963.1 699.4,1963.7 700.4,1964.1 700.5,1964.1 701.4,1963.9 702.4,1963.4 703.4,1963.0 704.4,1962.5 705.3,1962.2 705.4,1962.2 706.4,1962.0 707.4,1961.8 708.4,1961.7 709.4,1961.6 710.4,1961.4 711.4,1961.3 712.4,1961.1 712.9,1961.0 713.4,1960.7 714.4,1959.9 715.4,1959.0 716.4,1958.0 717.4,1957.0 718.4,1956.0 719.4,1955.2 720.4,1954.6 720.5,1954.6 721.4,1955.3 722.4,1956.4 723.4,1957.7 724.4,1958.9 725.4,1959.9 725.9,1960.2 726.4,1960.0 727.4,1959.5 728.4,1958.8 729.4,1958.2 730.4,1957.7 730.7,1957.6 731.4,1958.1 732.4,1959.1 733.4,1960.2 734.4,1961.0 735.4,1960.5 736.4,1959.8 737.4,1959.0 738.3,1958.5 738.4,1958.5 739.4,1958.4 740.4,1958.2 741.4,1958.1 742.4,1958.1 743.4,1958.0 744.4,1958.1 745.4,1958.1 746.4,1958.2 747.4,1958.3 748.4,1958.4 749.4,1958.5 750.4,1958.6 751.4,1958.7 752.4,1958.8 753.4,1958.9 754.4,1959.0 755.4,1959.1 756.4,1959.2 757.4,1959.3 757.8,1959.3 758.4,1959.3 759.4,1959.4 760.4,1959.4 761.4,1959.4 762.4,1959.5 763.4,1959.5 764.4,1959.5 765.4,1959.5 766.4,1959.6 767.4,1959.6 768.4,1959.6 769.4,1959.6 770.4,1959.7 771.4,1959.7 772.4,1959.7 772.7,1959.7 773.4,1959.5 774.4,1959.1 775.4,1958.6 776.4,1958.0 777.4,1957.4 778.4,1956.8 779.4,1956.2 780.4,1955.8 781.4,1955.4 781.5,1955.4 782.4,1955.4 783.4,1955.3 784.4,1955.3 785.4,1955.3 786.4,1955.3 787.4,1955.3 788.4,1955.2 789.4,1955.2 790.4,1955.2 791.4,1955.2 792.4,1955.2 793.4,1955.1 794.4,1955.1 795.1,1955.1 795.4,1955.1 796.4,1955.0 797.4,1954.9 798.4,1954.8 799.4,1954.7 800.4,1954.6 801.4,1954.4 802.4,1954.3 803.4,1954.2 804.4,1954.0 805.3,1953.9 805.4,1953.9 806.4,1953.6 807.4,1953.2 808.4,1952.8 809.4,1952.4 810.4,1952.0 811.4,1951.6 812.4,1951.1 813.4,1950.7 814.4,1950.2 815.4,1949.8 816.4,1949.3 817.4,1948.9 818.4,1948.5 818.8,1948.3 819.4,1948.1 820.4,1947.7 821.4,1947.3 822.4,1946.8 823.4,1946.4 824.4,1946.0 825.4,1945.5 826.4,1945.1 827.4,1944.7 828.4,1944.3 829.4,1943.9 830.4,1943.5 831.4,1943.2 832.4,1942.9 833.4,1942.6 834.4,1942.3 835.4,1942.1 835.8,1942.0 836.4,1942.2 837.4,1942.7 838.4,1943.2 839.4,1943.8 840.4,1944.4 841.4,1944.8 841.7,1944.9 842.4,1944.4 843.4,1943.5 844.4,1942.4 845.4,1941.2 846.4,1939.8 847.4,1938.4 848.4,1937.0 849.4,1935.6 850.4,1934.4 851.4,1933.3 852.4,1932.4 852.7,1932.2 853.4,1932.1 854.4,1932.0 855.4,1931.9 856.4,1931.8 857.4,1931.7 857.8,1931.7 858.4,1931.5 859.4,1931.0 860.4,1930.4 861.4,1929.7 862.4,1929.0 863.4,1928.4 864.4,1927.7 865.4,1927.1 866.4,1926.5 867.4,1926.1 868.0,1925.9 868.4,1925.9 869.4,1926.0 870.4,1926.0 871.4,1926.1 872.4,1926.1 873.4,1926.2 874.4,1926.3 874.7,1926.3 875.4,1926.5 876.4,1927.0 877.4,1927.5 878.4,1928.1 879.4,1928.6 880.4,1929.2 881.4,1929.7 882.4,1930.2 883.2,1930.5 883.4,1930.5 884.4,1930.6 885.4,1930.8 886.4,1930.9 887.4,1930.9 888.3,1931.0 888.4,1931.0 889.4,1930.7 890.4,1930.3 891.4,1929.9 892.4,1929.3 893.4,1928.8 894.4,1928.3 895.4,1927.7 896.4,1927.1 897.4,1926.6 898.4,1926.2 899.3,1925.8 899.4,1925.8 900.4,1925.5 901.4,1925.3 902.4,1925.1 903.4,1924.9 904.4,1924.6 905.4,1924.4 906.4,1924.2 907.4,1924.0 908.4,1923.8 909.4,1923.6 910.4,1923.5 911.4,1923.3 912.4,1923.2 913.4,1923.1 914.1,1923.0 914.4,1923.1 915.4,1923.4 916.4,1923.7 917.4,1924.2 918.4,1924.7 919.4,1925.2 920.4,1925.8 921.4,1926.3 922.4,1926.8 923.4,1927.3 924.4,1927.7 925.4,1928.0 926.1,1928.2 926.4,1928.1 927.4,1927.8 928.4,1927.3 929.4,1926.7 930.4,1926.1 931.4,1925.5 932.4,1924.9 933.4,1924.4 934.4,1924.0 935.3,1923.7 935.4,1923.7 936.4,1923.7 937.4,1923.7 938.4,1923.7 939.4,1923.7 940.4,1923.7 941.4,1923.7 942.4,1923.7 943.4,1923.7 944.4,1923.7 945.4,1923.7 946.4,1923.7 947.4,1923.7 948.0,1923.7 948.4,1923.7 949.4,1923.8 950.4,1923.8 951.4,1923.9 952.4,1924.0 953.4,1924.1 954.4,1924.1 955.4,1924.2 956.4,1924.3 957.4,1924.4 958.4,1924.5 959.4,1924.6 960.4,1924.7 961.4,1924.8 962.4,1924.9 963.4,1924.9 964.4,1925.0 965.4,1925.1 966.4,1925.1 967.4,1924.8 968.4,1924.5 969.4,1924.1 970.4,1923.6 971.3,1923.2 971.4,1923.1 972.4,1922.5 973.4,1921.8 974.4,1921.1 975.4,1920.3 976.4,1919.5 977.4,1918.7 978.4,1917.9 979.4,1917.1 980.4,1916.3 981.4,1915.5 982.4,1914.6 983.4,1913.8 984.4,1912.9 984.7,1912.7 985.4,1912.1 986.4,1911.1 987.4,1910.1 988.4,1909.1 989.4,1908.2 990.4,1907.2 991.4,1906.3 991.8,1906.0 992.4,1905.6 993.4,1905.0 994.4,1904.4 995.4,1903.8 996.4,1903.2 997.4,1902.6 998.4,1902.1 999.4,1901.5 1000.4,1900.9 1001.4,1900.3 1002.4,1899.7 1003.4,1898.9 1004.4,1898.1 1005.4,1897.3 1006.4,1896.4 1007.4,1895.6 1008.4,1894.7 1009.4,1893.9 1010.4,1893.0 1011.4,1892.2 1012.4,1891.5 1013.4,1890.8 1014.4,1890.1 1015.4,1889.7 1016.4,1889.4 1017.4,1889.1 1018.4,1888.8 1019.4,1888.6 1020.4,1888.3 1021.4,1888.1 1022.4,1887.8 1023.4,1887.5 1024.4,1887.2 1025.4,1886.9 1026.4,1886.6 1027.4,1886.3 1027.8,1886.1 1028.4,1885.7 1029.4,1884.9 1030.4,1884.1 1031.4,1883.2 1032.4,1882.2 1033.4,1881.2 1034.4,1880.1 1035.4,1879.0 1035.6,1878.8 1036.4,1877.1 1037.4,1874.8 1038.4,1872.4 1039.4,1869.8 1040.4,1867.1 1041.4,1864.3 1042.4,1861.4 1043.4,1858.5 1044.4,1855.4 1045.4,1852.3 1046.4,1849.1 1047.4,1845.9 1048.4,1842.6 1049.0,1840.6 1049.4,1838.8 1050.4,1834.0 1051.4,1829.0 1052.4,1823.7 1053.4,1818.4 1054.4,1813.0 1055.4,1807.6 1056.1,1803.9 1056.4,1802.3 1057.4,1796.8 1058.4,1791.2 1059.4,1785.6 1060.3,1780.6" stroke="#1c1b1b" stroke-width="3.4" fill="none" stroke-linejoin="round" stroke-linecap="butt"/>
<line x1="902.6" y1="1207.3" x2="902.6" y2="1971.4" stroke="#000" stroke-width="3" stroke-dasharray="21.7 12.43"/>
<line x1="1098.9" y1="1784.0" x2="1098.9" y2="2003.0" stroke="#2b2a29" stroke-width="1.8"/>
<line x1="1098.9" y1="1815.1" x2="1114.7" y2="1815.1" stroke="#2b2a29" stroke-width="1.6"/>
<line x1="1098.9" y1="1858.2" x2="1114.7" y2="1858.2" stroke="#2b2a29" stroke-width="1.6"/>
<line x1="1098.9" y1="1901.3" x2="1114.7" y2="1901.3" stroke="#2b2a29" stroke-width="1.6"/>
<line x1="1098.9" y1="1944.4" x2="1114.7" y2="1944.4" stroke="#2b2a29" stroke-width="1.6"/>
<line x1="1098.9" y1="1987.5" x2="1114.7" y2="1987.5" stroke="#2b2a29" stroke-width="1.6"/>
<text transform="translate(213.21,32.70) scale(1.0591,1.0000)" font-size="43.5" fill="#231f20">N</text>
<text transform="translate(1326.84,32.30) scale(0.9921,1.0000)" font-size="43.5" fill="#231f20">S</text>
<text transform="translate(646.73,35.00) scale(0.8754,1.0000)" font-size="29.5" fill="#111" stroke="#111" stroke-width="0.45">Profile −Prydz Bay− [km]</text>
<text transform="translate(838.54,158.10) scale(1.0093,1.0000)" font-size="31.3" fill="#231f20">onset of</text>
<text transform="translate(838.54,192.50) scale(1.0027,1.0000)" font-size="31.3" fill="#231f20">oceanic crust</text>
<text transform="translate(1.26,230.00) scale(0.9936,1.0000)" font-size="31.3" fill="#231f20">data</text>
<text transform="translate(1.15,385.10) scale(1.0288,1.0000)" font-size="31.3" fill="#231f20">model</text>
<text transform="translate(229.24,339.40) scale(0.9854,1.0000)" font-size="32.5" fill="#231f20">M1r</text>
<text transform="translate(531.89,339.40) scale(1.1202,1.0000)" font-size="32.5" fill="#231f20">M4</text>
<text transform="translate(645.76,339.40) scale(1.0137,1.0000)" font-size="32.5" fill="#231f20">M6n</text>
<text transform="translate(835.68,339.40) scale(1.0085,1.0000)" font-size="32.5" fill="#231f20">M9n</text>
<text transform="translate(1408.80,448.18) rotate(-90) scale(0.9669,0.8900)" font-size="29.5" fill="#111" stroke="#111" stroke-width="0.25">Mag [nT]</text>
<text transform="translate(213.68,685.30) scale(1.0336,1.0000)" font-size="31.3" fill="#231f20">20</text>
<text transform="translate(275.49,524.00) scale(1.0038,1.0000)" font-size="31.3" fill="#231f20">160</text>
<text transform="translate(390.25,569.20) scale(0.9791,1.0000)" font-size="31.3" fill="#231f20">120</text>
<text transform="translate(543.60,603.90) scale(1.0211,1.0000)" font-size="31.3" fill="#231f20">90</text>
<text transform="translate(639.48,512.20) scale(1.0079,1.0000)" font-size="31.3" fill="#231f20">170</text>
<text transform="translate(733.84,466.90) scale(0.9949,1.0000)" font-size="31.3" fill="#231f20">210</text>
<text transform="translate(854.63,569.40) scale(0.9873,1.0000)" font-size="31.3" fill="#231f20">120</text>
<text transform="translate(783.02,683.80) scale(1.0117,1.0000)" font-size="31.3" fill="#231f20">60</text>
<text transform="translate(2.91,590.20) scale(0.9794,1.0000)" font-size="29.5" fill="#231f20">full spreading</text>
<text transform="translate(2.27,621.80) scale(0.9825,1.0000)" font-size="29.5" fill="#231f20">rate (km/Myr)</text>
<text transform="translate(8.01,861.50) scale(0.9998,1.0000)" font-size="31.3" fill="#231f20">bathym +`</text>
<text transform="translate(8.34,895.90) scale(1.0061,1.0000)" font-size="31.3" fill="#231f20">age model</text>
<text transform="translate(1008.81,825.40) scale(0.9856,1.0000)" font-size="43" fill="#231f20">EANT</text>
<text transform="translate(1194.22,701.10) scale(0.9486,1.0000)" font-size="31.3" fill="#231f20">2.5</text>
<text transform="translate(1194.52,751.80) scale(0.9414,1.0000)" font-size="31.3" fill="#231f20">3.0</text>
<text transform="translate(1194.52,802.50) scale(0.9414,1.0000)" font-size="31.3" fill="#231f20">3.5</text>
<text transform="translate(1195.12,853.30) scale(0.9272,1.0000)" font-size="31.3" fill="#231f20">4.0</text>
<text transform="translate(1195.12,904.40) scale(0.9272,1.0000)" font-size="31.3" fill="#231f20">4.5</text>
<text transform="translate(1257.60,723.89) rotate(90) scale(0.9960,1.0000)" font-size="31.5" fill="#231f20">Depth (km)</text>
<text transform="translate(391.09,1125.60) scale(1.0673,1.0000)" font-size="43.5" fill="#231f20">N</text>
<text transform="translate(1041.63,1124.60) scale(0.9962,1.0000)" font-size="43.5" fill="#231f20">S</text>
<text transform="translate(526.34,1123.80) scale(0.8722,1.0000)" font-size="29.5" fill="#111" stroke="#111" stroke-width="0.45">Profile −Princess Elizabeth Trough− [km]</text>
<text transform="translate(501.61,1243.00) scale(1.0050,1.0000)" font-size="47.5" fill="#231f20">SKP</text>
<text transform="translate(821.74,1222.10) scale(1.0057,1.0000)" font-size="31.3" fill="#231f20">onset of</text>
<text transform="translate(821.75,1256.90) scale(0.9983,1.0000)" font-size="31.3" fill="#231f20">oceanic crust</text>
<text transform="translate(2.26,1405.90) scale(0.9936,1.0000)" font-size="31.3" fill="#231f20">data</text>
<text transform="translate(1.95,1562.00) scale(1.0288,1.0000)" font-size="31.3" fill="#231f20">model</text>
<text transform="translate(577.22,1527.30) scale(0.9929,1.0000)" font-size="32.5" fill="#231f20">M1r</text>
<text transform="translate(665.66,1550.50) scale(0.9778,1.0000)" font-size="32.5" fill="#231f20">M3r</text>
<text transform="translate(733.48,1515.20) scale(0.9712,1.0000)" font-size="32.5" fill="#231f20">M4</text>
<text transform="translate(857.91,1527.60) scale(0.9949,1.0000)" font-size="32.5" fill="#231f20">M9n</text>
<text transform="translate(1215.20,1628.40) rotate(-90) scale(0.9731,0.8900)" font-size="29.5" fill="#111" stroke="#111" stroke-width="0.25">Mag [nT]</text>
<text transform="translate(541.36,1749.30) scale(1.0284,1.0000)" font-size="31.3" fill="#231f20">40</text>
<text transform="translate(613.86,1708.20) scale(0.9209,1.0000)" font-size="31.3" fill="#231f20">75</text>
<text transform="translate(674.00,1727.80) scale(1.0391,1.0000)" font-size="31.3" fill="#231f20">58</text>
<text transform="translate(749.36,1737.40) scale(0.9926,1.0000)" font-size="31.3" fill="#231f20">50</text>
<text transform="translate(801.47,1710.80) scale(0.9773,1.0000)" font-size="31.3" fill="#231f20">73</text>
<text transform="translate(869.21,1724.60) scale(1.0148,1.0000)" font-size="31.3" fill="#231f20">60</text>
<text transform="translate(842.57,1793.40) scale(1.0041,1.0000)" font-size="31.3" fill="#231f20">40</text>
<text transform="translate(3.21,1744.30) scale(0.9748,1.0000)" font-size="29.5" fill="#231f20">full spreading</text>
<text transform="translate(2.27,1776.10) scale(0.9819,1.0000)" font-size="29.5" fill="#231f20">rate (km/Myr)</text>
<text transform="translate(8.81,1877.40) scale(0.9976,1.0000)" font-size="31.3" fill="#231f20">bathym +`</text>
<text transform="translate(8.94,1912.00) scale(1.0075,1.0000)" font-size="31.3" fill="#231f20">age model</text>
<text transform="translate(511.69,1842.00) scale(1.0139,1.0000)" font-size="47.5" fill="#231f20">SKP</text>
<text transform="translate(972.27,1962.10) scale(0.9684,1.0000)" font-size="43" fill="#231f20">EANT</text>
<text transform="translate(1115.72,1826.00) scale(0.9486,1.0000)" font-size="31.3" fill="#231f20">2.0</text>
<text transform="translate(1115.72,1869.10) scale(0.9486,1.0000)" font-size="31.3" fill="#231f20">2.5</text>
<text transform="translate(1116.02,1912.20) scale(0.9414,1.0000)" font-size="31.3" fill="#231f20">3.0</text>
<text transform="translate(1116.02,1955.30) scale(0.9414,1.0000)" font-size="31.3" fill="#231f20">3.5</text>
<text transform="translate(1116.62,1998.40) scale(0.9272,1.0000)" font-size="31.3" fill="#231f20">4.0</text>
<text transform="translate(1178.60,1825.39) rotate(90) scale(0.9960,1.0000)" font-size="31.5" fill="#231f20">Depth (km)</text>
</svg>
</body></html>
